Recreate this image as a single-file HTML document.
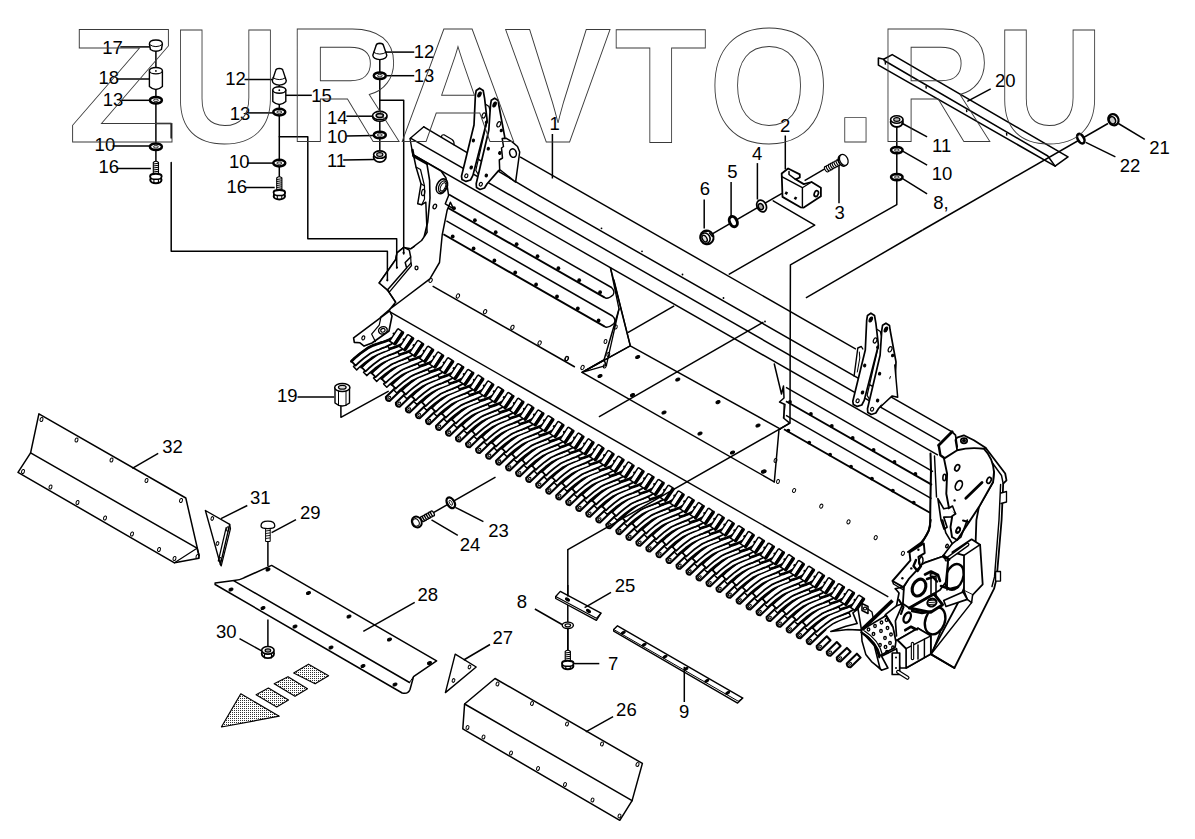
<!DOCTYPE html>
<html><head><meta charset="utf-8"><title>Diagram</title>
<style>
html,body{margin:0;padding:0;background:#fff;}
body{width:1195px;height:839px;overflow:hidden;font-family:"Liberation Sans",sans-serif;}
svg{display:block;}
svg text{font-family:"Liberation Sans",sans-serif;fill:#000;}
</style></head><body>
<svg width="1195" height="839" viewBox="0 0 1195 839">
<rect width="1195" height="839" fill="#fff"/>
<text x="102.2" y="53.9" font-size="18.5" text-anchor="start">17</text>
<text x="98.4" y="84" font-size="18.5" text-anchor="start">18</text>
<text x="102.7" y="106.1" font-size="18.5" text-anchor="start">13</text>
<text x="94.6" y="150.6" font-size="18.5" text-anchor="start">10</text>
<text x="98.4" y="173.2" font-size="18.5" text-anchor="start">16</text>
<text x="225.2" y="84.8" font-size="18.5" text-anchor="start">12</text>
<text x="311.3" y="102.4" font-size="18.5" text-anchor="start">15</text>
<text x="229.7" y="119.9" font-size="18.5" text-anchor="start">13</text>
<text x="229" y="168.1" font-size="18.5" text-anchor="start">10</text>
<text x="226.5" y="192.7" font-size="18.5" text-anchor="start">16</text>
<text x="326.9" y="124" font-size="18.5" text-anchor="start">14</text>
<text x="326.9" y="143" font-size="18.5" text-anchor="start">10</text>
<text x="326.9" y="166.6" font-size="18.5" text-anchor="start">11</text>
<text x="413.7" y="58.2" font-size="18.5" text-anchor="start">12</text>
<text x="413.7" y="82" font-size="18.5" text-anchor="start">13</text>
<text x="549.5" y="129.7" font-size="18.5" text-anchor="start">1</text>
<text x="780" y="132.2" font-size="18.5" text-anchor="start">2</text>
<text x="752" y="159.8" font-size="18.5" text-anchor="start">4</text>
<text x="727.3" y="177.5" font-size="18.5" text-anchor="start">5</text>
<text x="699.7" y="195.3" font-size="18.5" text-anchor="start">6</text>
<text x="834.6" y="219.2" font-size="18.5" text-anchor="start">3</text>
<text x="995" y="86.6" font-size="18.5" text-anchor="start">20</text>
<text x="932" y="151.9" font-size="18.5" text-anchor="start">11</text>
<text x="931.7" y="179.5" font-size="18.5" text-anchor="start">10</text>
<text x="933.2" y="209" font-size="18.5" text-anchor="start">8,</text>
<text x="1149.3" y="154.4" font-size="18.5" text-anchor="start">21</text>
<text x="1119.7" y="172" font-size="18.5" text-anchor="start">22</text>
<text x="277" y="401.6" font-size="18.5" text-anchor="start">19</text>
<text x="162.2" y="452.8" font-size="18.5" text-anchor="start">32</text>
<text x="250" y="504" font-size="18.5" text-anchor="start">31</text>
<text x="300" y="519" font-size="18.5" text-anchor="start">29</text>
<text x="417.5" y="600.5" font-size="18.5" text-anchor="start">28</text>
<text x="215.9" y="637.7" font-size="18.5" text-anchor="start">30</text>
<text x="488.2" y="537.4" font-size="18.5" text-anchor="start">23</text>
<text x="459.8" y="550.5" font-size="18.5" text-anchor="start">24</text>
<text x="614.8" y="591.9" font-size="18.5" text-anchor="start">25</text>
<text x="516.8" y="607.7" font-size="18.5" text-anchor="start">8</text>
<text x="492.5" y="644" font-size="18.5" text-anchor="start">27</text>
<text x="608" y="670.3" font-size="18.5" text-anchor="start">7</text>
<text x="616.1" y="715.7" font-size="18.5" text-anchor="start">26</text>
<text x="679" y="718" font-size="18.5" text-anchor="start">9</text>
<line x1="520" y1="156.8" x2="855.9" y2="349.1" stroke="#000" stroke-width="1.45" />
<path d="M423.8 126.8 L540 196.1 L952.1 431.8" fill="none" stroke="#000" stroke-width="1.5" stroke-linejoin="round" stroke-linecap="round" />
<line x1="410" y1="137.8" x2="940" y2="441.2" stroke="#000" stroke-width="1.45" />
<line x1="413.8" y1="155.1" x2="938" y2="455.2" stroke="#000" stroke-width="1.45" />
<path d="M423.8 126.8 L410 138.5 L413 155.5" fill="none" stroke="#000" stroke-width="1.4" stroke-linejoin="round" stroke-linecap="round" />
<path d="M412.5 150 L413.5 156 L429 166" fill="none" stroke="#000" stroke-width="2.4" stroke-linejoin="round" stroke-linecap="round" />
<path d="M441.5 137.3 Q441.5 134.3 444 134.8 L452 139.4 Q454.5 141 454 144.8" fill="none" stroke="#000" stroke-width="1.2" stroke-linejoin="round" stroke-linecap="round" />
<line x1="449" y1="194.5" x2="611.5" y2="287.5" stroke="#000" stroke-width="1.45" />
<line x1="446" y1="206.7" x2="604.4" y2="297.4" stroke="#000" stroke-width="1.9" />
<path d="M611.5 287.5 Q615.5 291.5 613 295 Q607.4 299.9 604.4 297.4" fill="none" stroke="#000" stroke-width="1.4" stroke-linejoin="round" stroke-linecap="round" />
<line x1="446.4" y1="220.9" x2="612.5" y2="316" stroke="#000" stroke-width="1.45" />
<line x1="443.4" y1="234.2" x2="604.4" y2="326.4" stroke="#000" stroke-width="1.9" />
<path d="M612.5 316 Q616.5 320 614 323.5 Q607.4 328.9 604.4 326.4" fill="none" stroke="#000" stroke-width="1.4" stroke-linejoin="round" stroke-linecap="round" />
<circle cx="454" cy="208.2" r="1.9" fill="#000"/>
<circle cx="452.7" cy="236.5" r="1.9" fill="#000"/>
<circle cx="474.9" cy="220.2" r="1.9" fill="#000"/>
<circle cx="473.6" cy="248.5" r="1.9" fill="#000"/>
<circle cx="495.7" cy="232.2" r="1.9" fill="#000"/>
<circle cx="494.4" cy="260.5" r="1.9" fill="#000"/>
<circle cx="516.6" cy="244.2" r="1.9" fill="#000"/>
<circle cx="515.2" cy="272.5" r="1.9" fill="#000"/>
<circle cx="537.5" cy="256.2" r="1.9" fill="#000"/>
<circle cx="536.1" cy="284.5" r="1.9" fill="#000"/>
<circle cx="558.4" cy="268.2" r="1.9" fill="#000"/>
<circle cx="557" cy="296.5" r="1.9" fill="#000"/>
<circle cx="579.2" cy="280.2" r="1.9" fill="#000"/>
<circle cx="577.8" cy="308.5" r="1.9" fill="#000"/>
<circle cx="600.1" cy="292.2" r="1.9" fill="#000"/>
<circle cx="598.6" cy="320.5" r="1.9" fill="#000"/>
<line x1="786" y1="387.4" x2="933" y2="471.6" stroke="#000" stroke-width="1.45" />
<line x1="786" y1="401.3" x2="932" y2="484.9" stroke="#000" stroke-width="1.9" />
<line x1="786" y1="415.3" x2="931.5" y2="498.6" stroke="#000" stroke-width="1.45" />
<line x1="784" y1="429.2" x2="930" y2="512.8" stroke="#000" stroke-width="1.9" />
<circle cx="790" cy="402" r="1.9" fill="#000"/>
<circle cx="788.3" cy="430.6" r="1.9" fill="#000"/>
<circle cx="810.9" cy="414" r="1.9" fill="#000"/>
<circle cx="809.2" cy="442.6" r="1.9" fill="#000"/>
<circle cx="831.8" cy="426" r="1.9" fill="#000"/>
<circle cx="830.1" cy="454.6" r="1.9" fill="#000"/>
<circle cx="852.7" cy="438" r="1.9" fill="#000"/>
<circle cx="851" cy="466.6" r="1.9" fill="#000"/>
<circle cx="873.6" cy="450" r="1.9" fill="#000"/>
<circle cx="871.9" cy="478.6" r="1.9" fill="#000"/>
<circle cx="894.5" cy="462" r="1.9" fill="#000"/>
<circle cx="892.8" cy="490.6" r="1.9" fill="#000"/>
<circle cx="915.4" cy="474" r="1.9" fill="#000"/>
<circle cx="913.7" cy="502.6" r="1.9" fill="#000"/>
<line x1="390.4" y1="312.2" x2="888.3" y2="596.8" stroke="#000" stroke-width="1.4" />
<line x1="432.6" y1="286.1" x2="574.9" y2="367" stroke="#000" stroke-width="1.5" />
<ellipse cx="430.6" cy="280.4" rx="1.5" ry="2.2" fill="none" stroke="#000" stroke-width="1.0" transform="rotate(25 430.6 280.4)"/>
<ellipse cx="457.9" cy="296" rx="1.5" ry="2.2" fill="none" stroke="#000" stroke-width="1.0" transform="rotate(25 457.9 296)"/>
<ellipse cx="485.1" cy="311.7" rx="1.5" ry="2.2" fill="none" stroke="#000" stroke-width="1.0" transform="rotate(25 485.1 311.7)"/>
<ellipse cx="512.4" cy="327.3" rx="1.5" ry="2.2" fill="none" stroke="#000" stroke-width="1.0" transform="rotate(25 512.4 327.3)"/>
<ellipse cx="539.6" cy="343" rx="1.5" ry="2.2" fill="none" stroke="#000" stroke-width="1.0" transform="rotate(25 539.6 343)"/>
<ellipse cx="566.9" cy="358.6" rx="1.5" ry="2.2" fill="none" stroke="#000" stroke-width="1.0" transform="rotate(25 566.9 358.6)"/>
<ellipse cx="582.5" cy="367.5" rx="1.5" ry="2.2" fill="none" stroke="#000" stroke-width="1.0" transform="rotate(25 582.5 367.5)"/>
<line x1="630.3" y1="345.8" x2="781" y2="429.4" stroke="#000" stroke-width="1.5" />
<line x1="582.1" y1="372.4" x2="774.7" y2="482.1" stroke="#000" stroke-width="1.5" />
<ellipse cx="637.7" cy="357" rx="2.2" ry="1.4" fill="#000" stroke="#000" stroke-width="1.0" transform="rotate(-20 637.7 357)"/>
<ellipse cx="677.8" cy="379.5" rx="2.2" ry="1.4" fill="#000" stroke="#000" stroke-width="1.0" transform="rotate(-20 677.8 379.5)"/>
<ellipse cx="718" cy="402.1" rx="2.2" ry="1.4" fill="#000" stroke="#000" stroke-width="1.0" transform="rotate(-20 718 402.1)"/>
<ellipse cx="758" cy="425.5" rx="2.2" ry="1.4" fill="#000" stroke="#000" stroke-width="1.0" transform="rotate(-20 758 425.5)"/>
<ellipse cx="600" cy="376" rx="2.2" ry="1.4" fill="#000" stroke="#000" stroke-width="1.0" transform="rotate(-20 600 376)"/>
<ellipse cx="632.5" cy="395" rx="2.2" ry="1.4" fill="#000" stroke="#000" stroke-width="1.0" transform="rotate(-20 632.5 395)"/>
<ellipse cx="664" cy="412.5" rx="2.2" ry="1.4" fill="#000" stroke="#000" stroke-width="1.0" transform="rotate(-20 664 412.5)"/>
<ellipse cx="700" cy="433.5" rx="2.2" ry="1.4" fill="#000" stroke="#000" stroke-width="1.0" transform="rotate(-20 700 433.5)"/>
<ellipse cx="732.5" cy="452.5" rx="2.2" ry="1.4" fill="#000" stroke="#000" stroke-width="1.0" transform="rotate(-20 732.5 452.5)"/>
<ellipse cx="764" cy="471.5" rx="2.2" ry="1.4" fill="#000" stroke="#000" stroke-width="1.0" transform="rotate(-20 764 471.5)"/>
<circle cx="601.5" cy="228.3" r="0.9" fill="#000"/>
<circle cx="642" cy="251.3" r="0.9" fill="#000"/>
<circle cx="682.5" cy="274.5" r="0.9" fill="#000"/>
<circle cx="723.5" cy="298" r="0.9" fill="#000"/>
<circle cx="765" cy="321.5" r="0.9" fill="#000"/>
<line x1="627.8" y1="332.7" x2="674.2" y2="305.9" stroke="#000" stroke-width="1.5" />
<line x1="598.9" y1="416.8" x2="763.4" y2="322.2" stroke="#000" stroke-width="1.5" />
<path d="M610.5 268 L619 309 L606.4 365.4 L582.1 372.4 L630.3 345.8 L614 280" fill="#fff" stroke="#000" stroke-width="1.3" stroke-linejoin="round" stroke-linecap="round" />
<path d="M610.5 268 L630.3 345.8 L582.1 372.4 L604 360 L606.4 365.4" fill="none" stroke="#000" stroke-width="1.5" stroke-linejoin="round" stroke-linecap="round" />
<path d="M619 309 L604 360 L582.1 372.4" fill="none" stroke="#000" stroke-width="1.5" stroke-linejoin="round" stroke-linecap="round" />
<ellipse cx="615.8" cy="327" rx="1.4" ry="2.1" fill="none" stroke="#000" stroke-width="1.0" transform="rotate(15 615.8 327)"/>
<ellipse cx="605.5" cy="341.5" rx="1.4" ry="2.1" fill="none" stroke="#000" stroke-width="1.0" transform="rotate(15 605.5 341.5)"/>
<ellipse cx="608.3" cy="354.5" rx="1.4" ry="2.1" fill="none" stroke="#000" stroke-width="1.0" transform="rotate(15 608.3 354.5)"/>
<ellipse cx="604.8" cy="366" rx="1.4" ry="2.1" fill="none" stroke="#000" stroke-width="1.0" transform="rotate(15 604.8 366)"/>
<ellipse cx="566.5" cy="358.5" rx="1.5" ry="2.2" fill="none" stroke="#000" stroke-width="1.0" transform="rotate(25 566.5 358.5)"/>
<path d="M774.3 364 L781.5 394 L783.5 386 L784 398 L779.5 402 L785 404.5 L783.5 418 L789.7 423.1 L779 429.5 L774.3 482" fill="none" stroke="#000" stroke-width="1.5" stroke-linejoin="round" stroke-linecap="round" />
<line x1="784" y1="404.5" x2="784" y2="418" stroke="#000" stroke-width="1.2" />
<ellipse cx="794.1" cy="490.5" rx="1.5" ry="2.1" fill="none" stroke="#000" stroke-width="1.0" transform="rotate(25 794.1 490.5)"/>
<ellipse cx="821.3" cy="506.2" rx="1.5" ry="2.1" fill="none" stroke="#000" stroke-width="1.0" transform="rotate(25 821.3 506.2)"/>
<ellipse cx="848.5" cy="521.9" rx="1.5" ry="2.1" fill="none" stroke="#000" stroke-width="1.0" transform="rotate(25 848.5 521.9)"/>
<ellipse cx="875.7" cy="537.6" rx="1.5" ry="2.1" fill="none" stroke="#000" stroke-width="1.0" transform="rotate(25 875.7 537.6)"/>
<ellipse cx="902.9" cy="553.3" rx="1.5" ry="2.1" fill="none" stroke="#000" stroke-width="1.0" transform="rotate(25 902.9 553.3)"/>
<ellipse cx="775.5" cy="460.5" rx="1.4" ry="2.1" fill="none" stroke="#000" stroke-width="1.0" transform="rotate(15 775.5 460.5)"/>
<ellipse cx="778" cy="481.5" rx="1.4" ry="2.1" fill="none" stroke="#000" stroke-width="1.0" transform="rotate(15 778 481.5)"/>
<ellipse cx="763.5" cy="471.5" rx="2.2" ry="1.4" fill="none" stroke="#000" stroke-width="1.0" transform="rotate(-20 763.5 471.5)"/>
<path d="M413.5 155 L416 167 L421 183.8 L419 196 L417.7 203.8 L421.8 204.7 L425.8 202.2 L427.1 232.3 L421.6 240.5 L410.7 248.8 L403.8 247.4 L397 252.9 L395.6 259.7 L379.2 283 L387.4 289.9 L395.6 302.2 L390.1 309 L429.9 278.9 L439.5 262.5 L442.2 235 L447.1 210.4 L450.4 202.2 L453.6 208.9 L445.3 203.8 L448.6 195.5 L446 178 L441.1 171 Z" fill="#fff" stroke="#000" stroke-width="1.5" stroke-linejoin="round" stroke-linecap="round" />
<path d="M414 156.5 L426.9 163.7" fill="none" stroke="#000" stroke-width="2.4" stroke-linejoin="round" stroke-linecap="round" />
<path d="M426.9 163.7 L429.6 180.4 L430 198 L427.7 222 L424.3 236.3" fill="none" stroke="#000" stroke-width="1.6" stroke-linejoin="round" stroke-linecap="round" />
<path d="M421 183.8 L424.5 186 L424.5 199 L421.8 204.7" fill="none" stroke="#000" stroke-width="1.2" stroke-linejoin="round" stroke-linecap="round" />
<path d="M416 167 L420.5 169.5 L424.5 186" fill="none" stroke="#000" stroke-width="1.2" stroke-linejoin="round" stroke-linecap="round" />
<ellipse cx="423.2" cy="192.5" rx="1.6" ry="3.2" fill="none" stroke="#000" stroke-width="1.2" transform="rotate(10 423.2 192.5)"/>
<ellipse cx="441.9" cy="186.3" rx="5.2" ry="7.8" fill="#fff" stroke="#000" stroke-width="1.5" transform="rotate(25 441.9 186.3)"/>
<ellipse cx="442.6" cy="186.6" rx="3.6" ry="6" fill="#fff" stroke="#000" stroke-width="1.3" transform="rotate(25 442.6 186.6)"/>
<ellipse cx="443" cy="186.8" rx="2.2" ry="4.4" fill="#fff" stroke="#000" stroke-width="1.0" transform="rotate(25 443 186.8)"/>
<ellipse cx="434.8" cy="206.5" rx="1.6" ry="2.4" fill="none" stroke="#000" stroke-width="1.3" transform="rotate(25 434.8 206.5)"/>
<ellipse cx="416.5" cy="268" rx="1.5" ry="1.8" fill="none" stroke="#000" stroke-width="1.3"/>
<path d="M403.8 247.4 L409.3 250.1 L410.7 257 L405.2 262.5 L406.6 267.9 L387.4 289.9 L379.2 283 L395.6 259.7 L397 252.9 Z" fill="#fff" stroke="#000" stroke-width="1.5" stroke-linejoin="round" stroke-linecap="round" />
<path d="M406.6 267.9 L411 263 L410.7 257" fill="none" stroke="#000" stroke-width="1.2" stroke-linejoin="round" stroke-linecap="round" />
<path d="M411 263 L411.5 265.5 L389.5 291.8 L387.4 289.9" fill="none" stroke="#000" stroke-width="1.3" stroke-linejoin="round" stroke-linecap="round" />
<path d="M410.7 248.8 L414.5 246.5" fill="none" stroke="#000" stroke-width="1.2" stroke-linejoin="round" stroke-linecap="round" />
<circle cx="403.6" cy="252.8" r="1.1" fill="#000"/>
<circle cx="397" cy="267.5" r="1.1" fill="#000"/>
<circle cx="387.3" cy="280.3" r="1.1" fill="#000"/>
<path d="M395.6 302.2 L387.4 289.9" fill="none" stroke="#000" stroke-width="1.5" stroke-linejoin="round" stroke-linecap="round" />
<path d="M390.1 309 L380.5 317.3" fill="none" stroke="#000" stroke-width="1.5" stroke-linejoin="round" stroke-linecap="round" />
<path d="M389.7 310.8 L353.6 337.9 L354.3 342.4 L360 342.8 L364.1 346.1 L372 343 L389 331 L392 316 Z" fill="#fff" stroke="#000" stroke-width="1.6" stroke-linejoin="round" stroke-linecap="round" />
<path d="M380.7 318.3 L379.2 325.1 L371.6 334.1 L375.4 341.6" fill="none" stroke="#000" stroke-width="1.2" stroke-linejoin="round" stroke-linecap="round" />
<ellipse cx="382.9" cy="330.3" rx="4.4" ry="3.6" fill="#fff" stroke="#000" stroke-width="1.4" transform="rotate(-20 382.9 330.3)"/>
<ellipse cx="382.9" cy="330.3" rx="2.2" ry="1.8" fill="#fff" stroke="#000" stroke-width="1.1" transform="rotate(-20 382.9 330.3)"/>
<ellipse cx="363.3" cy="337.9" rx="1.4" ry="2.1" fill="none" stroke="#000" stroke-width="1.2" transform="rotate(20 363.3 337.9)"/>
<path d="M475.4 95.1 L476.2 90.5 L479.6 88.2 L483.2 90.5 L484.6 98.4 L487.1 120.2 L472.9 175.4 L470.5 180 L466 181.4 L462 179.5 L461.5 176.2 L474 125 Z" fill="#fff" stroke="#000" stroke-width="1.7" stroke-linejoin="round" stroke-linecap="round" />
<path d="M486 104.5 L489 106.5 L490.5 112" fill="none" stroke="#000" stroke-width="1.3" stroke-linejoin="round" stroke-linecap="round" />
<path d="M487.1 121 L475.8 170.4 L478 174" fill="none" stroke="#000" stroke-width="1.2" stroke-linejoin="round" stroke-linecap="round" />
<path d="M490.5 105.1 L491.3 100.2 L494.6 98.2 L498.2 100.5 L498.8 105 L504.7 136.9 L503.2 168 L498.8 170.4 L487.1 183.8 L484.5 188 L480 189.5 L476.5 187.5 L476.2 183.8 L488.8 130.2 Z" fill="#fff" stroke="#000" stroke-width="1.7" stroke-linejoin="round" stroke-linecap="round" />
<ellipse cx="479.5" cy="94.5" rx="1.4" ry="2.6" fill="#000" stroke="#000" stroke-width="1.2" transform="rotate(25 479.5 94.5)"/>
<ellipse cx="483.8" cy="115.5" rx="1.6" ry="2.6" fill="none" stroke="#000" stroke-width="1.2" transform="rotate(25 483.8 115.5)"/>
<ellipse cx="473.4" cy="140.5" rx="1" ry="1.3" fill="#000" stroke="#000" stroke-width="1.2" transform="rotate(25 473.4 140.5)"/>
<ellipse cx="471.2" cy="167.5" rx="1.1" ry="1.5" fill="#000" stroke="#000" stroke-width="1.2" transform="rotate(25 471.2 167.5)"/>
<ellipse cx="466.3" cy="175.8" rx="1.5" ry="1.9" fill="none" stroke="#000" stroke-width="1.2" transform="rotate(25 466.3 175.8)"/>
<ellipse cx="486.3" cy="122.3" rx="0.9" ry="1.1" fill="#000" stroke="#000" stroke-width="1.2" transform="rotate(25 486.3 122.3)"/>
<ellipse cx="494.6" cy="104.5" rx="1.4" ry="2.6" fill="#000" stroke="#000" stroke-width="1.2" transform="rotate(25 494.6 104.5)"/>
<ellipse cx="498.8" cy="124.3" rx="1.7" ry="2.8" fill="none" stroke="#000" stroke-width="1.2" transform="rotate(25 498.8 124.3)"/>
<ellipse cx="488.3" cy="148.7" rx="1" ry="1.3" fill="#000" stroke="#000" stroke-width="1.2" transform="rotate(25 488.3 148.7)"/>
<ellipse cx="486.3" cy="175.5" rx="1.1" ry="1.4" fill="#000" stroke="#000" stroke-width="1.2" transform="rotate(25 486.3 175.5)"/>
<ellipse cx="480.8" cy="184.2" rx="1.5" ry="1.9" fill="none" stroke="#000" stroke-width="1.2" transform="rotate(25 480.8 184.2)"/>
<ellipse cx="501.3" cy="130.5" rx="1" ry="1.2" fill="#000" stroke="#000" stroke-width="1.2" transform="rotate(25 501.3 130.5)"/>
<ellipse cx="499.8" cy="153" rx="1.1" ry="1.4" fill="#000" stroke="#000" stroke-width="1.2" transform="rotate(25 499.8 153)"/>
<path d="M502.2 138.6 L506 138.2 L512.2 141.9 L517.5 146.5 L519.7 152 L515.6 182.1 L499.7 169.5 L499.3 160 L502.5 158 L501.5 148 L503.5 146.5 Z" fill="#fff" stroke="#000" stroke-width="1.5" stroke-linejoin="round" stroke-linecap="round" />
<ellipse cx="513" cy="153.1" rx="3.3" ry="4.3" fill="#fff" stroke="#000" stroke-width="1.5" transform="rotate(-15 513 153.1)"/>
<path d="M866.7 320.1 L867.5 315.5 L870.9 313.2 L874.5 315.5 L875.9 323.4 L878.4 345.2 L864.2 400.4 L861.8 405 L857.3 406.4 L853.3 404.5 L852.8 401.2 L865.3 350 Z" fill="#fff" stroke="#000" stroke-width="1.7" stroke-linejoin="round" stroke-linecap="round" />
<path d="M877.3 329.5 L880.3 331.5 L881.8 337" fill="none" stroke="#000" stroke-width="1.3" stroke-linejoin="round" stroke-linecap="round" />
<path d="M878.4 346 L867.1 395.4 L869.3 399" fill="none" stroke="#000" stroke-width="1.2" stroke-linejoin="round" stroke-linecap="round" />
<path d="M881.8 330.1 L882.6 325.2 L885.9 323.2 L889.5 325.5 L890.1 330 L896 361.9 L894.5 393 L890.1 395.4 L878.4 408.8 L875.8 413 L871.3 414.5 L867.8 412.5 L867.5 408.8 L880.1 355.2 Z" fill="#fff" stroke="#000" stroke-width="1.7" stroke-linejoin="round" stroke-linecap="round" />
<ellipse cx="870.8" cy="319.5" rx="1.4" ry="2.6" fill="#000" stroke="#000" stroke-width="1.2" transform="rotate(25 870.8 319.5)"/>
<ellipse cx="875.1" cy="340.5" rx="1.6" ry="2.6" fill="none" stroke="#000" stroke-width="1.2" transform="rotate(25 875.1 340.5)"/>
<ellipse cx="864.7" cy="365.5" rx="1" ry="1.3" fill="#000" stroke="#000" stroke-width="1.2" transform="rotate(25 864.7 365.5)"/>
<ellipse cx="862.5" cy="392.5" rx="1.1" ry="1.5" fill="#000" stroke="#000" stroke-width="1.2" transform="rotate(25 862.5 392.5)"/>
<ellipse cx="857.6" cy="400.8" rx="1.5" ry="1.9" fill="none" stroke="#000" stroke-width="1.2" transform="rotate(25 857.6 400.8)"/>
<ellipse cx="877.6" cy="347.3" rx="0.9" ry="1.1" fill="#000" stroke="#000" stroke-width="1.2" transform="rotate(25 877.6 347.3)"/>
<ellipse cx="885.9" cy="329.5" rx="1.4" ry="2.6" fill="#000" stroke="#000" stroke-width="1.2" transform="rotate(25 885.9 329.5)"/>
<ellipse cx="890.1" cy="349.3" rx="1.7" ry="2.8" fill="none" stroke="#000" stroke-width="1.2" transform="rotate(25 890.1 349.3)"/>
<ellipse cx="879.6" cy="373.7" rx="1" ry="1.3" fill="#000" stroke="#000" stroke-width="1.2" transform="rotate(25 879.6 373.7)"/>
<ellipse cx="877.6" cy="400.5" rx="1.1" ry="1.4" fill="#000" stroke="#000" stroke-width="1.2" transform="rotate(25 877.6 400.5)"/>
<ellipse cx="872.1" cy="409.2" rx="1.5" ry="1.9" fill="none" stroke="#000" stroke-width="1.2" transform="rotate(25 872.1 409.2)"/>
<ellipse cx="892.6" cy="355.5" rx="1" ry="1.2" fill="#000" stroke="#000" stroke-width="1.2" transform="rotate(25 892.6 355.5)"/>
<ellipse cx="891.1" cy="378" rx="1.1" ry="1.4" fill="#000" stroke="#000" stroke-width="1.2" transform="rotate(25 891.1 378)"/>
<path d="M894.8 365 L897.7 397.3 L892.2 395.9 L880.8 406.5" fill="#fff" stroke="#000" stroke-width="1.5" stroke-linejoin="round" stroke-linecap="round" />
<path d="M854.1 376 L857.8 348 L861.3 346.5 L862.8 349" fill="#fff" stroke="#000" stroke-width="1.4" stroke-linejoin="round" stroke-linecap="round" />
<path d="M859.3 352 L859.8 358 L857.3 372" fill="none" stroke="#000" stroke-width="1.0" stroke-linejoin="round" stroke-linecap="round" />
<path d="M856.9 653.7 L846.8 663.4 Q846.5 667.4 850.5 667.3 L860.6 657.6 Z" fill="#fff" stroke="#000" stroke-width="2.1" stroke-linejoin="round" stroke-linecap="round" />
<ellipse cx="850.1" cy="663.9" rx="1.7" ry="1" fill="#fff" stroke="#000" stroke-width="1.0" transform="rotate(-40 850.1 663.9)"/>
<path d="M846.9 647.9 L836.8 657.6 Q836.5 661.6 840.5 661.5 L850.6 651.8 Z" fill="#fff" stroke="#000" stroke-width="2.1" stroke-linejoin="round" stroke-linecap="round" />
<ellipse cx="840.1" cy="658.1" rx="1.7" ry="1" fill="#fff" stroke="#000" stroke-width="1.0" transform="rotate(-40 840.1 658.1)"/>
<path d="M836.8 642.1 L826.8 651.8 Q826.5 655.8 830.5 655.7 L840.6 646 Z" fill="#fff" stroke="#000" stroke-width="2.1" stroke-linejoin="round" stroke-linecap="round" />
<ellipse cx="830.1" cy="652.4" rx="1.7" ry="1" fill="#fff" stroke="#000" stroke-width="1.0" transform="rotate(-40 830.1 652.4)"/>
<path d="M826.8 636.3 L816.7 646 Q816.4 650 820.5 649.9 L830.5 640.2 Z" fill="#fff" stroke="#000" stroke-width="2.1" stroke-linejoin="round" stroke-linecap="round" />
<ellipse cx="820" cy="646.6" rx="1.7" ry="1" fill="#fff" stroke="#000" stroke-width="1.0" transform="rotate(-40 820 646.6)"/>
<path d="M821.8 625.7 L806.7 640.2 Q806.4 644.2 810.4 644.1 L825.6 629.6" fill="#fff" stroke="#000" stroke-width="2.1" stroke-linejoin="round" stroke-linecap="round" />
<ellipse cx="810" cy="640.8" rx="1.7" ry="1" fill="#fff" stroke="#000" stroke-width="1.0" transform="rotate(-40 810 640.8)"/>
<path d="M811.8 619.9 L796.7 634.4 Q796.4 638.4 800.4 638.3 L815.5 623.8" fill="#fff" stroke="#000" stroke-width="2.1" stroke-linejoin="round" stroke-linecap="round" />
<ellipse cx="800" cy="635" rx="1.7" ry="1" fill="#fff" stroke="#000" stroke-width="1.0" transform="rotate(-40 800 635)"/>
<path d="M801.8 614.1 L786.7 628.6 Q786.4 632.7 790.4 632.5 L805.5 618" fill="#fff" stroke="#000" stroke-width="2.1" stroke-linejoin="round" stroke-linecap="round" />
<ellipse cx="790" cy="629.2" rx="1.7" ry="1" fill="#fff" stroke="#000" stroke-width="1.0" transform="rotate(-40 790 629.2)"/>
<path d="M791.8 608.4 L776.7 622.8 Q776.4 626.9 780.4 626.7 L795.5 612.2" fill="#fff" stroke="#000" stroke-width="2.1" stroke-linejoin="round" stroke-linecap="round" />
<ellipse cx="780" cy="623.4" rx="1.7" ry="1" fill="#fff" stroke="#000" stroke-width="1.0" transform="rotate(-40 780 623.4)"/>
<path d="M781.8 602.6 L766.6 617.1 Q766.3 621.1 770.4 620.9 L785.5 606.5" fill="#fff" stroke="#000" stroke-width="2.1" stroke-linejoin="round" stroke-linecap="round" />
<ellipse cx="769.9" cy="617.6" rx="1.7" ry="1" fill="#fff" stroke="#000" stroke-width="1.0" transform="rotate(-40 769.9 617.6)"/>
<path d="M771.7 596.8 L756.6 611.3 Q756.3 615.3 760.3 615.2 L775.5 600.7" fill="#fff" stroke="#000" stroke-width="2.1" stroke-linejoin="round" stroke-linecap="round" />
<ellipse cx="759.9" cy="611.8" rx="1.7" ry="1" fill="#fff" stroke="#000" stroke-width="1.0" transform="rotate(-40 759.9 611.8)"/>
<path d="M761.7 591 L746.6 605.5 Q746.3 609.5 750.3 609.4 L765.4 594.9" fill="#fff" stroke="#000" stroke-width="2.1" stroke-linejoin="round" stroke-linecap="round" />
<ellipse cx="749.9" cy="606" rx="1.7" ry="1" fill="#fff" stroke="#000" stroke-width="1.0" transform="rotate(-40 749.9 606)"/>
<path d="M751.7 585.2 L736.6 599.7 Q736.3 603.7 740.3 603.6 L755.4 589.1" fill="#fff" stroke="#000" stroke-width="2.1" stroke-linejoin="round" stroke-linecap="round" />
<ellipse cx="739.9" cy="600.2" rx="1.7" ry="1" fill="#fff" stroke="#000" stroke-width="1.0" transform="rotate(-40 739.9 600.2)"/>
<path d="M741.7 579.4 L726.6 593.9 Q726.3 597.9 730.3 597.8 L745.4 583.3" fill="#fff" stroke="#000" stroke-width="2.1" stroke-linejoin="round" stroke-linecap="round" />
<ellipse cx="729.9" cy="594.5" rx="1.7" ry="1" fill="#fff" stroke="#000" stroke-width="1.0" transform="rotate(-40 729.9 594.5)"/>
<path d="M731.7 573.6 L716.5 588.1 Q716.2 592.1 720.3 592 L735.4 577.5" fill="#fff" stroke="#000" stroke-width="2.1" stroke-linejoin="round" stroke-linecap="round" />
<ellipse cx="719.8" cy="588.7" rx="1.7" ry="1" fill="#fff" stroke="#000" stroke-width="1.0" transform="rotate(-40 719.8 588.7)"/>
<path d="M721.6 567.8 L706.5 582.3 Q706.2 586.3 710.2 586.2 L725.4 571.7" fill="#fff" stroke="#000" stroke-width="2.1" stroke-linejoin="round" stroke-linecap="round" />
<ellipse cx="709.8" cy="582.9" rx="1.7" ry="1" fill="#fff" stroke="#000" stroke-width="1.0" transform="rotate(-40 709.8 582.9)"/>
<path d="M711.6 562 L696.5 576.5 Q696.2 580.5 700.2 580.4 L715.3 565.9" fill="#fff" stroke="#000" stroke-width="2.1" stroke-linejoin="round" stroke-linecap="round" />
<ellipse cx="699.8" cy="577.1" rx="1.7" ry="1" fill="#fff" stroke="#000" stroke-width="1.0" transform="rotate(-40 699.8 577.1)"/>
<path d="M701.6 556.2 L686.5 570.7 Q686.2 574.8 690.2 574.6 L705.3 560.1" fill="#fff" stroke="#000" stroke-width="2.1" stroke-linejoin="round" stroke-linecap="round" />
<ellipse cx="689.8" cy="571.3" rx="1.7" ry="1" fill="#fff" stroke="#000" stroke-width="1.0" transform="rotate(-40 689.8 571.3)"/>
<path d="M691.6 550.5 L676.5 564.9 Q676.2 569 680.2 568.8 L695.3 554.3" fill="#fff" stroke="#000" stroke-width="2.1" stroke-linejoin="round" stroke-linecap="round" />
<ellipse cx="679.8" cy="565.5" rx="1.7" ry="1" fill="#fff" stroke="#000" stroke-width="1.0" transform="rotate(-40 679.8 565.5)"/>
<path d="M681.6 544.7 L666.4 559.2 Q666.1 563.2 670.2 563 L685.3 548.6" fill="#fff" stroke="#000" stroke-width="2.1" stroke-linejoin="round" stroke-linecap="round" />
<ellipse cx="669.7" cy="559.7" rx="1.7" ry="1" fill="#fff" stroke="#000" stroke-width="1.0" transform="rotate(-40 669.7 559.7)"/>
<path d="M671.5 538.9 L656.4 553.4 Q656.1 557.4 660.1 557.3 L675.3 542.8" fill="#fff" stroke="#000" stroke-width="2.1" stroke-linejoin="round" stroke-linecap="round" />
<ellipse cx="659.7" cy="553.9" rx="1.7" ry="1" fill="#fff" stroke="#000" stroke-width="1.0" transform="rotate(-40 659.7 553.9)"/>
<path d="M661.5 533.1 L646.4 547.6 Q646.1 551.6 650.1 551.5 L665.2 537" fill="#fff" stroke="#000" stroke-width="2.1" stroke-linejoin="round" stroke-linecap="round" />
<ellipse cx="649.7" cy="548.1" rx="1.7" ry="1" fill="#fff" stroke="#000" stroke-width="1.0" transform="rotate(-40 649.7 548.1)"/>
<path d="M651.5 527.3 L636.4 541.8 Q636.1 545.8 640.1 545.7 L655.2 531.2" fill="#fff" stroke="#000" stroke-width="2.1" stroke-linejoin="round" stroke-linecap="round" />
<ellipse cx="639.7" cy="542.4" rx="1.7" ry="1" fill="#fff" stroke="#000" stroke-width="1.0" transform="rotate(-40 639.7 542.4)"/>
<path d="M641.5 521.5 L626.4 536 Q626.1 540 630.1 539.9 L645.2 525.4" fill="#fff" stroke="#000" stroke-width="2.1" stroke-linejoin="round" stroke-linecap="round" />
<ellipse cx="629.7" cy="536.6" rx="1.7" ry="1" fill="#fff" stroke="#000" stroke-width="1.0" transform="rotate(-40 629.7 536.6)"/>
<path d="M631.5 515.7 L616.3 530.2 Q616 534.2 620.1 534.1 L635.2 519.6" fill="#fff" stroke="#000" stroke-width="2.1" stroke-linejoin="round" stroke-linecap="round" />
<ellipse cx="619.6" cy="530.8" rx="1.7" ry="1" fill="#fff" stroke="#000" stroke-width="1.0" transform="rotate(-40 619.6 530.8)"/>
<path d="M621.4 509.9 L606.3 524.4 Q606 528.4 610 528.3 L625.2 513.8" fill="#fff" stroke="#000" stroke-width="2.1" stroke-linejoin="round" stroke-linecap="round" />
<ellipse cx="609.6" cy="525" rx="1.7" ry="1" fill="#fff" stroke="#000" stroke-width="1.0" transform="rotate(-40 609.6 525)"/>
<path d="M611.4 504.1 L596.3 518.6 Q596 522.6 600 522.5 L615.1 508" fill="#fff" stroke="#000" stroke-width="2.1" stroke-linejoin="round" stroke-linecap="round" />
<ellipse cx="599.6" cy="519.2" rx="1.7" ry="1" fill="#fff" stroke="#000" stroke-width="1.0" transform="rotate(-40 599.6 519.2)"/>
<path d="M601.4 498.3 L586.3 512.8 Q586 516.9 590 516.7 L605.1 502.2" fill="#fff" stroke="#000" stroke-width="2.1" stroke-linejoin="round" stroke-linecap="round" />
<ellipse cx="589.6" cy="513.4" rx="1.7" ry="1" fill="#fff" stroke="#000" stroke-width="1.0" transform="rotate(-40 589.6 513.4)"/>
<path d="M591.4 492.6 L576.3 507 Q576 511.1 580 510.9 L595.1 496.4" fill="#fff" stroke="#000" stroke-width="2.1" stroke-linejoin="round" stroke-linecap="round" />
<ellipse cx="579.6" cy="507.6" rx="1.7" ry="1" fill="#fff" stroke="#000" stroke-width="1.0" transform="rotate(-40 579.6 507.6)"/>
<path d="M581.4 486.8 L566.2 501.3 Q565.9 505.3 570 505.1 L585.1 490.7" fill="#fff" stroke="#000" stroke-width="2.1" stroke-linejoin="round" stroke-linecap="round" />
<ellipse cx="569.5" cy="501.8" rx="1.7" ry="1" fill="#fff" stroke="#000" stroke-width="1.0" transform="rotate(-40 569.5 501.8)"/>
<path d="M571.3 481 L556.2 495.5 Q555.9 499.5 559.9 499.4 L575.1 484.9" fill="#fff" stroke="#000" stroke-width="2.1" stroke-linejoin="round" stroke-linecap="round" />
<ellipse cx="559.5" cy="496" rx="1.7" ry="1" fill="#fff" stroke="#000" stroke-width="1.0" transform="rotate(-40 559.5 496)"/>
<path d="M561.3 475.2 L546.2 489.7 Q545.9 493.7 549.9 493.6 L565 479.1" fill="#fff" stroke="#000" stroke-width="2.1" stroke-linejoin="round" stroke-linecap="round" />
<ellipse cx="549.5" cy="490.2" rx="1.7" ry="1" fill="#fff" stroke="#000" stroke-width="1.0" transform="rotate(-40 549.5 490.2)"/>
<path d="M551.3 469.4 L536.2 483.9 Q535.9 487.9 539.9 487.8 L555 473.3" fill="#fff" stroke="#000" stroke-width="2.1" stroke-linejoin="round" stroke-linecap="round" />
<ellipse cx="539.5" cy="484.4" rx="1.7" ry="1" fill="#fff" stroke="#000" stroke-width="1.0" transform="rotate(-40 539.5 484.4)"/>
<path d="M541.3 463.6 L526.2 478.1 Q525.9 482.1 529.9 482 L545 467.5" fill="#fff" stroke="#000" stroke-width="2.1" stroke-linejoin="round" stroke-linecap="round" />
<ellipse cx="529.5" cy="478.7" rx="1.7" ry="1" fill="#fff" stroke="#000" stroke-width="1.0" transform="rotate(-40 529.5 478.7)"/>
<path d="M531.3 457.8 L516.1 472.3 Q515.8 476.3 519.9 476.2 L535 461.7" fill="#fff" stroke="#000" stroke-width="2.1" stroke-linejoin="round" stroke-linecap="round" />
<ellipse cx="519.4" cy="472.9" rx="1.7" ry="1" fill="#fff" stroke="#000" stroke-width="1.0" transform="rotate(-40 519.4 472.9)"/>
<path d="M521.2 452 L506.1 466.5 Q505.8 470.5 509.8 470.4 L525 455.9" fill="#fff" stroke="#000" stroke-width="2.1" stroke-linejoin="round" stroke-linecap="round" />
<ellipse cx="509.4" cy="467.1" rx="1.7" ry="1" fill="#fff" stroke="#000" stroke-width="1.0" transform="rotate(-40 509.4 467.1)"/>
<path d="M511.2 446.2 L496.1 460.7 Q495.8 464.7 499.8 464.6 L514.9 450.1" fill="#fff" stroke="#000" stroke-width="2.1" stroke-linejoin="round" stroke-linecap="round" />
<ellipse cx="499.4" cy="461.3" rx="1.7" ry="1" fill="#fff" stroke="#000" stroke-width="1.0" transform="rotate(-40 499.4 461.3)"/>
<path d="M501.2 440.4 L486.1 454.9 Q485.8 458.9 489.8 458.8 L504.9 444.3" fill="#fff" stroke="#000" stroke-width="2.1" stroke-linejoin="round" stroke-linecap="round" />
<ellipse cx="489.4" cy="455.5" rx="1.7" ry="1" fill="#fff" stroke="#000" stroke-width="1.0" transform="rotate(-40 489.4 455.5)"/>
<path d="M491.2 434.7 L476.1 449.1 Q475.8 453.2 479.8 453 L494.9 438.5" fill="#fff" stroke="#000" stroke-width="2.1" stroke-linejoin="round" stroke-linecap="round" />
<ellipse cx="479.4" cy="449.7" rx="1.7" ry="1" fill="#fff" stroke="#000" stroke-width="1.0" transform="rotate(-40 479.4 449.7)"/>
<path d="M481.2 428.9 L466 443.4 Q465.7 447.4 469.8 447.2 L484.9 432.8" fill="#fff" stroke="#000" stroke-width="2.1" stroke-linejoin="round" stroke-linecap="round" />
<ellipse cx="469.3" cy="443.9" rx="1.7" ry="1" fill="#fff" stroke="#000" stroke-width="1.0" transform="rotate(-40 469.3 443.9)"/>
<path d="M471.1 423.1 L456 437.6 Q455.7 441.6 459.7 441.5 L474.9 427" fill="#fff" stroke="#000" stroke-width="2.1" stroke-linejoin="round" stroke-linecap="round" />
<ellipse cx="459.3" cy="438.1" rx="1.7" ry="1" fill="#fff" stroke="#000" stroke-width="1.0" transform="rotate(-40 459.3 438.1)"/>
<path d="M461.1 417.3 L446 431.8 Q445.7 435.8 449.7 435.7 L464.8 421.2" fill="#fff" stroke="#000" stroke-width="2.1" stroke-linejoin="round" stroke-linecap="round" />
<ellipse cx="449.3" cy="432.3" rx="1.7" ry="1" fill="#fff" stroke="#000" stroke-width="1.0" transform="rotate(-40 449.3 432.3)"/>
<path d="M451.1 411.5 L436 426 Q435.7 430 439.7 429.9 L454.8 415.4" fill="#fff" stroke="#000" stroke-width="2.1" stroke-linejoin="round" stroke-linecap="round" />
<ellipse cx="439.3" cy="426.5" rx="1.7" ry="1" fill="#fff" stroke="#000" stroke-width="1.0" transform="rotate(-40 439.3 426.5)"/>
<path d="M441.1 405.7 L426 420.2 Q425.7 424.2 429.7 424.1 L444.8 409.6" fill="#fff" stroke="#000" stroke-width="2.1" stroke-linejoin="round" stroke-linecap="round" />
<ellipse cx="429.3" cy="420.8" rx="1.7" ry="1" fill="#fff" stroke="#000" stroke-width="1.0" transform="rotate(-40 429.3 420.8)"/>
<path d="M431.1 399.9 L415.9 414.4 Q415.6 418.4 419.7 418.3 L434.8 403.8" fill="#fff" stroke="#000" stroke-width="2.1" stroke-linejoin="round" stroke-linecap="round" />
<ellipse cx="419.2" cy="415" rx="1.7" ry="1" fill="#fff" stroke="#000" stroke-width="1.0" transform="rotate(-40 419.2 415)"/>
<path d="M421 394.1 L405.9 408.6 Q405.6 412.6 409.6 412.5 L424.8 398" fill="#fff" stroke="#000" stroke-width="2.1" stroke-linejoin="round" stroke-linecap="round" />
<ellipse cx="409.2" cy="409.2" rx="1.7" ry="1" fill="#fff" stroke="#000" stroke-width="1.0" transform="rotate(-40 409.2 409.2)"/>
<path d="M411 388.3 L395.9 402.8 Q395.6 406.8 399.6 406.7 L414.7 392.2" fill="#fff" stroke="#000" stroke-width="2.1" stroke-linejoin="round" stroke-linecap="round" />
<ellipse cx="399.2" cy="403.4" rx="1.7" ry="1" fill="#fff" stroke="#000" stroke-width="1.0" transform="rotate(-40 399.2 403.4)"/>
<path d="M401 382.5 L385.9 397 Q385.6 401 389.6 400.9 L404.7 386.4" fill="#fff" stroke="#000" stroke-width="2.1" stroke-linejoin="round" stroke-linecap="round" />
<ellipse cx="389.2" cy="397.6" rx="1.7" ry="1" fill="#fff" stroke="#000" stroke-width="1.0" transform="rotate(-40 389.2 397.6)"/>
<path d="M849 612.6 L846 613.7 L843 614.8 L839.9 615.8 L836.7 617 L833.6 618.3 L830.3 620 L823.1 625.2 L817.8 629.7 L814.4 632.9 L817.6 636.2 L820.8 633.1 L825.9 628.8 L832.8 623.9 L835.5 622.5 L838.5 621.1 L841.4 619.9 L844.4 618.7 L847.5 617.5 L850.5 616.2 Z" fill="#fff" stroke="#000" stroke-width="1.5" stroke-linejoin="round" stroke-linecap="round" />
<path d="M852.8 604.7 L850 606.1 L847.1 607.3 L844.2 608.3 L841.1 609.3 L838 610.3 L834.8 611.5 L831.7 612.9 L828.3 614.6 L821.1 619.8 L815.7 624.3 L812.3 627.6 L816.5 631.9 L819.7 628.8 L824.8 624.6 L831.6 619.6 L834.2 618.3 L837.1 617 L840.1 615.8 L843.1 614.6 L846.1 613.3 L849.2 612 L852.2 610.4 L855 608.7 Z" fill="#fff" stroke="#000" stroke-width="1.8" stroke-linejoin="round" stroke-linecap="round" />
<path d="M852.8 604.7 L850 606.1 L847.1 607.3 L844.2 608.3 L841.1 609.3 L838 610.3 L834.8 611.5 L831.7 612.9 L828.3 614.6 L821.1 619.8 L815.7 624.3 L812.3 627.6" fill="none" stroke="#000" stroke-width="2.7" stroke-linejoin="round" stroke-linecap="round" />
<path d="M839 606.9 L836 608 L833 609 L829.9 610 L826.7 611.2 L823.5 612.5 L820.2 614.2 L813.1 619.4 L807.7 623.9 L804.4 627.1 L807.6 630.4 L810.8 627.3 L815.9 623 L822.8 618.1 L825.5 616.7 L828.4 615.3 L831.4 614.1 L834.4 612.9 L837.5 611.7 L840.4 610.4 Z" fill="#fff" stroke="#000" stroke-width="1.5" stroke-linejoin="round" stroke-linecap="round" />
<path d="M842.8 598.9 L840 600.3 L837.1 601.5 L834.2 602.5 L831.1 603.5 L828 604.5 L824.8 605.7 L821.6 607.1 L818.3 608.8 L811.1 614 L805.7 618.6 L802.3 621.8 L806.5 626.1 L809.7 623 L814.7 618.8 L821.5 613.9 L824.2 612.5 L827.1 611.2 L830.1 610 L833.1 608.8 L836.1 607.5 L839.1 606.2 L842.2 604.6 L845 602.9 Z" fill="#fff" stroke="#000" stroke-width="1.8" stroke-linejoin="round" stroke-linecap="round" />
<path d="M842.8 598.9 L840 600.3 L837.1 601.5 L834.2 602.5 L831.1 603.5 L828 604.5 L824.8 605.7 L821.6 607.1 L818.3 608.8 L811.1 614 L805.7 618.6 L802.3 621.8" fill="none" stroke="#000" stroke-width="2.7" stroke-linejoin="round" stroke-linecap="round" />
<path d="M829 601.1 L826 602.2 L823 603.2 L819.9 604.2 L816.7 605.4 L813.5 606.7 L810.2 608.4 L803.1 613.6 L797.7 618.1 L794.4 621.3 L797.6 624.6 L800.8 621.5 L805.9 617.2 L812.7 612.3 L815.5 610.9 L818.4 609.5 L821.4 608.3 L824.4 607.1 L827.4 605.9 L830.4 604.6 Z" fill="#fff" stroke="#000" stroke-width="1.5" stroke-linejoin="round" stroke-linecap="round" />
<path d="M832.8 593.1 L830 594.5 L827.1 595.7 L824.2 596.7 L821.1 597.7 L818 598.7 L814.8 599.9 L811.6 601.3 L808.2 603.1 L801 608.2 L795.7 612.8 L792.3 616 L796.5 620.3 L799.6 617.3 L804.7 613 L811.5 608.1 L814.2 606.7 L817.1 605.4 L820.1 604.2 L823.1 603 L826.1 601.7 L829.1 600.4 L832.1 598.9 L835 597.2 Z" fill="#fff" stroke="#000" stroke-width="1.8" stroke-linejoin="round" stroke-linecap="round" />
<path d="M832.8 593.1 L830 594.5 L827.1 595.7 L824.2 596.7 L821.1 597.7 L818 598.7 L814.8 599.9 L811.6 601.3 L808.2 603.1 L801 608.2 L795.7 612.8 L792.3 616" fill="none" stroke="#000" stroke-width="2.7" stroke-linejoin="round" stroke-linecap="round" />
<path d="M819 595.3 L816 596.4 L812.9 597.4 L809.8 598.5 L806.7 599.6 L803.5 600.9 L800.2 602.6 L793.1 607.8 L787.7 612.3 L784.4 615.5 L787.6 618.8 L790.8 615.7 L795.9 611.4 L802.7 606.5 L805.5 605.1 L808.4 603.8 L811.4 602.5 L814.4 601.3 L817.4 600.1 L820.4 598.8 Z" fill="#fff" stroke="#000" stroke-width="1.5" stroke-linejoin="round" stroke-linecap="round" />
<path d="M822.8 587.3 L819.9 588.7 L817.1 589.9 L814.1 590.9 L811.1 591.9 L808 592.9 L804.8 594.1 L801.6 595.5 L798.2 597.3 L791 602.4 L785.6 607 L782.3 610.2 L786.4 614.5 L789.6 611.5 L794.7 607.2 L801.5 602.3 L804.2 600.9 L807.1 599.6 L810 598.4 L813 597.2 L816.1 595.9 L819.1 594.6 L822.1 593.1 L825 591.4 Z" fill="#fff" stroke="#000" stroke-width="1.8" stroke-linejoin="round" stroke-linecap="round" />
<path d="M822.8 587.3 L819.9 588.7 L817.1 589.9 L814.1 590.9 L811.1 591.9 L808 592.9 L804.8 594.1 L801.6 595.5 L798.2 597.3 L791 602.4 L785.6 607 L782.3 610.2" fill="none" stroke="#000" stroke-width="2.7" stroke-linejoin="round" stroke-linecap="round" />
<path d="M809 589.5 L806 590.6 L802.9 591.6 L799.8 592.7 L796.7 593.8 L793.5 595.1 L790.2 596.9 L783 602 L777.7 606.5 L774.3 609.7 L777.5 613 L780.7 609.9 L785.8 605.6 L792.7 600.7 L795.5 599.3 L798.4 598 L801.3 596.7 L804.4 595.5 L807.4 594.3 L810.4 593 Z" fill="#fff" stroke="#000" stroke-width="1.5" stroke-linejoin="round" stroke-linecap="round" />
<path d="M812.8 581.5 L809.9 582.9 L807.1 584.1 L804.1 585.1 L801.1 586.1 L797.9 587.1 L794.8 588.3 L791.6 589.7 L788.2 591.5 L781 596.6 L775.6 601.2 L772.3 604.4 L776.4 608.7 L779.6 605.7 L784.7 601.4 L791.5 596.5 L794.2 595.1 L797.1 593.9 L800 592.6 L803 591.4 L806 590.1 L809.1 588.8 L812.1 587.3 L815 585.6 Z" fill="#fff" stroke="#000" stroke-width="1.8" stroke-linejoin="round" stroke-linecap="round" />
<path d="M812.8 581.5 L809.9 582.9 L807.1 584.1 L804.1 585.1 L801.1 586.1 L797.9 587.1 L794.8 588.3 L791.6 589.7 L788.2 591.5 L781 596.6 L775.6 601.2 L772.3 604.4" fill="none" stroke="#000" stroke-width="2.7" stroke-linejoin="round" stroke-linecap="round" />
<path d="M798.9 583.7 L795.9 584.8 L792.9 585.8 L789.8 586.9 L786.6 588 L783.5 589.4 L780.2 591.1 L773 596.2 L767.7 600.7 L764.3 603.9 L767.5 607.2 L770.7 604.2 L775.8 599.8 L782.7 594.9 L785.4 593.5 L788.4 592.2 L791.3 590.9 L794.3 589.7 L797.4 588.5 L800.4 587.2 Z" fill="#fff" stroke="#000" stroke-width="1.5" stroke-linejoin="round" stroke-linecap="round" />
<path d="M802.7 575.7 L799.9 577.1 L797 578.3 L794.1 579.3 L791 580.3 L787.9 581.4 L784.7 582.5 L781.6 583.9 L778.2 585.7 L771 590.9 L765.6 595.4 L762.2 598.6 L766.4 603 L769.6 599.9 L774.7 595.6 L781.5 590.7 L784.1 589.3 L787 588.1 L790 586.8 L793 585.6 L796 584.4 L799.1 583 L802.1 581.5 L804.9 579.8 Z" fill="#fff" stroke="#000" stroke-width="1.8" stroke-linejoin="round" stroke-linecap="round" />
<path d="M802.7 575.7 L799.9 577.1 L797 578.3 L794.1 579.3 L791 580.3 L787.9 581.4 L784.7 582.5 L781.6 583.9 L778.2 585.7 L771 590.9 L765.6 595.4 L762.2 598.6" fill="none" stroke="#000" stroke-width="2.7" stroke-linejoin="round" stroke-linecap="round" />
<path d="M788.9 577.9 L785.9 579 L782.9 580 L779.8 581.1 L776.6 582.2 L773.4 583.6 L770.1 585.3 L763 590.4 L757.6 594.9 L754.3 598.1 L757.5 601.5 L760.7 598.4 L765.8 594.1 L772.7 589.1 L775.4 587.7 L778.3 586.4 L781.3 585.1 L784.3 583.9 L787.4 582.7 L790.3 581.4 Z" fill="#fff" stroke="#000" stroke-width="1.5" stroke-linejoin="round" stroke-linecap="round" />
<path d="M792.7 569.9 L789.9 571.4 L787 572.5 L784.1 573.6 L781 574.5 L777.9 575.6 L774.7 576.7 L771.5 578.1 L768.2 579.9 L761 585.1 L755.6 589.6 L752.2 592.8 L756.4 597.2 L759.6 594.1 L764.6 589.8 L771.4 584.9 L774.1 583.6 L777 582.3 L780 581.1 L783 579.8 L786 578.6 L789 577.2 L792.1 575.7 L794.9 574 Z" fill="#fff" stroke="#000" stroke-width="1.8" stroke-linejoin="round" stroke-linecap="round" />
<path d="M792.7 569.9 L789.9 571.4 L787 572.5 L784.1 573.6 L781 574.5 L777.9 575.6 L774.7 576.7 L771.5 578.1 L768.2 579.9 L761 585.1 L755.6 589.6 L752.2 592.8" fill="none" stroke="#000" stroke-width="2.7" stroke-linejoin="round" stroke-linecap="round" />
<path d="M778.9 572.1 L775.9 573.2 L772.9 574.2 L769.8 575.3 L766.6 576.4 L763.4 577.8 L760.1 579.5 L753 584.6 L747.6 589.1 L744.3 592.4 L747.5 595.7 L750.7 592.6 L755.8 588.3 L762.6 583.3 L765.4 581.9 L768.3 580.6 L771.3 579.3 L774.3 578.1 L777.3 576.9 L780.3 575.6 Z" fill="#fff" stroke="#000" stroke-width="1.5" stroke-linejoin="round" stroke-linecap="round" />
<path d="M782.7 564.2 L779.9 565.6 L777 566.7 L774.1 567.8 L771 568.8 L767.9 569.8 L764.7 570.9 L761.5 572.3 L758.1 574.1 L750.9 579.3 L745.6 583.8 L742.2 587 L746.4 591.4 L749.5 588.3 L754.6 584 L761.4 579.1 L764.1 577.8 L767 576.5 L770 575.3 L773 574 L776 572.8 L779 571.4 L782 569.9 L784.9 568.2 Z" fill="#fff" stroke="#000" stroke-width="1.8" stroke-linejoin="round" stroke-linecap="round" />
<path d="M782.7 564.2 L779.9 565.6 L777 566.7 L774.1 567.8 L771 568.8 L767.9 569.8 L764.7 570.9 L761.5 572.3 L758.1 574.1 L750.9 579.3 L745.6 583.8 L742.2 587" fill="none" stroke="#000" stroke-width="2.7" stroke-linejoin="round" stroke-linecap="round" />
<path d="M768.9 566.3 L765.9 567.4 L762.8 568.5 L759.7 569.5 L756.6 570.6 L753.4 572 L750.1 573.7 L743 578.8 L737.6 583.4 L734.3 586.6 L737.5 589.9 L740.7 586.8 L745.8 582.5 L752.6 577.5 L755.4 576.1 L758.3 574.8 L761.3 573.6 L764.3 572.4 L767.3 571.1 L770.3 569.8 Z" fill="#fff" stroke="#000" stroke-width="1.5" stroke-linejoin="round" stroke-linecap="round" />
<path d="M772.7 558.4 L769.8 559.8 L767 560.9 L764 562 L761 563 L757.9 564 L754.7 565.2 L751.5 566.6 L748.1 568.3 L740.9 573.5 L735.5 578 L732.2 581.3 L736.3 585.6 L739.5 582.5 L744.6 578.2 L751.4 573.3 L754.1 572 L757 570.7 L759.9 569.5 L762.9 568.2 L766 567 L769 565.6 L772 564.1 L774.9 562.4 Z" fill="#fff" stroke="#000" stroke-width="1.8" stroke-linejoin="round" stroke-linecap="round" />
<path d="M772.7 558.4 L769.8 559.8 L767 560.9 L764 562 L761 563 L757.9 564 L754.7 565.2 L751.5 566.6 L748.1 568.3 L740.9 573.5 L735.5 578 L732.2 581.3" fill="none" stroke="#000" stroke-width="2.7" stroke-linejoin="round" stroke-linecap="round" />
<path d="M758.9 560.5 L755.9 561.6 L752.8 562.7 L749.7 563.7 L746.6 564.9 L743.4 566.2 L740.1 567.9 L732.9 573.1 L727.6 577.6 L724.2 580.8 L727.4 584.1 L730.6 581 L735.7 576.7 L742.6 571.8 L745.4 570.4 L748.3 569 L751.2 567.8 L754.3 566.6 L757.3 565.3 L760.3 564.1 Z" fill="#fff" stroke="#000" stroke-width="1.5" stroke-linejoin="round" stroke-linecap="round" />
<path d="M762.7 552.6 L759.8 554 L757 555.1 L754 556.2 L751 557.2 L747.8 558.2 L744.7 559.4 L741.5 560.8 L738.1 562.5 L730.9 567.7 L725.5 572.2 L722.2 575.5 L726.3 579.8 L729.5 576.7 L734.6 572.4 L741.4 567.5 L744.1 566.2 L747 564.9 L749.9 563.7 L752.9 562.5 L755.9 561.2 L759 559.8 L762 558.3 L764.9 556.6 Z" fill="#fff" stroke="#000" stroke-width="1.8" stroke-linejoin="round" stroke-linecap="round" />
<path d="M762.7 552.6 L759.8 554 L757 555.1 L754 556.2 L751 557.2 L747.8 558.2 L744.7 559.4 L741.5 560.8 L738.1 562.5 L730.9 567.7 L725.5 572.2 L722.2 575.5" fill="none" stroke="#000" stroke-width="2.7" stroke-linejoin="round" stroke-linecap="round" />
<path d="M748.8 554.7 L745.8 555.8 L742.8 556.9 L739.7 557.9 L736.5 559.1 L733.4 560.4 L730.1 562.1 L722.9 567.3 L717.6 571.8 L714.2 575 L717.4 578.3 L720.6 575.2 L725.7 570.9 L732.6 566 L735.3 564.6 L738.3 563.2 L741.2 562 L744.2 560.8 L747.3 559.6 L750.3 558.3 Z" fill="#fff" stroke="#000" stroke-width="1.5" stroke-linejoin="round" stroke-linecap="round" />
<path d="M752.6 546.8 L749.8 548.2 L746.9 549.4 L744 550.4 L740.9 551.4 L737.8 552.4 L734.6 553.6 L731.5 555 L728.1 556.7 L720.9 561.9 L715.5 566.4 L712.1 569.7 L716.3 574 L719.5 570.9 L724.6 566.7 L731.4 561.7 L734 560.4 L736.9 559.1 L739.9 557.9 L742.9 556.7 L745.9 555.4 L749 554.1 L752 552.5 L754.8 550.8 Z" fill="#fff" stroke="#000" stroke-width="1.8" stroke-linejoin="round" stroke-linecap="round" />
<path d="M752.6 546.8 L749.8 548.2 L746.9 549.4 L744 550.4 L740.9 551.4 L737.8 552.4 L734.6 553.6 L731.5 555 L728.1 556.7 L720.9 561.9 L715.5 566.4 L712.1 569.7" fill="none" stroke="#000" stroke-width="2.7" stroke-linejoin="round" stroke-linecap="round" />
<path d="M738.8 549 L735.8 550.1 L732.8 551.1 L729.7 552.1 L726.5 553.3 L723.3 554.6 L720 556.3 L712.9 561.5 L707.5 566 L704.2 569.2 L707.4 572.5 L710.6 569.4 L715.7 565.1 L722.6 560.2 L725.3 558.8 L728.2 557.4 L731.2 556.2 L734.2 555 L737.3 553.8 L740.2 552.5 Z" fill="#fff" stroke="#000" stroke-width="1.5" stroke-linejoin="round" stroke-linecap="round" />
<path d="M742.6 541 L739.8 542.4 L736.9 543.6 L734 544.6 L730.9 545.6 L727.8 546.6 L724.6 547.8 L721.4 549.2 L718.1 550.9 L710.9 556.1 L705.5 560.7 L702.1 563.9 L706.3 568.2 L709.5 565.1 L714.5 560.9 L721.3 556 L724 554.6 L726.9 553.3 L729.9 552.1 L732.9 550.9 L735.9 549.6 L738.9 548.3 L742 546.7 L744.8 545 Z" fill="#fff" stroke="#000" stroke-width="1.8" stroke-linejoin="round" stroke-linecap="round" />
<path d="M742.6 541 L739.8 542.4 L736.9 543.6 L734 544.6 L730.9 545.6 L727.8 546.6 L724.6 547.8 L721.4 549.2 L718.1 550.9 L710.9 556.1 L705.5 560.7 L702.1 563.9" fill="none" stroke="#000" stroke-width="2.7" stroke-linejoin="round" stroke-linecap="round" />
<path d="M728.8 543.2 L725.8 544.3 L722.8 545.3 L719.7 546.3 L716.5 547.5 L713.3 548.8 L710 550.5 L702.9 555.7 L697.5 560.2 L694.2 563.4 L697.4 566.7 L700.6 563.6 L705.7 559.3 L712.5 554.4 L715.3 553 L718.2 551.6 L721.2 550.4 L724.2 549.2 L727.2 548 L730.2 546.7 Z" fill="#fff" stroke="#000" stroke-width="1.5" stroke-linejoin="round" stroke-linecap="round" />
<path d="M732.6 535.2 L729.8 536.6 L726.9 537.8 L724 538.8 L720.9 539.8 L717.8 540.8 L714.6 542 L711.4 543.4 L708 545.2 L700.8 550.3 L695.5 554.9 L692.1 558.1 L696.3 562.4 L699.4 559.4 L704.5 555.1 L711.3 550.2 L714 548.8 L716.9 547.5 L719.9 546.3 L722.9 545.1 L725.9 543.8 L728.9 542.5 L731.9 541 L734.8 539.3 Z" fill="#fff" stroke="#000" stroke-width="1.8" stroke-linejoin="round" stroke-linecap="round" />
<path d="M732.6 535.2 L729.8 536.6 L726.9 537.8 L724 538.8 L720.9 539.8 L717.8 540.8 L714.6 542 L711.4 543.4 L708 545.2 L700.8 550.3 L695.5 554.9 L692.1 558.1" fill="none" stroke="#000" stroke-width="2.7" stroke-linejoin="round" stroke-linecap="round" />
<path d="M718.8 537.4 L715.8 538.5 L712.7 539.5 L709.6 540.6 L706.5 541.7 L703.3 543 L700 544.7 L692.9 549.9 L687.5 554.4 L684.2 557.6 L687.4 560.9 L690.6 557.8 L695.7 553.5 L702.5 548.6 L705.3 547.2 L708.2 545.9 L711.2 544.6 L714.2 543.4 L717.2 542.2 L720.2 540.9 Z" fill="#fff" stroke="#000" stroke-width="1.5" stroke-linejoin="round" stroke-linecap="round" />
<path d="M722.6 529.4 L719.7 530.8 L716.9 532 L713.9 533 L710.9 534 L707.8 535 L704.6 536.2 L701.4 537.6 L698 539.4 L690.8 544.5 L685.4 549.1 L682.1 552.3 L686.2 556.6 L689.4 553.6 L694.5 549.3 L701.3 544.4 L704 543 L706.9 541.7 L709.8 540.5 L712.8 539.3 L715.9 538 L718.9 536.7 L721.9 535.2 L724.8 533.5 Z" fill="#fff" stroke="#000" stroke-width="1.8" stroke-linejoin="round" stroke-linecap="round" />
<path d="M722.6 529.4 L719.7 530.8 L716.9 532 L713.9 533 L710.9 534 L707.8 535 L704.6 536.2 L701.4 537.6 L698 539.4 L690.8 544.5 L685.4 549.1 L682.1 552.3" fill="none" stroke="#000" stroke-width="2.7" stroke-linejoin="round" stroke-linecap="round" />
<path d="M708.8 531.6 L705.8 532.7 L702.7 533.7 L699.6 534.8 L696.5 535.9 L693.3 537.2 L690 539 L682.8 544.1 L677.5 548.6 L674.1 551.8 L677.3 555.1 L680.5 552 L685.6 547.7 L692.5 542.8 L695.3 541.4 L698.2 540.1 L701.1 538.8 L704.2 537.6 L707.2 536.4 L710.2 535.1 Z" fill="#fff" stroke="#000" stroke-width="1.5" stroke-linejoin="round" stroke-linecap="round" />
<path d="M712.6 523.6 L709.7 525 L706.9 526.2 L703.9 527.2 L700.9 528.2 L697.7 529.2 L694.6 530.4 L691.4 531.8 L688 533.6 L680.8 538.7 L675.4 543.3 L672.1 546.5 L676.2 550.8 L679.4 547.8 L684.5 543.5 L691.3 538.6 L694 537.2 L696.9 536 L699.8 534.7 L702.8 533.5 L705.8 532.2 L708.9 530.9 L711.9 529.4 L714.8 527.7 Z" fill="#fff" stroke="#000" stroke-width="1.8" stroke-linejoin="round" stroke-linecap="round" />
<path d="M712.6 523.6 L709.7 525 L706.9 526.2 L703.9 527.2 L700.9 528.2 L697.7 529.2 L694.6 530.4 L691.4 531.8 L688 533.6 L680.8 538.7 L675.4 543.3 L672.1 546.5" fill="none" stroke="#000" stroke-width="2.7" stroke-linejoin="round" stroke-linecap="round" />
<path d="M698.7 525.8 L695.7 526.9 L692.7 527.9 L689.6 529 L686.4 530.1 L683.3 531.5 L680 533.2 L672.8 538.3 L667.5 542.8 L664.1 546 L667.3 549.3 L670.5 546.3 L675.6 541.9 L682.5 537 L685.2 535.6 L688.2 534.3 L691.1 533 L694.1 531.8 L697.2 530.6 L700.2 529.3 Z" fill="#fff" stroke="#000" stroke-width="1.5" stroke-linejoin="round" stroke-linecap="round" />
<path d="M702.5 517.8 L699.7 519.2 L696.8 520.4 L693.9 521.4 L690.8 522.4 L687.7 523.5 L684.5 524.6 L681.4 526 L678 527.8 L670.8 533 L665.4 537.5 L662 540.7 L666.2 545.1 L669.4 542 L674.5 537.7 L681.3 532.8 L683.9 531.4 L686.8 530.2 L689.8 528.9 L692.8 527.7 L695.8 526.5 L698.9 525.1 L701.9 523.6 L704.7 521.9 Z" fill="#fff" stroke="#000" stroke-width="1.8" stroke-linejoin="round" stroke-linecap="round" />
<path d="M702.5 517.8 L699.7 519.2 L696.8 520.4 L693.9 521.4 L690.8 522.4 L687.7 523.5 L684.5 524.6 L681.4 526 L678 527.8 L670.8 533 L665.4 537.5 L662 540.7" fill="none" stroke="#000" stroke-width="2.7" stroke-linejoin="round" stroke-linecap="round" />
<path d="M688.7 520 L685.7 521.1 L682.7 522.1 L679.6 523.2 L676.4 524.3 L673.2 525.7 L669.9 527.4 L662.8 532.5 L657.4 537 L654.1 540.2 L657.3 543.6 L660.5 540.5 L665.6 536.2 L672.5 531.2 L675.2 529.8 L678.1 528.5 L681.1 527.2 L684.1 526 L687.2 524.8 L690.1 523.5 Z" fill="#fff" stroke="#000" stroke-width="1.5" stroke-linejoin="round" stroke-linecap="round" />
<path d="M692.5 512 L689.7 513.5 L686.8 514.6 L683.9 515.7 L680.8 516.6 L677.7 517.7 L674.5 518.8 L671.3 520.2 L668 522 L660.8 527.2 L655.4 531.7 L652 534.9 L656.2 539.3 L659.4 536.2 L664.4 531.9 L671.2 527 L673.9 525.7 L676.8 524.4 L679.8 523.2 L682.8 521.9 L685.8 520.7 L688.8 519.3 L691.9 517.8 L694.7 516.1 Z" fill="#fff" stroke="#000" stroke-width="1.8" stroke-linejoin="round" stroke-linecap="round" />
<path d="M692.5 512 L689.7 513.5 L686.8 514.6 L683.9 515.7 L680.8 516.6 L677.7 517.7 L674.5 518.8 L671.3 520.2 L668 522 L660.8 527.2 L655.4 531.7 L652 534.9" fill="none" stroke="#000" stroke-width="2.7" stroke-linejoin="round" stroke-linecap="round" />
<path d="M678.7 514.2 L675.7 515.3 L672.7 516.3 L669.6 517.4 L666.4 518.5 L663.2 519.9 L659.9 521.6 L652.8 526.7 L647.4 531.2 L644.1 534.5 L647.3 537.8 L650.5 534.7 L655.6 530.4 L662.4 525.4 L665.2 524 L668.1 522.7 L671.1 521.4 L674.1 520.2 L677.1 519 L680.1 517.7 Z" fill="#fff" stroke="#000" stroke-width="1.5" stroke-linejoin="round" stroke-linecap="round" />
<path d="M682.5 506.3 L679.7 507.7 L676.8 508.8 L673.9 509.9 L670.8 510.9 L667.7 511.9 L664.5 513 L661.3 514.4 L657.9 516.2 L650.7 521.4 L645.4 525.9 L642 529.1 L646.2 533.5 L649.3 530.4 L654.4 526.1 L661.2 521.2 L663.9 519.9 L666.8 518.6 L669.8 517.4 L672.8 516.1 L675.8 514.9 L678.8 513.5 L681.8 512 L684.7 510.3 Z" fill="#fff" stroke="#000" stroke-width="1.8" stroke-linejoin="round" stroke-linecap="round" />
<path d="M682.5 506.3 L679.7 507.7 L676.8 508.8 L673.9 509.9 L670.8 510.9 L667.7 511.9 L664.5 513 L661.3 514.4 L657.9 516.2 L650.7 521.4 L645.4 525.9 L642 529.1" fill="none" stroke="#000" stroke-width="2.7" stroke-linejoin="round" stroke-linecap="round" />
<path d="M668.7 508.4 L665.7 509.5 L662.6 510.6 L659.5 511.6 L656.4 512.7 L653.2 514.1 L649.9 515.8 L642.8 520.9 L637.4 525.5 L634.1 528.7 L637.3 532 L640.5 528.9 L645.6 524.6 L652.4 519.6 L655.2 518.2 L658.1 516.9 L661.1 515.7 L664.1 514.5 L667.1 513.2 L670.1 511.9 Z" fill="#fff" stroke="#000" stroke-width="1.5" stroke-linejoin="round" stroke-linecap="round" />
<path d="M672.5 500.5 L669.6 501.9 L666.8 503 L663.8 504.1 L660.8 505.1 L657.7 506.1 L654.5 507.3 L651.3 508.7 L647.9 510.4 L640.7 515.6 L635.3 520.1 L632 523.4 L636.1 527.7 L639.3 524.6 L644.4 520.3 L651.2 515.4 L653.9 514.1 L656.8 512.8 L659.7 511.6 L662.7 510.3 L665.8 509.1 L668.8 507.7 L671.8 506.2 L674.7 504.5 Z" fill="#fff" stroke="#000" stroke-width="1.8" stroke-linejoin="round" stroke-linecap="round" />
<path d="M672.5 500.5 L669.6 501.9 L666.8 503 L663.8 504.1 L660.8 505.1 L657.7 506.1 L654.5 507.3 L651.3 508.7 L647.9 510.4 L640.7 515.6 L635.3 520.1 L632 523.4" fill="none" stroke="#000" stroke-width="2.7" stroke-linejoin="round" stroke-linecap="round" />
<path d="M658.7 502.6 L655.7 503.7 L652.6 504.8 L649.5 505.8 L646.4 507 L643.2 508.3 L639.9 510 L632.7 515.2 L627.4 519.7 L624 522.9 L627.2 526.2 L630.4 523.1 L635.5 518.8 L642.4 513.9 L645.2 512.5 L648.1 511.1 L651 509.9 L654.1 508.7 L657.1 507.4 L660.1 506.2 Z" fill="#fff" stroke="#000" stroke-width="1.5" stroke-linejoin="round" stroke-linecap="round" />
<path d="M662.5 494.7 L659.6 496.1 L656.8 497.2 L653.8 498.3 L650.8 499.3 L647.6 500.3 L644.5 501.5 L641.3 502.9 L637.9 504.6 L630.7 509.8 L625.3 514.3 L622 517.6 L626.1 521.9 L629.3 518.8 L634.4 514.5 L641.2 509.6 L643.9 508.3 L646.8 507 L649.7 505.8 L652.7 504.6 L655.7 503.3 L658.8 501.9 L661.8 500.4 L664.7 498.7 Z" fill="#fff" stroke="#000" stroke-width="1.8" stroke-linejoin="round" stroke-linecap="round" />
<path d="M662.5 494.7 L659.6 496.1 L656.8 497.2 L653.8 498.3 L650.8 499.3 L647.6 500.3 L644.5 501.5 L641.3 502.9 L637.9 504.6 L630.7 509.8 L625.3 514.3 L622 517.6" fill="none" stroke="#000" stroke-width="2.7" stroke-linejoin="round" stroke-linecap="round" />
<path d="M648.6 496.8 L645.6 497.9 L642.6 499 L639.5 500 L636.3 501.2 L633.2 502.5 L629.9 504.2 L622.7 509.4 L617.4 513.9 L614 517.1 L617.2 520.4 L620.4 517.3 L625.5 513 L632.4 508.1 L635.1 506.7 L638.1 505.3 L641 504.1 L644 502.9 L647.1 501.7 L650.1 500.4 Z" fill="#fff" stroke="#000" stroke-width="1.5" stroke-linejoin="round" stroke-linecap="round" />
<path d="M652.4 488.9 L649.6 490.3 L646.7 491.5 L643.8 492.5 L640.7 493.5 L637.6 494.5 L634.4 495.7 L631.3 497.1 L627.9 498.8 L620.7 504 L615.3 508.5 L611.9 511.8 L616.1 516.1 L619.3 513 L624.4 508.8 L631.2 503.8 L633.8 502.5 L636.7 501.2 L639.7 500 L642.7 498.8 L645.7 497.5 L648.8 496.2 L651.8 494.6 L654.6 492.9 Z" fill="#fff" stroke="#000" stroke-width="1.8" stroke-linejoin="round" stroke-linecap="round" />
<path d="M652.4 488.9 L649.6 490.3 L646.7 491.5 L643.8 492.5 L640.7 493.5 L637.6 494.5 L634.4 495.7 L631.3 497.1 L627.9 498.8 L620.7 504 L615.3 508.5 L611.9 511.8" fill="none" stroke="#000" stroke-width="2.7" stroke-linejoin="round" stroke-linecap="round" />
<path d="M638.6 491.1 L635.6 492.2 L632.6 493.2 L629.5 494.2 L626.3 495.4 L623.1 496.7 L619.8 498.4 L612.7 503.6 L607.3 508.1 L604 511.3 L607.2 514.6 L610.4 511.5 L615.5 507.2 L622.4 502.3 L625.1 500.9 L628 499.5 L631 498.3 L634 497.1 L637.1 495.9 L640 494.6 Z" fill="#fff" stroke="#000" stroke-width="1.5" stroke-linejoin="round" stroke-linecap="round" />
<path d="M642.4 483.1 L639.6 484.5 L636.7 485.7 L633.8 486.7 L630.7 487.7 L627.6 488.7 L624.4 489.9 L621.2 491.3 L617.9 493 L610.7 498.2 L605.3 502.8 L601.9 506 L606.1 510.3 L609.3 507.2 L614.3 503 L621.1 498.1 L623.8 496.7 L626.7 495.4 L629.7 494.2 L632.7 493 L635.7 491.7 L638.7 490.4 L641.8 488.8 L644.6 487.1 Z" fill="#fff" stroke="#000" stroke-width="1.8" stroke-linejoin="round" stroke-linecap="round" />
<path d="M642.4 483.1 L639.6 484.5 L636.7 485.7 L633.8 486.7 L630.7 487.7 L627.6 488.7 L624.4 489.9 L621.2 491.3 L617.9 493 L610.7 498.2 L605.3 502.8 L601.9 506" fill="none" stroke="#000" stroke-width="2.7" stroke-linejoin="round" stroke-linecap="round" />
<path d="M628.6 485.3 L625.6 486.4 L622.6 487.4 L619.5 488.4 L616.3 489.6 L613.1 490.9 L609.8 492.6 L602.7 497.8 L597.3 502.3 L594 505.5 L597.2 508.8 L600.4 505.7 L605.5 501.4 L612.3 496.5 L615.1 495.1 L618 493.7 L621 492.5 L624 491.3 L627 490.1 L630 488.8 Z" fill="#fff" stroke="#000" stroke-width="1.5" stroke-linejoin="round" stroke-linecap="round" />
<path d="M632.4 477.3 L629.6 478.7 L626.7 479.9 L623.8 480.9 L620.7 481.9 L617.6 482.9 L614.4 484.1 L611.2 485.5 L607.8 487.3 L600.6 492.4 L595.3 497 L591.9 500.2 L596.1 504.5 L599.2 501.5 L604.3 497.2 L611.1 492.3 L613.8 490.9 L616.7 489.6 L619.7 488.4 L622.7 487.2 L625.7 485.9 L628.7 484.6 L631.7 483.1 L634.6 481.4 Z" fill="#fff" stroke="#000" stroke-width="1.8" stroke-linejoin="round" stroke-linecap="round" />
<path d="M632.4 477.3 L629.6 478.7 L626.7 479.9 L623.8 480.9 L620.7 481.9 L617.6 482.9 L614.4 484.1 L611.2 485.5 L607.8 487.3 L600.6 492.4 L595.3 497 L591.9 500.2" fill="none" stroke="#000" stroke-width="2.7" stroke-linejoin="round" stroke-linecap="round" />
<path d="M618.6 479.5 L615.6 480.6 L612.5 481.6 L609.4 482.7 L606.3 483.8 L603.1 485.1 L599.8 486.8 L592.7 492 L587.3 496.5 L584 499.7 L587.2 503 L590.4 499.9 L595.5 495.6 L602.3 490.7 L605.1 489.3 L608 488 L611 486.7 L614 485.5 L617 484.3 L620 483 Z" fill="#fff" stroke="#000" stroke-width="1.5" stroke-linejoin="round" stroke-linecap="round" />
<path d="M622.4 471.5 L619.5 472.9 L616.7 474.1 L613.7 475.1 L610.7 476.1 L607.6 477.1 L604.4 478.3 L601.2 479.7 L597.8 481.5 L590.6 486.6 L585.2 491.2 L581.9 494.4 L586 498.7 L589.2 495.7 L594.3 491.4 L601.1 486.5 L603.8 485.1 L606.7 483.8 L609.6 482.6 L612.6 481.4 L615.7 480.1 L618.7 478.8 L621.7 477.3 L624.6 475.6 Z" fill="#fff" stroke="#000" stroke-width="1.8" stroke-linejoin="round" stroke-linecap="round" />
<path d="M622.4 471.5 L619.5 472.9 L616.7 474.1 L613.7 475.1 L610.7 476.1 L607.6 477.1 L604.4 478.3 L601.2 479.7 L597.8 481.5 L590.6 486.6 L585.2 491.2 L581.9 494.4" fill="none" stroke="#000" stroke-width="2.7" stroke-linejoin="round" stroke-linecap="round" />
<path d="M608.6 473.7 L605.6 474.8 L602.5 475.8 L599.4 476.9 L596.3 478 L593.1 479.3 L589.8 481.1 L582.6 486.2 L577.3 490.7 L573.9 493.9 L577.1 497.2 L580.3 494.1 L585.4 489.8 L592.3 484.9 L595.1 483.5 L598 482.2 L600.9 480.9 L604 479.7 L607 478.5 L610 477.2 Z" fill="#fff" stroke="#000" stroke-width="1.5" stroke-linejoin="round" stroke-linecap="round" />
<path d="M612.4 465.7 L609.5 467.1 L606.7 468.3 L603.7 469.3 L600.7 470.3 L597.5 471.3 L594.4 472.5 L591.2 473.9 L587.8 475.7 L580.6 480.8 L575.2 485.4 L571.9 488.6 L576 492.9 L579.2 489.9 L584.3 485.6 L591.1 480.7 L593.8 479.3 L596.7 478.1 L599.6 476.8 L602.6 475.6 L605.6 474.3 L608.7 473 L611.7 471.5 L614.6 469.8 Z" fill="#fff" stroke="#000" stroke-width="1.8" stroke-linejoin="round" stroke-linecap="round" />
<path d="M612.4 465.7 L609.5 467.1 L606.7 468.3 L603.7 469.3 L600.7 470.3 L597.5 471.3 L594.4 472.5 L591.2 473.9 L587.8 475.7 L580.6 480.8 L575.2 485.4 L571.9 488.6" fill="none" stroke="#000" stroke-width="2.7" stroke-linejoin="round" stroke-linecap="round" />
<path d="M598.5 467.9 L595.5 469 L592.5 470 L589.4 471.1 L586.2 472.2 L583.1 473.6 L579.8 475.3 L572.6 480.4 L567.3 484.9 L563.9 488.1 L567.1 491.4 L570.3 488.4 L575.4 484 L582.3 479.1 L585 477.7 L588 476.4 L590.9 475.1 L593.9 473.9 L597 472.7 L600 471.4 Z" fill="#fff" stroke="#000" stroke-width="1.5" stroke-linejoin="round" stroke-linecap="round" />
<path d="M602.3 459.9 L599.5 461.3 L596.6 462.5 L593.7 463.5 L590.6 464.5 L587.5 465.6 L584.3 466.7 L581.2 468.1 L577.8 469.9 L570.6 475.1 L565.2 479.6 L561.8 482.8 L566 487.2 L569.2 484.1 L574.3 479.8 L581.1 474.9 L583.7 473.5 L586.6 472.3 L589.6 471 L592.6 469.8 L595.6 468.6 L598.7 467.2 L601.7 465.7 L604.5 464 Z" fill="#fff" stroke="#000" stroke-width="1.8" stroke-linejoin="round" stroke-linecap="round" />
<path d="M602.3 459.9 L599.5 461.3 L596.6 462.5 L593.7 463.5 L590.6 464.5 L587.5 465.6 L584.3 466.7 L581.2 468.1 L577.8 469.9 L570.6 475.1 L565.2 479.6 L561.8 482.8" fill="none" stroke="#000" stroke-width="2.7" stroke-linejoin="round" stroke-linecap="round" />
<path d="M588.5 462.1 L585.5 463.2 L582.5 464.2 L579.4 465.3 L576.2 466.4 L573 467.8 L569.7 469.5 L562.6 474.6 L557.2 479.1 L553.9 482.3 L557.1 485.7 L560.3 482.6 L565.4 478.3 L572.3 473.3 L575 471.9 L577.9 470.6 L580.9 469.3 L583.9 468.1 L587 466.9 L589.9 465.6 Z" fill="#fff" stroke="#000" stroke-width="1.5" stroke-linejoin="round" stroke-linecap="round" />
<path d="M592.3 454.1 L589.5 455.6 L586.6 456.7 L583.7 457.8 L580.6 458.7 L577.5 459.8 L574.3 460.9 L571.1 462.3 L567.8 464.1 L560.6 469.3 L555.2 473.8 L551.8 477 L556 481.4 L559.2 478.3 L564.2 474 L571 469.1 L573.7 467.8 L576.6 466.5 L579.6 465.3 L582.6 464 L585.6 462.8 L588.6 461.4 L591.7 459.9 L594.5 458.2 Z" fill="#fff" stroke="#000" stroke-width="1.8" stroke-linejoin="round" stroke-linecap="round" />
<path d="M592.3 454.1 L589.5 455.6 L586.6 456.7 L583.7 457.8 L580.6 458.7 L577.5 459.8 L574.3 460.9 L571.1 462.3 L567.8 464.1 L560.6 469.3 L555.2 473.8 L551.8 477" fill="none" stroke="#000" stroke-width="2.7" stroke-linejoin="round" stroke-linecap="round" />
<path d="M578.5 456.3 L575.5 457.4 L572.5 458.4 L569.4 459.5 L566.2 460.6 L563 462 L559.7 463.7 L552.6 468.8 L547.2 473.3 L543.9 476.6 L547.1 479.9 L550.3 476.8 L555.4 472.5 L562.2 467.5 L565 466.1 L567.9 464.8 L570.9 463.5 L573.9 462.3 L576.9 461.1 L579.9 459.8 Z" fill="#fff" stroke="#000" stroke-width="1.5" stroke-linejoin="round" stroke-linecap="round" />
<path d="M582.3 448.4 L579.5 449.8 L576.6 450.9 L573.7 452 L570.6 453 L567.5 454 L564.3 455.1 L561.1 456.5 L557.7 458.3 L550.5 463.5 L545.2 468 L541.8 471.2 L546 475.6 L549.1 472.5 L554.2 468.2 L561 463.3 L563.7 462 L566.6 460.7 L569.6 459.5 L572.6 458.2 L575.6 457 L578.6 455.6 L581.6 454.1 L584.5 452.4 Z" fill="#fff" stroke="#000" stroke-width="1.8" stroke-linejoin="round" stroke-linecap="round" />
<path d="M582.3 448.4 L579.5 449.8 L576.6 450.9 L573.7 452 L570.6 453 L567.5 454 L564.3 455.1 L561.1 456.5 L557.7 458.3 L550.5 463.5 L545.2 468 L541.8 471.2" fill="none" stroke="#000" stroke-width="2.7" stroke-linejoin="round" stroke-linecap="round" />
<path d="M568.5 450.5 L565.5 451.6 L562.4 452.7 L559.3 453.7 L556.2 454.8 L553 456.2 L549.7 457.9 L542.6 463 L537.2 467.6 L533.9 470.8 L537.1 474.1 L540.3 471 L545.4 466.7 L552.2 461.7 L555 460.3 L557.9 459 L560.9 457.8 L563.9 456.6 L566.9 455.3 L569.9 454 Z" fill="#fff" stroke="#000" stroke-width="1.5" stroke-linejoin="round" stroke-linecap="round" />
<path d="M572.3 442.6 L569.4 444 L566.6 445.1 L563.6 446.2 L560.6 447.2 L557.5 448.2 L554.3 449.4 L551.1 450.8 L547.7 452.5 L540.5 457.7 L535.1 462.2 L531.8 465.5 L535.9 469.8 L539.1 466.7 L544.2 462.4 L551 457.5 L553.7 456.2 L556.6 454.9 L559.5 453.7 L562.5 452.4 L565.6 451.2 L568.6 449.8 L571.6 448.3 L574.5 446.6 Z" fill="#fff" stroke="#000" stroke-width="1.8" stroke-linejoin="round" stroke-linecap="round" />
<path d="M572.3 442.6 L569.4 444 L566.6 445.1 L563.6 446.2 L560.6 447.2 L557.5 448.2 L554.3 449.4 L551.1 450.8 L547.7 452.5 L540.5 457.7 L535.1 462.2 L531.8 465.5" fill="none" stroke="#000" stroke-width="2.7" stroke-linejoin="round" stroke-linecap="round" />
<path d="M558.5 444.7 L555.5 445.8 L552.4 446.9 L549.3 447.9 L546.2 449.1 L543 450.4 L539.7 452.1 L532.5 457.3 L527.2 461.8 L523.8 465 L527 468.3 L530.2 465.2 L535.3 460.9 L542.2 456 L545 454.6 L547.9 453.2 L550.8 452 L553.9 450.8 L556.9 449.5 L559.9 448.3 Z" fill="#fff" stroke="#000" stroke-width="1.5" stroke-linejoin="round" stroke-linecap="round" />
<path d="M562.3 436.8 L559.4 438.2 L556.6 439.3 L553.6 440.4 L550.6 441.4 L547.4 442.4 L544.3 443.6 L541.1 445 L537.7 446.7 L530.5 451.9 L525.1 456.4 L521.8 459.7 L525.9 464 L529.1 460.9 L534.2 456.6 L541 451.7 L543.7 450.4 L546.6 449.1 L549.5 447.9 L552.5 446.7 L555.5 445.4 L558.6 444 L561.6 442.5 L564.5 440.8 Z" fill="#fff" stroke="#000" stroke-width="1.8" stroke-linejoin="round" stroke-linecap="round" />
<path d="M562.3 436.8 L559.4 438.2 L556.6 439.3 L553.6 440.4 L550.6 441.4 L547.4 442.4 L544.3 443.6 L541.1 445 L537.7 446.7 L530.5 451.9 L525.1 456.4 L521.8 459.7" fill="none" stroke="#000" stroke-width="2.7" stroke-linejoin="round" stroke-linecap="round" />
<path d="M548.4 438.9 L545.4 440 L542.4 441.1 L539.3 442.1 L536.1 443.3 L533 444.6 L529.7 446.3 L522.5 451.5 L517.2 456 L513.8 459.2 L517 462.5 L520.2 459.4 L525.3 455.1 L532.2 450.2 L534.9 448.8 L537.9 447.4 L540.8 446.2 L543.8 445 L546.9 443.8 L549.9 442.5 Z" fill="#fff" stroke="#000" stroke-width="1.5" stroke-linejoin="round" stroke-linecap="round" />
<path d="M552.2 431 L549.4 432.4 L546.5 433.6 L543.6 434.6 L540.5 435.6 L537.4 436.6 L534.2 437.8 L531.1 439.2 L527.7 440.9 L520.5 446.1 L515.1 450.6 L511.7 453.9 L515.9 458.2 L519.1 455.1 L524.2 450.9 L531 445.9 L533.6 444.6 L536.5 443.3 L539.5 442.1 L542.5 440.9 L545.5 439.6 L548.6 438.3 L551.6 436.7 L554.4 435 Z" fill="#fff" stroke="#000" stroke-width="1.8" stroke-linejoin="round" stroke-linecap="round" />
<path d="M552.2 431 L549.4 432.4 L546.5 433.6 L543.6 434.6 L540.5 435.6 L537.4 436.6 L534.2 437.8 L531.1 439.2 L527.7 440.9 L520.5 446.1 L515.1 450.6 L511.7 453.9" fill="none" stroke="#000" stroke-width="2.7" stroke-linejoin="round" stroke-linecap="round" />
<path d="M538.4 433.2 L535.4 434.3 L532.4 435.3 L529.3 436.3 L526.1 437.5 L522.9 438.8 L519.6 440.5 L512.5 445.7 L507.1 450.2 L503.8 453.4 L507 456.7 L510.2 453.6 L515.3 449.3 L522.2 444.4 L524.9 443 L527.8 441.6 L530.8 440.4 L533.8 439.2 L536.9 438 L539.8 436.7 Z" fill="#fff" stroke="#000" stroke-width="1.5" stroke-linejoin="round" stroke-linecap="round" />
<path d="M542.2 425.2 L539.4 426.6 L536.5 427.8 L533.6 428.8 L530.5 429.8 L527.4 430.8 L524.2 432 L521 433.4 L517.7 435.1 L510.5 440.3 L505.1 444.9 L501.7 448.1 L505.9 452.4 L509.1 449.3 L514.1 445.1 L520.9 440.2 L523.6 438.8 L526.5 437.5 L529.5 436.3 L532.5 435.1 L535.5 433.8 L538.5 432.5 L541.6 430.9 L544.4 429.2 Z" fill="#fff" stroke="#000" stroke-width="1.8" stroke-linejoin="round" stroke-linecap="round" />
<path d="M542.2 425.2 L539.4 426.6 L536.5 427.8 L533.6 428.8 L530.5 429.8 L527.4 430.8 L524.2 432 L521 433.4 L517.7 435.1 L510.5 440.3 L505.1 444.9 L501.7 448.1" fill="none" stroke="#000" stroke-width="2.7" stroke-linejoin="round" stroke-linecap="round" />
<path d="M528.4 427.4 L525.4 428.5 L522.4 429.5 L519.3 430.5 L516.1 431.7 L512.9 433 L509.6 434.7 L502.5 439.9 L497.1 444.4 L493.8 447.6 L497 450.9 L500.2 447.8 L505.3 443.5 L512.1 438.6 L514.9 437.2 L517.8 435.8 L520.8 434.6 L523.8 433.4 L526.8 432.2 L529.8 430.9 Z" fill="#fff" stroke="#000" stroke-width="1.5" stroke-linejoin="round" stroke-linecap="round" />
<path d="M532.2 419.4 L529.4 420.8 L526.5 422 L523.6 423 L520.5 424 L517.4 425 L514.2 426.2 L511 427.6 L507.6 429.4 L500.4 434.5 L495.1 439.1 L491.7 442.3 L495.9 446.6 L499 443.6 L504.1 439.3 L510.9 434.4 L513.6 433 L516.5 431.7 L519.5 430.5 L522.5 429.3 L525.5 428 L528.5 426.7 L531.5 425.2 L534.4 423.5 Z" fill="#fff" stroke="#000" stroke-width="1.8" stroke-linejoin="round" stroke-linecap="round" />
<path d="M532.2 419.4 L529.4 420.8 L526.5 422 L523.6 423 L520.5 424 L517.4 425 L514.2 426.2 L511 427.6 L507.6 429.4 L500.4 434.5 L495.1 439.1 L491.7 442.3" fill="none" stroke="#000" stroke-width="2.7" stroke-linejoin="round" stroke-linecap="round" />
<path d="M518.4 421.6 L515.4 422.7 L512.3 423.7 L509.2 424.8 L506.1 425.9 L502.9 427.2 L499.6 428.9 L492.5 434.1 L487.1 438.6 L483.8 441.8 L487 445.1 L490.2 442 L495.3 437.7 L502.1 432.8 L504.9 431.4 L507.8 430.1 L510.8 428.8 L513.8 427.6 L516.8 426.4 L519.8 425.1 Z" fill="#fff" stroke="#000" stroke-width="1.5" stroke-linejoin="round" stroke-linecap="round" />
<path d="M522.2 413.6 L519.3 415 L516.5 416.2 L513.5 417.2 L510.5 418.2 L507.4 419.2 L504.2 420.4 L501 421.8 L497.6 423.6 L490.4 428.7 L485 433.3 L481.7 436.5 L485.8 440.8 L489 437.8 L494.1 433.5 L500.9 428.6 L503.6 427.2 L506.5 425.9 L509.4 424.7 L512.4 423.5 L515.5 422.2 L518.5 420.9 L521.5 419.4 L524.4 417.7 Z" fill="#fff" stroke="#000" stroke-width="1.8" stroke-linejoin="round" stroke-linecap="round" />
<path d="M522.2 413.6 L519.3 415 L516.5 416.2 L513.5 417.2 L510.5 418.2 L507.4 419.2 L504.2 420.4 L501 421.8 L497.6 423.6 L490.4 428.7 L485 433.3 L481.7 436.5" fill="none" stroke="#000" stroke-width="2.7" stroke-linejoin="round" stroke-linecap="round" />
<path d="M508.4 415.8 L505.4 416.9 L502.3 417.9 L499.2 419 L496.1 420.1 L492.9 421.4 L489.6 423.2 L482.4 428.3 L477.1 432.8 L473.7 436 L476.9 439.3 L480.1 436.2 L485.2 431.9 L492.1 427 L494.9 425.6 L497.8 424.3 L500.7 423 L503.8 421.8 L506.8 420.6 L509.8 419.3 Z" fill="#fff" stroke="#000" stroke-width="1.5" stroke-linejoin="round" stroke-linecap="round" />
<path d="M512.2 407.8 L509.3 409.2 L506.5 410.4 L503.5 411.4 L500.5 412.4 L497.3 413.4 L494.2 414.6 L491 416 L487.6 417.8 L480.4 422.9 L475 427.5 L471.7 430.7 L475.8 435 L479 432 L484.1 427.7 L490.9 422.8 L493.6 421.4 L496.5 420.2 L499.4 418.9 L502.4 417.7 L505.4 416.4 L508.5 415.1 L511.5 413.6 L514.4 411.9 Z" fill="#fff" stroke="#000" stroke-width="1.8" stroke-linejoin="round" stroke-linecap="round" />
<path d="M512.2 407.8 L509.3 409.2 L506.5 410.4 L503.5 411.4 L500.5 412.4 L497.3 413.4 L494.2 414.6 L491 416 L487.6 417.8 L480.4 422.9 L475 427.5 L471.7 430.7" fill="none" stroke="#000" stroke-width="2.7" stroke-linejoin="round" stroke-linecap="round" />
<path d="M498.3 410 L495.3 411.1 L492.3 412.1 L489.2 413.2 L486 414.3 L482.9 415.7 L479.6 417.4 L472.4 422.5 L467.1 427 L463.7 430.2 L466.9 433.5 L470.1 430.5 L475.2 426.1 L482.1 421.2 L484.8 419.8 L487.8 418.5 L490.7 417.2 L493.7 416 L496.8 414.8 L499.8 413.5 Z" fill="#fff" stroke="#000" stroke-width="1.5" stroke-linejoin="round" stroke-linecap="round" />
<path d="M502.1 402 L499.3 403.4 L496.4 404.6 L493.5 405.6 L490.4 406.6 L487.3 407.7 L484.1 408.8 L481 410.2 L477.6 412 L470.4 417.2 L465 421.7 L461.6 424.9 L465.8 429.3 L469 426.2 L474.1 421.9 L480.9 417 L483.5 415.6 L486.4 414.4 L489.4 413.1 L492.4 411.9 L495.4 410.7 L498.5 409.3 L501.5 407.8 L504.3 406.1 Z" fill="#fff" stroke="#000" stroke-width="1.8" stroke-linejoin="round" stroke-linecap="round" />
<path d="M502.1 402 L499.3 403.4 L496.4 404.6 L493.5 405.6 L490.4 406.6 L487.3 407.7 L484.1 408.8 L481 410.2 L477.6 412 L470.4 417.2 L465 421.7 L461.6 424.9" fill="none" stroke="#000" stroke-width="2.7" stroke-linejoin="round" stroke-linecap="round" />
<path d="M488.3 404.2 L485.3 405.3 L482.3 406.3 L479.2 407.4 L476 408.5 L472.8 409.9 L469.5 411.6 L462.4 416.7 L457 421.2 L453.7 424.4 L456.9 427.8 L460.1 424.7 L465.2 420.4 L472.1 415.4 L474.8 414 L477.7 412.7 L480.7 411.4 L483.7 410.2 L486.8 409 L489.7 407.7 Z" fill="#fff" stroke="#000" stroke-width="1.5" stroke-linejoin="round" stroke-linecap="round" />
<path d="M492.1 396.2 L489.3 397.7 L486.4 398.8 L483.5 399.9 L480.4 400.8 L477.3 401.9 L474.1 403 L470.9 404.4 L467.6 406.2 L460.4 411.4 L455 415.9 L451.6 419.1 L455.8 423.5 L459 420.4 L464 416.1 L470.8 411.2 L473.5 409.9 L476.4 408.6 L479.4 407.4 L482.4 406.1 L485.4 404.9 L488.4 403.5 L491.5 402 L494.3 400.3 Z" fill="#fff" stroke="#000" stroke-width="1.8" stroke-linejoin="round" stroke-linecap="round" />
<path d="M492.1 396.2 L489.3 397.7 L486.4 398.8 L483.5 399.9 L480.4 400.8 L477.3 401.9 L474.1 403 L470.9 404.4 L467.6 406.2 L460.4 411.4 L455 415.9 L451.6 419.1" fill="none" stroke="#000" stroke-width="2.7" stroke-linejoin="round" stroke-linecap="round" />
<path d="M478.3 398.4 L475.3 399.5 L472.3 400.5 L469.2 401.6 L466 402.7 L462.8 404.1 L459.5 405.8 L452.4 410.9 L447 415.4 L443.7 418.7 L446.9 422 L450.1 418.9 L455.2 414.6 L462 409.6 L464.8 408.2 L467.7 406.9 L470.7 405.6 L473.7 404.4 L476.7 403.2 L479.7 401.9 Z" fill="#fff" stroke="#000" stroke-width="1.5" stroke-linejoin="round" stroke-linecap="round" />
<path d="M482.1 390.5 L479.3 391.9 L476.4 393 L473.5 394.1 L470.4 395.1 L467.3 396.1 L464.1 397.2 L460.9 398.6 L457.5 400.4 L450.3 405.6 L445 410.1 L441.6 413.3 L445.8 417.7 L448.9 414.6 L454 410.3 L460.8 405.4 L463.5 404.1 L466.4 402.8 L469.4 401.6 L472.4 400.3 L475.4 399.1 L478.4 397.7 L481.4 396.2 L484.3 394.5 Z" fill="#fff" stroke="#000" stroke-width="1.8" stroke-linejoin="round" stroke-linecap="round" />
<path d="M482.1 390.5 L479.3 391.9 L476.4 393 L473.5 394.1 L470.4 395.1 L467.3 396.1 L464.1 397.2 L460.9 398.6 L457.5 400.4 L450.3 405.6 L445 410.1 L441.6 413.3" fill="none" stroke="#000" stroke-width="2.7" stroke-linejoin="round" stroke-linecap="round" />
<path d="M468.3 392.6 L465.3 393.7 L462.2 394.8 L459.1 395.8 L456 396.9 L452.8 398.3 L449.5 400 L442.4 405.1 L437 409.7 L433.7 412.9 L436.9 416.2 L440.1 413.1 L445.2 408.8 L452 403.8 L454.8 402.4 L457.7 401.1 L460.7 399.9 L463.7 398.7 L466.7 397.4 L469.7 396.1 Z" fill="#fff" stroke="#000" stroke-width="1.5" stroke-linejoin="round" stroke-linecap="round" />
<path d="M472.1 384.7 L469.2 386.1 L466.4 387.2 L463.4 388.3 L460.4 389.3 L457.3 390.3 L454.1 391.5 L450.9 392.9 L447.5 394.6 L440.3 399.8 L434.9 404.3 L431.6 407.6 L435.7 411.9 L438.9 408.8 L444 404.5 L450.8 399.6 L453.5 398.3 L456.4 397 L459.3 395.8 L462.3 394.5 L465.4 393.3 L468.4 391.9 L471.4 390.4 L474.3 388.7 Z" fill="#fff" stroke="#000" stroke-width="1.8" stroke-linejoin="round" stroke-linecap="round" />
<path d="M472.1 384.7 L469.2 386.1 L466.4 387.2 L463.4 388.3 L460.4 389.3 L457.3 390.3 L454.1 391.5 L450.9 392.9 L447.5 394.6 L440.3 399.8 L434.9 404.3 L431.6 407.6" fill="none" stroke="#000" stroke-width="2.7" stroke-linejoin="round" stroke-linecap="round" />
<path d="M458.3 386.8 L455.3 387.9 L452.2 389 L449.1 390 L446 391.2 L442.8 392.5 L439.5 394.2 L432.3 399.4 L427 403.9 L423.6 407.1 L426.8 410.4 L430 407.3 L435.1 403 L442 398.1 L444.8 396.7 L447.7 395.3 L450.6 394.1 L453.7 392.9 L456.7 391.6 L459.7 390.4 Z" fill="#fff" stroke="#000" stroke-width="1.5" stroke-linejoin="round" stroke-linecap="round" />
<path d="M462.1 378.9 L459.2 380.3 L456.4 381.4 L453.4 382.5 L450.4 383.5 L447.2 384.5 L444.1 385.7 L440.9 387.1 L437.5 388.8 L430.3 394 L424.9 398.5 L421.6 401.8 L425.7 406.1 L428.9 403 L434 398.7 L440.8 393.8 L443.5 392.5 L446.4 391.2 L449.3 390 L452.3 388.8 L455.3 387.5 L458.4 386.1 L461.4 384.6 L464.3 382.9 Z" fill="#fff" stroke="#000" stroke-width="1.8" stroke-linejoin="round" stroke-linecap="round" />
<path d="M462.1 378.9 L459.2 380.3 L456.4 381.4 L453.4 382.5 L450.4 383.5 L447.2 384.5 L444.1 385.7 L440.9 387.1 L437.5 388.8 L430.3 394 L424.9 398.5 L421.6 401.8" fill="none" stroke="#000" stroke-width="2.7" stroke-linejoin="round" stroke-linecap="round" />
<path d="M448.2 381 L445.2 382.1 L442.2 383.2 L439.1 384.2 L435.9 385.4 L432.8 386.7 L429.5 388.4 L422.3 393.6 L417 398.1 L413.6 401.3 L416.8 404.6 L420 401.5 L425.1 397.2 L432 392.3 L434.7 390.9 L437.7 389.5 L440.6 388.3 L443.6 387.1 L446.7 385.9 L449.7 384.6 Z" fill="#fff" stroke="#000" stroke-width="1.5" stroke-linejoin="round" stroke-linecap="round" />
<path d="M452 373.1 L449.2 374.5 L446.3 375.7 L443.4 376.7 L440.3 377.7 L437.2 378.7 L434 379.9 L430.9 381.3 L427.5 383 L420.3 388.2 L414.9 392.7 L411.5 396 L415.7 400.3 L418.9 397.2 L424 393 L430.8 388 L433.4 386.7 L436.3 385.4 L439.3 384.2 L442.3 383 L445.3 381.7 L448.4 380.4 L451.4 378.8 L454.2 377.1 Z" fill="#fff" stroke="#000" stroke-width="1.8" stroke-linejoin="round" stroke-linecap="round" />
<path d="M452 373.1 L449.2 374.5 L446.3 375.7 L443.4 376.7 L440.3 377.7 L437.2 378.7 L434 379.9 L430.9 381.3 L427.5 383 L420.3 388.2 L414.9 392.7 L411.5 396" fill="none" stroke="#000" stroke-width="2.7" stroke-linejoin="round" stroke-linecap="round" />
<path d="M438.2 375.3 L435.2 376.4 L432.2 377.4 L429.1 378.4 L425.9 379.6 L422.7 380.9 L419.4 382.6 L412.3 387.8 L406.9 392.3 L403.6 395.5 L406.8 398.8 L410 395.7 L415.1 391.4 L422 386.5 L424.7 385.1 L427.6 383.7 L430.6 382.5 L433.6 381.3 L436.7 380.1 L439.6 378.8 Z" fill="#fff" stroke="#000" stroke-width="1.5" stroke-linejoin="round" stroke-linecap="round" />
<path d="M442 367.3 L439.2 368.7 L436.3 369.9 L433.4 370.9 L430.3 371.9 L427.2 372.9 L424 374.1 L420.8 375.5 L417.5 377.2 L410.3 382.4 L404.9 387 L401.5 390.2 L405.7 394.5 L408.9 391.4 L413.9 387.2 L420.7 382.3 L423.4 380.9 L426.3 379.6 L429.3 378.4 L432.3 377.2 L435.3 375.9 L438.3 374.6 L441.4 373 L444.2 371.3 Z" fill="#fff" stroke="#000" stroke-width="1.8" stroke-linejoin="round" stroke-linecap="round" />
<path d="M442 367.3 L439.2 368.7 L436.3 369.9 L433.4 370.9 L430.3 371.9 L427.2 372.9 L424 374.1 L420.8 375.5 L417.5 377.2 L410.3 382.4 L404.9 387 L401.5 390.2" fill="none" stroke="#000" stroke-width="2.7" stroke-linejoin="round" stroke-linecap="round" />
<path d="M428.2 369.5 L425.2 370.6 L422.2 371.6 L419.1 372.6 L415.9 373.8 L412.7 375.1 L409.4 376.8 L402.3 382 L396.9 386.5 L393.6 389.7 L396.8 393 L400 389.9 L405.1 385.6 L411.9 380.7 L414.7 379.3 L417.6 377.9 L420.6 376.7 L423.6 375.5 L426.6 374.3 L429.6 373 Z" fill="#fff" stroke="#000" stroke-width="1.5" stroke-linejoin="round" stroke-linecap="round" />
<path d="M432 361.5 L429.2 362.9 L426.3 364.1 L423.4 365.1 L420.3 366.1 L417.2 367.1 L414 368.3 L410.8 369.7 L407.4 371.5 L400.2 376.6 L394.9 381.2 L391.5 384.4 L395.7 388.7 L398.8 385.7 L403.9 381.4 L410.7 376.5 L413.4 375.1 L416.3 373.8 L419.3 372.6 L422.3 371.4 L425.3 370.1 L428.3 368.8 L431.3 367.3 L434.2 365.6 Z" fill="#fff" stroke="#000" stroke-width="1.8" stroke-linejoin="round" stroke-linecap="round" />
<path d="M432 361.5 L429.2 362.9 L426.3 364.1 L423.4 365.1 L420.3 366.1 L417.2 367.1 L414 368.3 L410.8 369.7 L407.4 371.5 L400.2 376.6 L394.9 381.2 L391.5 384.4" fill="none" stroke="#000" stroke-width="2.7" stroke-linejoin="round" stroke-linecap="round" />
<path d="M418.2 363.7 L415.2 364.8 L412.1 365.8 L409 366.9 L405.9 368 L402.7 369.3 L399.4 371 L392.3 376.2 L386.9 380.7 L383.6 383.9 L386.8 387.2 L390 384.1 L395.1 379.8 L401.9 374.9 L404.7 373.5 L407.6 372.2 L410.6 370.9 L413.6 369.7 L416.6 368.5 L419.6 367.2 Z" fill="#fff" stroke="#000" stroke-width="1.5" stroke-linejoin="round" stroke-linecap="round" />
<path d="M422 355.7 L419.1 357.1 L416.3 358.3 L413.3 359.3 L410.3 360.3 L407.2 361.3 L404 362.5 L400.8 363.9 L397.4 365.7 L390.2 370.8 L384.8 375.4 L381.5 378.6 L385.6 382.9 L388.8 379.9 L393.9 375.6 L400.7 370.7 L403.4 369.3 L406.3 368 L409.2 366.8 L412.2 365.6 L415.3 364.3 L418.3 363 L421.3 361.5 L424.2 359.8 Z" fill="#fff" stroke="#000" stroke-width="1.8" stroke-linejoin="round" stroke-linecap="round" />
<path d="M422 355.7 L419.1 357.1 L416.3 358.3 L413.3 359.3 L410.3 360.3 L407.2 361.3 L404 362.5 L400.8 363.9 L397.4 365.7 L390.2 370.8 L384.8 375.4 L381.5 378.6" fill="none" stroke="#000" stroke-width="2.7" stroke-linejoin="round" stroke-linecap="round" />
<path d="M408.2 357.9 L405.2 359 L402.1 360 L399 361.1 L395.9 362.2 L392.7 363.5 L389.4 365.3 L382.2 370.4 L376.9 374.9 L373.5 378.1 L376.7 381.4 L379.9 378.3 L385 374 L391.9 369.1 L394.7 367.7 L397.6 366.4 L400.5 365.1 L403.6 363.9 L406.6 362.7 L409.6 361.4 Z" fill="#fff" stroke="#000" stroke-width="1.5" stroke-linejoin="round" stroke-linecap="round" />
<path d="M412 349.9 L409.1 351.3 L406.3 352.5 L403.3 353.5 L400.3 354.5 L397.1 355.5 L394 356.7 L390.8 358.1 L387.4 359.9 L380.2 365 L374.8 369.6 L371.5 372.8 L375.6 377.1 L378.8 374.1 L383.9 369.8 L390.7 364.9 L393.4 363.5 L396.3 362.3 L399.2 361 L402.2 359.8 L405.2 358.5 L408.3 357.2 L411.3 355.7 L414.2 354 Z" fill="#fff" stroke="#000" stroke-width="1.8" stroke-linejoin="round" stroke-linecap="round" />
<path d="M412 349.9 L409.1 351.3 L406.3 352.5 L403.3 353.5 L400.3 354.5 L397.1 355.5 L394 356.7 L390.8 358.1 L387.4 359.9 L380.2 365 L374.8 369.6 L371.5 372.8" fill="none" stroke="#000" stroke-width="2.7" stroke-linejoin="round" stroke-linecap="round" />
<path d="M398.1 352.1 L395.1 353.2 L392.1 354.2 L389 355.3 L385.8 356.4 L382.7 357.8 L379.4 359.5 L372.2 364.6 L366.9 369.1 L363.5 372.3 L366.7 375.6 L369.9 372.6 L375 368.2 L381.9 363.3 L384.6 361.9 L387.6 360.6 L390.5 359.3 L393.5 358.1 L396.6 356.9 L399.6 355.6 Z" fill="#fff" stroke="#000" stroke-width="1.5" stroke-linejoin="round" stroke-linecap="round" />
<path d="M401.9 344.1 L399.1 345.5 L396.2 346.7 L393.3 347.7 L390.2 348.7 L387.1 349.8 L383.9 350.9 L380.8 352.3 L377.4 354.1 L370.2 359.3 L364.8 363.8 L361.4 367 L365.6 371.4 L368.8 368.3 L373.9 364 L380.7 359.1 L383.3 357.7 L386.2 356.5 L389.2 355.2 L392.2 354 L395.2 352.8 L398.3 351.4 L401.3 349.9 L404.1 348.2 Z" fill="#fff" stroke="#000" stroke-width="1.8" stroke-linejoin="round" stroke-linecap="round" />
<path d="M401.9 344.1 L399.1 345.5 L396.2 346.7 L393.3 347.7 L390.2 348.7 L387.1 349.8 L383.9 350.9 L380.8 352.3 L377.4 354.1 L370.2 359.3 L364.8 363.8 L361.4 367" fill="none" stroke="#000" stroke-width="2.7" stroke-linejoin="round" stroke-linecap="round" />
<path d="M388.1 346.3 L385.1 347.4 L382.1 348.4 L379 349.5 L375.8 350.6 L372.6 352 L369.3 353.7 L362.2 358.8 L356.8 363.3 L353.5 366.5 L356.7 369.9 L359.9 366.8 L365 362.5 L371.9 357.5 L374.6 356.1 L377.5 354.8 L380.5 353.5 L383.5 352.3 L386.6 351.1 L389.5 349.8 Z" fill="#fff" stroke="#000" stroke-width="1.5" stroke-linejoin="round" stroke-linecap="round" />
<path d="M391.9 338.3 L389.1 339.8 L386.2 340.9 L383.3 342 L380.2 342.9 L377.1 344 L373.9 345.1 L370.7 346.5 L367.4 348.3 L360.2 353.5 L354.8 358 L351.4 361.2 L355.6 365.6 L358.8 362.5 L363.8 358.2 L370.6 353.3 L373.3 352 L376.2 350.7 L379.2 349.5 L382.2 348.2 L385.2 347 L388.2 345.6 L391.3 344.1 L394.1 342.4 Z" fill="#fff" stroke="#000" stroke-width="1.8" stroke-linejoin="round" stroke-linecap="round" />
<path d="M391.9 338.3 L389.1 339.8 L386.2 340.9 L383.3 342 L380.2 342.9 L377.1 344 L373.9 345.1 L370.7 346.5 L367.4 348.3 L360.2 353.5 L354.8 358 L351.4 361.2" fill="none" stroke="#000" stroke-width="2.7" stroke-linejoin="round" stroke-linecap="round" />
<path d="M850.6 607.5 L858.3 595.6 L859.3 595.3 L862.6 597.4 L862.7 598.4 L854.9 610.3 Z" fill="#fff" stroke="#000" stroke-width="1.5" stroke-linejoin="miter"/>
<path d="M863.6 599 L855.8 610.3" fill="none" stroke="#000" stroke-width="3.3" stroke-linejoin="round" stroke-linecap="round" />
<circle cx="854.7" cy="599.9" r="1.2" fill="#000"/>
<path d="M840.5 601.7 L848.3 589.8 L849.2 589.5 L852.6 591.6 L852.6 592.6 L844.9 604.5 Z" fill="#fff" stroke="#000" stroke-width="1.5" stroke-linejoin="miter"/>
<path d="M853.5 593.2 L845.8 604.5" fill="none" stroke="#000" stroke-width="3.3" stroke-linejoin="round" stroke-linecap="round" />
<circle cx="844.7" cy="594.1" r="1.2" fill="#000"/>
<path d="M830.5 595.9 L838.3 584 L839.2 583.7 L842.5 585.8 L842.6 586.8 L834.9 598.7 Z" fill="#fff" stroke="#000" stroke-width="1.5" stroke-linejoin="miter"/>
<path d="M843.5 587.4 L835.8 598.7" fill="none" stroke="#000" stroke-width="3.3" stroke-linejoin="round" stroke-linecap="round" />
<circle cx="834.7" cy="588.4" r="1.2" fill="#000"/>
<path d="M820.5 590.1 L828.2 578.2 L829.2 577.9 L832.5 580 L832.6 581.1 L824.9 593 Z" fill="#fff" stroke="#000" stroke-width="1.5" stroke-linejoin="miter"/>
<path d="M833.5 581.7 L825.8 593" fill="none" stroke="#000" stroke-width="3.3" stroke-linejoin="round" stroke-linecap="round" />
<circle cx="824.7" cy="582.6" r="1.2" fill="#000"/>
<path d="M810.5 584.3 L818.2 572.4 L819.2 572.1 L822.5 574.3 L822.6 575.3 L814.8 587.2 Z" fill="#fff" stroke="#000" stroke-width="1.5" stroke-linejoin="miter"/>
<path d="M823.5 575.9 L815.7 587.2" fill="none" stroke="#000" stroke-width="3.3" stroke-linejoin="round" stroke-linecap="round" />
<circle cx="814.6" cy="576.8" r="1.2" fill="#000"/>
<path d="M800.5 578.5 L808.2 566.6 L809.2 566.3 L812.5 568.5 L812.6 569.5 L804.8 581.4 Z" fill="#fff" stroke="#000" stroke-width="1.5" stroke-linejoin="miter"/>
<path d="M813.5 570.1 L805.7 581.4" fill="none" stroke="#000" stroke-width="3.3" stroke-linejoin="round" stroke-linecap="round" />
<circle cx="804.6" cy="571" r="1.2" fill="#000"/>
<path d="M790.4 572.8 L798.2 560.9 L799.1 560.5 L802.5 562.7 L802.5 563.7 L794.8 575.6 Z" fill="#fff" stroke="#000" stroke-width="1.5" stroke-linejoin="miter"/>
<path d="M803.4 564.3 L795.7 575.6" fill="none" stroke="#000" stroke-width="3.3" stroke-linejoin="round" stroke-linecap="round" />
<circle cx="794.6" cy="565.2" r="1.2" fill="#000"/>
<path d="M780.4 567 L788.2 555.1 L789.1 554.7 L792.4 556.9 L792.5 557.9 L784.8 569.8 Z" fill="#fff" stroke="#000" stroke-width="1.5" stroke-linejoin="miter"/>
<path d="M793.4 558.5 L785.7 569.8" fill="none" stroke="#000" stroke-width="3.3" stroke-linejoin="round" stroke-linecap="round" />
<circle cx="784.6" cy="559.4" r="1.2" fill="#000"/>
<path d="M770.4 561.2 L778.1 549.3 L779.1 548.9 L782.4 551.1 L782.5 552.1 L774.8 564 Z" fill="#fff" stroke="#000" stroke-width="1.5" stroke-linejoin="miter"/>
<path d="M783.4 552.7 L775.7 564" fill="none" stroke="#000" stroke-width="3.3" stroke-linejoin="round" stroke-linecap="round" />
<circle cx="774.6" cy="553.6" r="1.2" fill="#000"/>
<path d="M760.4 555.4 L768.1 543.5 L769.1 543.2 L772.4 545.3 L772.5 546.3 L764.7 558.2 Z" fill="#fff" stroke="#000" stroke-width="1.5" stroke-linejoin="miter"/>
<path d="M773.4 546.9 L765.6 558.2" fill="none" stroke="#000" stroke-width="3.3" stroke-linejoin="round" stroke-linecap="round" />
<circle cx="764.5" cy="547.8" r="1.2" fill="#000"/>
<path d="M750.4 549.6 L758.1 537.7 L759.1 537.4 L762.4 539.5 L762.5 540.5 L754.7 552.4 Z" fill="#fff" stroke="#000" stroke-width="1.5" stroke-linejoin="miter"/>
<path d="M763.4 541.1 L755.6 552.4" fill="none" stroke="#000" stroke-width="3.3" stroke-linejoin="round" stroke-linecap="round" />
<circle cx="754.5" cy="542" r="1.2" fill="#000"/>
<path d="M740.3 543.8 L748.1 531.9 L749 531.6 L752.4 533.7 L752.4 534.7 L744.7 546.6 Z" fill="#fff" stroke="#000" stroke-width="1.5" stroke-linejoin="miter"/>
<path d="M753.3 535.3 L745.6 546.6" fill="none" stroke="#000" stroke-width="3.3" stroke-linejoin="round" stroke-linecap="round" />
<circle cx="744.5" cy="536.2" r="1.2" fill="#000"/>
<path d="M730.3 538 L738.1 526.1 L739 525.8 L742.3 527.9 L742.4 528.9 L734.7 540.8 Z" fill="#fff" stroke="#000" stroke-width="1.5" stroke-linejoin="miter"/>
<path d="M743.3 529.5 L735.6 540.8" fill="none" stroke="#000" stroke-width="3.3" stroke-linejoin="round" stroke-linecap="round" />
<circle cx="734.5" cy="530.5" r="1.2" fill="#000"/>
<path d="M720.3 532.2 L728 520.3 L729 520 L732.3 522.1 L732.4 523.2 L724.7 535.1 Z" fill="#fff" stroke="#000" stroke-width="1.5" stroke-linejoin="miter"/>
<path d="M733.3 523.8 L725.6 535.1" fill="none" stroke="#000" stroke-width="3.3" stroke-linejoin="round" stroke-linecap="round" />
<circle cx="724.5" cy="524.7" r="1.2" fill="#000"/>
<path d="M710.3 526.4 L718 514.5 L719 514.2 L722.3 516.4 L722.4 517.4 L714.6 529.3 Z" fill="#fff" stroke="#000" stroke-width="1.5" stroke-linejoin="miter"/>
<path d="M723.3 518 L715.5 529.3" fill="none" stroke="#000" stroke-width="3.3" stroke-linejoin="round" stroke-linecap="round" />
<circle cx="714.4" cy="518.9" r="1.2" fill="#000"/>
<path d="M700.3 520.6 L708 508.7 L709 508.4 L712.3 510.6 L712.4 511.6 L704.6 523.5 Z" fill="#fff" stroke="#000" stroke-width="1.5" stroke-linejoin="miter"/>
<path d="M713.3 512.2 L705.5 523.5" fill="none" stroke="#000" stroke-width="3.3" stroke-linejoin="round" stroke-linecap="round" />
<circle cx="704.4" cy="513.1" r="1.2" fill="#000"/>
<path d="M690.2 514.9 L698 503 L698.9 502.6 L702.3 504.8 L702.3 505.8 L694.6 517.7 Z" fill="#fff" stroke="#000" stroke-width="1.5" stroke-linejoin="miter"/>
<path d="M703.2 506.4 L695.5 517.7" fill="none" stroke="#000" stroke-width="3.3" stroke-linejoin="round" stroke-linecap="round" />
<circle cx="694.4" cy="507.3" r="1.2" fill="#000"/>
<path d="M680.2 509.1 L688 497.2 L688.9 496.8 L692.2 499 L692.3 500 L684.6 511.9 Z" fill="#fff" stroke="#000" stroke-width="1.5" stroke-linejoin="miter"/>
<path d="M693.2 500.6 L685.5 511.9" fill="none" stroke="#000" stroke-width="3.3" stroke-linejoin="round" stroke-linecap="round" />
<circle cx="684.4" cy="501.5" r="1.2" fill="#000"/>
<path d="M670.2 503.3 L677.9 491.4 L678.9 491 L682.2 493.2 L682.3 494.2 L674.6 506.1 Z" fill="#fff" stroke="#000" stroke-width="1.5" stroke-linejoin="miter"/>
<path d="M683.2 494.8 L675.5 506.1" fill="none" stroke="#000" stroke-width="3.3" stroke-linejoin="round" stroke-linecap="round" />
<circle cx="674.4" cy="495.7" r="1.2" fill="#000"/>
<path d="M660.2 497.5 L667.9 485.6 L668.9 485.3 L672.2 487.4 L672.3 488.4 L664.5 500.3 Z" fill="#fff" stroke="#000" stroke-width="1.5" stroke-linejoin="miter"/>
<path d="M673.2 489 L665.4 500.3" fill="none" stroke="#000" stroke-width="3.3" stroke-linejoin="round" stroke-linecap="round" />
<circle cx="664.3" cy="489.9" r="1.2" fill="#000"/>
<path d="M650.2 491.7 L657.9 479.8 L658.9 479.5 L662.2 481.6 L662.3 482.6 L654.5 494.5 Z" fill="#fff" stroke="#000" stroke-width="1.5" stroke-linejoin="miter"/>
<path d="M663.2 483.2 L655.4 494.5" fill="none" stroke="#000" stroke-width="3.3" stroke-linejoin="round" stroke-linecap="round" />
<circle cx="654.3" cy="484.1" r="1.2" fill="#000"/>
<path d="M640.1 485.9 L647.9 474 L648.8 473.7 L652.2 475.8 L652.2 476.8 L644.5 488.7 Z" fill="#fff" stroke="#000" stroke-width="1.5" stroke-linejoin="miter"/>
<path d="M653.1 477.4 L645.4 488.7" fill="none" stroke="#000" stroke-width="3.3" stroke-linejoin="round" stroke-linecap="round" />
<circle cx="644.3" cy="478.4" r="1.2" fill="#000"/>
<path d="M630.1 480.1 L637.9 468.2 L638.8 467.9 L642.1 470 L642.2 471 L634.5 482.9 Z" fill="#fff" stroke="#000" stroke-width="1.5" stroke-linejoin="miter"/>
<path d="M643.1 471.6 L635.4 482.9" fill="none" stroke="#000" stroke-width="3.3" stroke-linejoin="round" stroke-linecap="round" />
<circle cx="634.3" cy="472.6" r="1.2" fill="#000"/>
<path d="M620.1 474.3 L627.8 462.4 L628.8 462.1 L632.1 464.2 L632.2 465.3 L624.5 477.2 Z" fill="#fff" stroke="#000" stroke-width="1.5" stroke-linejoin="miter"/>
<path d="M633.1 465.9 L625.4 477.2" fill="none" stroke="#000" stroke-width="3.3" stroke-linejoin="round" stroke-linecap="round" />
<circle cx="624.3" cy="466.8" r="1.2" fill="#000"/>
<path d="M610.1 468.5 L617.8 456.6 L618.8 456.3 L622.1 458.5 L622.2 459.5 L614.4 471.4 Z" fill="#fff" stroke="#000" stroke-width="1.5" stroke-linejoin="miter"/>
<path d="M623.1 460.1 L615.3 471.4" fill="none" stroke="#000" stroke-width="3.3" stroke-linejoin="round" stroke-linecap="round" />
<circle cx="614.2" cy="461" r="1.2" fill="#000"/>
<path d="M600.1 462.7 L607.8 450.8 L608.8 450.5 L612.1 452.7 L612.2 453.7 L604.4 465.6 Z" fill="#fff" stroke="#000" stroke-width="1.5" stroke-linejoin="miter"/>
<path d="M613.1 454.3 L605.3 465.6" fill="none" stroke="#000" stroke-width="3.3" stroke-linejoin="round" stroke-linecap="round" />
<circle cx="604.2" cy="455.2" r="1.2" fill="#000"/>
<path d="M590 457 L597.8 445.1 L598.7 444.7 L602.1 446.9 L602.1 447.9 L594.4 459.8 Z" fill="#fff" stroke="#000" stroke-width="1.5" stroke-linejoin="miter"/>
<path d="M603 448.5 L595.3 459.8" fill="none" stroke="#000" stroke-width="3.3" stroke-linejoin="round" stroke-linecap="round" />
<circle cx="594.2" cy="449.4" r="1.2" fill="#000"/>
<path d="M580 451.2 L587.8 439.3 L588.7 438.9 L592 441.1 L592.1 442.1 L584.4 454 Z" fill="#fff" stroke="#000" stroke-width="1.5" stroke-linejoin="miter"/>
<path d="M593 442.7 L585.3 454" fill="none" stroke="#000" stroke-width="3.3" stroke-linejoin="round" stroke-linecap="round" />
<circle cx="584.2" cy="443.6" r="1.2" fill="#000"/>
<path d="M570 445.4 L577.7 433.5 L578.7 433.1 L582 435.3 L582.1 436.3 L574.4 448.2 Z" fill="#fff" stroke="#000" stroke-width="1.5" stroke-linejoin="miter"/>
<path d="M583 436.9 L575.3 448.2" fill="none" stroke="#000" stroke-width="3.3" stroke-linejoin="round" stroke-linecap="round" />
<circle cx="574.2" cy="437.8" r="1.2" fill="#000"/>
<path d="M560 439.6 L567.7 427.7 L568.7 427.4 L572 429.5 L572.1 430.5 L564.3 442.4 Z" fill="#fff" stroke="#000" stroke-width="1.5" stroke-linejoin="miter"/>
<path d="M573 431.1 L565.2 442.4" fill="none" stroke="#000" stroke-width="3.3" stroke-linejoin="round" stroke-linecap="round" />
<circle cx="564.1" cy="432" r="1.2" fill="#000"/>
<path d="M550 433.8 L557.7 421.9 L558.7 421.6 L562 423.7 L562.1 424.7 L554.3 436.6 Z" fill="#fff" stroke="#000" stroke-width="1.5" stroke-linejoin="miter"/>
<path d="M563 425.3 L555.2 436.6" fill="none" stroke="#000" stroke-width="3.3" stroke-linejoin="round" stroke-linecap="round" />
<circle cx="554.1" cy="426.2" r="1.2" fill="#000"/>
<path d="M539.9 428 L547.7 416.1 L548.6 415.8 L552 417.9 L552 418.9 L544.3 430.8 Z" fill="#fff" stroke="#000" stroke-width="1.5" stroke-linejoin="miter"/>
<path d="M552.9 419.5 L545.2 430.8" fill="none" stroke="#000" stroke-width="3.3" stroke-linejoin="round" stroke-linecap="round" />
<circle cx="544.1" cy="420.5" r="1.2" fill="#000"/>
<path d="M529.9 422.2 L537.7 410.3 L538.6 410 L541.9 412.1 L542 413.1 L534.3 425 Z" fill="#fff" stroke="#000" stroke-width="1.5" stroke-linejoin="miter"/>
<path d="M542.9 413.7 L535.2 425" fill="none" stroke="#000" stroke-width="3.3" stroke-linejoin="round" stroke-linecap="round" />
<circle cx="534.1" cy="414.7" r="1.2" fill="#000"/>
<path d="M519.9 416.4 L527.6 404.5 L528.6 404.2 L531.9 406.3 L532 407.4 L524.3 419.3 Z" fill="#fff" stroke="#000" stroke-width="1.5" stroke-linejoin="miter"/>
<path d="M532.9 408 L525.2 419.3" fill="none" stroke="#000" stroke-width="3.3" stroke-linejoin="round" stroke-linecap="round" />
<circle cx="524.1" cy="408.9" r="1.2" fill="#000"/>
<path d="M509.9 410.6 L517.6 398.7 L518.6 398.4 L521.9 400.6 L522 401.6 L514.2 413.5 Z" fill="#fff" stroke="#000" stroke-width="1.5" stroke-linejoin="miter"/>
<path d="M522.9 402.2 L515.1 413.5" fill="none" stroke="#000" stroke-width="3.3" stroke-linejoin="round" stroke-linecap="round" />
<circle cx="514" cy="403.1" r="1.2" fill="#000"/>
<path d="M499.9 404.8 L507.6 392.9 L508.6 392.6 L511.9 394.8 L512 395.8 L504.2 407.7 Z" fill="#fff" stroke="#000" stroke-width="1.5" stroke-linejoin="miter"/>
<path d="M512.9 396.4 L505.1 407.7" fill="none" stroke="#000" stroke-width="3.3" stroke-linejoin="round" stroke-linecap="round" />
<circle cx="504" cy="397.3" r="1.2" fill="#000"/>
<path d="M489.8 399.1 L497.6 387.2 L498.5 386.8 L501.9 389 L501.9 390 L494.2 401.9 Z" fill="#fff" stroke="#000" stroke-width="1.5" stroke-linejoin="miter"/>
<path d="M502.8 390.6 L495.1 401.9" fill="none" stroke="#000" stroke-width="3.3" stroke-linejoin="round" stroke-linecap="round" />
<circle cx="494" cy="391.5" r="1.2" fill="#000"/>
<path d="M479.8 393.3 L487.6 381.4 L488.5 381 L491.8 383.2 L491.9 384.2 L484.2 396.1 Z" fill="#fff" stroke="#000" stroke-width="1.5" stroke-linejoin="miter"/>
<path d="M492.8 384.8 L485.1 396.1" fill="none" stroke="#000" stroke-width="3.3" stroke-linejoin="round" stroke-linecap="round" />
<circle cx="484" cy="385.7" r="1.2" fill="#000"/>
<path d="M469.8 387.5 L477.5 375.6 L478.5 375.2 L481.8 377.4 L481.9 378.4 L474.2 390.3 Z" fill="#fff" stroke="#000" stroke-width="1.5" stroke-linejoin="miter"/>
<path d="M482.8 379 L475.1 390.3" fill="none" stroke="#000" stroke-width="3.3" stroke-linejoin="round" stroke-linecap="round" />
<circle cx="474" cy="379.9" r="1.2" fill="#000"/>
<path d="M459.8 381.7 L467.5 369.8 L468.5 369.5 L471.8 371.6 L471.9 372.6 L464.1 384.5 Z" fill="#fff" stroke="#000" stroke-width="1.5" stroke-linejoin="miter"/>
<path d="M472.8 373.2 L465 384.5" fill="none" stroke="#000" stroke-width="3.3" stroke-linejoin="round" stroke-linecap="round" />
<circle cx="463.9" cy="374.1" r="1.2" fill="#000"/>
<path d="M449.8 375.9 L457.5 364 L458.5 363.7 L461.8 365.8 L461.9 366.8 L454.1 378.7 Z" fill="#fff" stroke="#000" stroke-width="1.5" stroke-linejoin="miter"/>
<path d="M462.8 367.4 L455 378.7" fill="none" stroke="#000" stroke-width="3.3" stroke-linejoin="round" stroke-linecap="round" />
<circle cx="453.9" cy="368.3" r="1.2" fill="#000"/>
<path d="M439.7 370.1 L447.5 358.2 L448.4 357.9 L451.8 360 L451.8 361 L444.1 372.9 Z" fill="#fff" stroke="#000" stroke-width="1.5" stroke-linejoin="miter"/>
<path d="M452.7 361.6 L445 372.9" fill="none" stroke="#000" stroke-width="3.3" stroke-linejoin="round" stroke-linecap="round" />
<circle cx="443.9" cy="362.6" r="1.2" fill="#000"/>
<path d="M429.7 364.3 L437.5 352.4 L438.4 352.1 L441.7 354.2 L441.8 355.2 L434.1 367.1 Z" fill="#fff" stroke="#000" stroke-width="1.5" stroke-linejoin="miter"/>
<path d="M442.7 355.8 L435 367.1" fill="none" stroke="#000" stroke-width="3.3" stroke-linejoin="round" stroke-linecap="round" />
<circle cx="433.9" cy="356.8" r="1.2" fill="#000"/>
<path d="M419.7 358.5 L427.4 346.6 L428.4 346.3 L431.7 348.4 L431.8 349.5 L424.1 361.4 Z" fill="#fff" stroke="#000" stroke-width="1.5" stroke-linejoin="miter"/>
<path d="M432.7 350.1 L425 361.4" fill="none" stroke="#000" stroke-width="3.3" stroke-linejoin="round" stroke-linecap="round" />
<circle cx="423.9" cy="351" r="1.2" fill="#000"/>
<path d="M409.7 352.7 L417.4 340.8 L418.4 340.5 L421.7 342.7 L421.8 343.7 L414 355.6 Z" fill="#fff" stroke="#000" stroke-width="1.5" stroke-linejoin="miter"/>
<path d="M422.7 344.3 L414.9 355.6" fill="none" stroke="#000" stroke-width="3.3" stroke-linejoin="round" stroke-linecap="round" />
<circle cx="413.8" cy="345.2" r="1.2" fill="#000"/>
<path d="M399.7 346.9 L407.4 335 L408.4 334.7 L411.7 336.9 L411.8 337.9 L404 349.8 Z" fill="#fff" stroke="#000" stroke-width="1.5" stroke-linejoin="miter"/>
<path d="M412.7 338.5 L404.9 349.8" fill="none" stroke="#000" stroke-width="3.3" stroke-linejoin="round" stroke-linecap="round" />
<circle cx="403.8" cy="339.4" r="1.2" fill="#000"/>
<path d="M389.6 341.2 L397.4 329.3 L398.3 328.9 L401.7 331.1 L401.7 332.1 L394 344 Z" fill="#fff" stroke="#000" stroke-width="1.5" stroke-linejoin="miter"/>
<path d="M402.6 332.7 L394.9 344" fill="none" stroke="#000" stroke-width="3.3" stroke-linejoin="round" stroke-linecap="round" />
<circle cx="393.8" cy="333.6" r="1.2" fill="#000"/>
<path d="M930.5 453.6 L931 470.3 L930.3 507.1 L930.1 525.9 Q928 535 920.9 542.9 L908 552" fill="none" stroke="#000" stroke-width="2.04" stroke-linejoin="round" stroke-linecap="round" />
<path d="M934.5 456 L936.5 497" fill="none" stroke="#000" stroke-width="1.44" stroke-linejoin="round" stroke-linecap="round" />
<path d="M957 437.7 L963.8 435.3 L973.9 440.2 L985.6 447.7 L1005.2 473.5 L1006.5 480.3 L1003.2 483.7 L1001.6 520 L996.7 577.9 L994.1 588.7 L954.4 668 L930.8 654.1 L958.7 601.5 L975 560 L976.4 520 L978.9 507 L993 482 L994 472 L984 450 L957.2 450.2 L955.5 440 Z" fill="#fff" stroke="#000" stroke-width="1.7999999999999998" stroke-linejoin="round" stroke-linecap="round" />
<path d="M985.6 447.7 L983.5 450.5 L1001.5 475.5 L1003.2 483.7" fill="none" stroke="#000" stroke-width="1.44" stroke-linejoin="round" stroke-linecap="round" />
<path d="M1000.6 484.5 L999 520 L994.5 576.9 L992 586.5" fill="none" stroke="#000" stroke-width="1.44" stroke-linejoin="round" stroke-linecap="round" />
<path d="M971.6 602.6 L931.9 653" fill="none" stroke="#000" stroke-width="1.44" stroke-linejoin="round" stroke-linecap="round" />
<path d="M1001 493 L1006.5 491.5 L1006.5 502 L1001 503.5" fill="#fff" stroke="#000" stroke-width="1.32" stroke-linejoin="round" stroke-linecap="round" />
<path d="M995.6 571.5 L1000.5 571.5 L1000.5 581.1 L995.6 581.1 Z" fill="#fff" stroke="#000" stroke-width="1.32" stroke-linejoin="round" stroke-linecap="round" />
<ellipse cx="964" cy="440.7" rx="3.2" ry="2.6" fill="#fff" stroke="#000" stroke-width="1.68"/>
<ellipse cx="964" cy="440.7" rx="1.4" ry="1.2" fill="#000" stroke="#000" stroke-width="1.2"/>
<path d="M952.1 431.8 L938.7 445.2" fill="none" stroke="#000" stroke-width="2.88" stroke-linejoin="round" stroke-linecap="round" />
<path d="M952.1 431.8 L955.5 435.1 L957.2 446.9" fill="none" stroke="#000" stroke-width="1.68" stroke-linejoin="round" stroke-linecap="round" />
<path d="M938.7 445.2 L940.4 455.2 L944.6 458.2" fill="none" stroke="#000" stroke-width="2.4" stroke-linejoin="round" stroke-linecap="round" />
<path d="M944 458.6 L957.2 450.2 Q970 447 984 448.8 Q993 458 994 472 L993.1 482 L978.9 507.1 L957.2 540 L952 537 L950.5 527.2 L952.1 517.2 L948.8 507.1 L946.3 493.7 L947.1 473.6 Z" fill="#fff" stroke="#000" stroke-width="1.92" stroke-linejoin="round" stroke-linecap="round" />
<ellipse cx="957.2" cy="467.8" rx="2.2" ry="3.3" fill="none" stroke="#000" stroke-width="1.68" transform="rotate(25 957.2 467.8)"/>
<ellipse cx="958.8" cy="485.4" rx="3.2" ry="5" fill="none" stroke="#000" stroke-width="1.68" transform="rotate(25 958.8 485.4)"/>
<ellipse cx="989" cy="480.3" rx="2" ry="3.2" fill="none" stroke="#000" stroke-width="1.68" transform="rotate(25 989 480.3)"/>
<ellipse cx="944.4" cy="477.5" rx="1.5" ry="3.2" fill="none" stroke="#000" stroke-width="1.56" transform="rotate(5 944.4 477.5)"/>
<line x1="965.8" y1="498.2" x2="982" y2="482.5" stroke="#000" stroke-width="2.8" stroke-linecap="round"/>
<circle cx="954.6" cy="500.4" r="1.2" fill="#000"/>
<ellipse cx="958" cy="530.5" rx="1.8" ry="2.8" fill="none" stroke="#000" stroke-width="1.56" transform="rotate(25 958 530.5)"/>
<path d="M963 520.5 L968.5 522" fill="none" stroke="#000" stroke-width="1.92" stroke-linejoin="round" stroke-linecap="round" />
<path d="M937.9 498.7 L943.8 508.8 L950.5 507.5 L955.5 513.8 L951 517 L943.8 517.2 L947.1 527.2 L944 529 L941 520 Z" fill="#fff" stroke="#000" stroke-width="1.68" stroke-linejoin="round" stroke-linecap="round" />
<path d="M948.5 508.5 L952.5 506 L955.5 513.8" fill="#fff" stroke="#000" stroke-width="1.56" stroke-linejoin="round" stroke-linecap="round" />
<path d="M930.8 520 L928.7 530.7 L922.2 542.5 L910.4 552.2" fill="none" stroke="#000" stroke-width="1.7999999999999998" stroke-linejoin="round" stroke-linecap="round" />
<path d="M942.6 520 L945.8 532.9 L952.3 543.6 L942.6 556.5 L924.4 562.9" fill="none" stroke="#000" stroke-width="1.68" stroke-linejoin="round" stroke-linecap="round" />
<path d="M967.3 520 L960.8 537.2 L952.3 543.6" fill="none" stroke="#000" stroke-width="1.68" stroke-linejoin="round" stroke-linecap="round" />
<ellipse cx="958.3" cy="529.7" rx="1.7" ry="2.6" fill="none" stroke="#000" stroke-width="1.56" transform="rotate(25 958.3 529.7)"/>
<ellipse cx="947" cy="546" rx="1.2" ry="1.8" fill="none" stroke="#000" stroke-width="1.44" transform="rotate(25 947 546)"/>
<ellipse cx="954.4" cy="576.9" rx="8.6" ry="13.3" fill="#fff" stroke="#000" stroke-width="2.4" transform="rotate(20 954.4 576.9)"/>
<ellipse cx="935.1" cy="620.8" rx="9.7" ry="14" fill="#fff" stroke="#000" stroke-width="2.4" transform="rotate(20 935.1 620.8)"/>
<path d="M924.4 562.9 L942.6 556.5 L948 560.8 L945.8 582.2 L940 590 L930 596 L909.3 608 L902.9 603.7 L904 586.5 L911.5 573.6 L919 566.1 Z" fill="#fff" stroke="#000" stroke-width="1.7999999999999998" stroke-linejoin="round" stroke-linecap="round" />
<ellipse cx="919" cy="587.6" rx="6.4" ry="8.8" fill="#fff" stroke="#000" stroke-width="3.12" transform="rotate(25 919 587.6)"/>
<ellipse cx="907.2" cy="617.6" rx="3.2" ry="5.4" fill="#fff" stroke="#000" stroke-width="2.4" transform="rotate(25 907.2 617.6)"/>
<path d="M952.3 552.2 L971.6 539.3 L980.1 544.7 L982.7 584.4 L972.6 595 L964 590.8 L964 555.4 Z" fill="#fff" stroke="#000" stroke-width="1.7999999999999998" stroke-linejoin="round" stroke-linecap="round" />
<path d="M964 555.4 L980.1 544.7" fill="none" stroke="#000" stroke-width="1.56" stroke-linejoin="round" stroke-linecap="round" />
<path d="M964 590.8 L967.3 599.4 L971.6 602.6 L972.6 595" fill="#fff" stroke="#000" stroke-width="1.56" stroke-linejoin="round" stroke-linecap="round" />
<line x1="946.5" y1="559.5" x2="967.5" y2="544.5" stroke="#000" stroke-width="4" stroke-linecap="round"/><line x1="946.5" y1="559.5" x2="967.5" y2="544.5" stroke="#fff" stroke-width="1.4" stroke-linecap="round"/>
<path d="M948 560.8 L947 590" fill="none" stroke="#000" stroke-width="1.56" stroke-linejoin="round" stroke-linecap="round" />
<path d="M943.7 600.5 L963 591.9 L967.3 599.4 L946 606.5 Z" fill="#fff" stroke="#000" stroke-width="1.68" stroke-linejoin="round" stroke-linecap="round" />
<path d="M909.3 608 L934 594 L942.6 604.7 L930.8 612.3 Z" fill="#fff" stroke="#000" stroke-width="2.88" stroke-linejoin="round" stroke-linecap="round" />
<ellipse cx="931.9" cy="602.6" rx="4.6" ry="3.8" fill="#fff" stroke="#000" stroke-width="2.16" transform="rotate(-20 931.9 602.6)"/>
<line x1="928.5" y1="600.6" x2="935.3" y2="600.2" stroke="#000" stroke-width="0.9" />
<line x1="928.5" y1="602.6" x2="935.3" y2="602.2" stroke="#000" stroke-width="0.9" />
<line x1="928.5" y1="604.6" x2="935.3" y2="604.2" stroke="#000" stroke-width="0.9" />
<path d="M931 575 L931 594" fill="none" stroke="#000" stroke-width="1.56" stroke-linejoin="round" stroke-linecap="round" />
<path d="M936 577 L936 595" fill="none" stroke="#000" stroke-width="1.56" stroke-linejoin="round" stroke-linecap="round" />
<ellipse cx="933.5" cy="575" rx="3.2" ry="1.6" fill="#fff" stroke="#000" stroke-width="1.56"/>
<path d="M909.5 552.4 L923.8 543.4 L924.7 553.2 L918.4 556.8 L920.2 566.7 L908.6 579.2 L903.2 587.2 L892.5 581 L910.4 560.4 Z" fill="#fff" stroke="#000" stroke-width="1.92" stroke-linejoin="round" stroke-linecap="round" />
<path d="M892.5 581 L893.5 584 L903.5 590 L903.2 587.2" fill="none" stroke="#000" stroke-width="1.44" stroke-linejoin="round" stroke-linecap="round" />
<circle cx="918.4" cy="549.7" r="1.2" fill="#000"/>
<circle cx="911.3" cy="568.4" r="1.2" fill="#000"/>
<circle cx="902.4" cy="578.3" r="1.2" fill="#000"/>
<path d="M921.5 556 Q916.5 562 920.5 566.5 Q925 560 921.5 556" fill="none" stroke="#000" stroke-width="1.44" stroke-linejoin="round" stroke-linecap="round" />
<path d="M895.4 588.7 L899 593 L896.5 605.8 L885.7 614.4 L892.2 625.1 L895.4 640.1 L897.5 640.1 L917.9 628.3 L930.8 635.9 L930.8 654.1 L906.1 668 L899.7 668 L896.5 648.7 L881.5 656.2 L887.9 668 L881.5 670.2 L870.7 659.5 L866 652 L885.7 614.4" fill="#fff" stroke="#000" stroke-width="1.68" stroke-linejoin="round" stroke-linecap="round" />
<path d="M895.4 588.7 L904 586.5" fill="none" stroke="#000" stroke-width="1.68" stroke-linejoin="round" stroke-linecap="round" />
<path d="M896.5 605.8 L902.9 603.7" fill="none" stroke="#000" stroke-width="1.56" stroke-linejoin="round" stroke-linecap="round" />
<path d="M902.9 603.7 L895.4 620.8 L896.5 635.9" fill="none" stroke="#000" stroke-width="1.68" stroke-linejoin="round" stroke-linecap="round" />
<path d="M830.8 631.5 L846 626.3 L857.2 623.6 L852.9 612.9 L858 609 L861.5 630.1 L848 629.5 Z" fill="#fff" stroke="#000" stroke-width="1.56" stroke-linejoin="round" stroke-linecap="round" />
<path d="M861.5 631.5 L874.4 645.8 L880.1 668.7 L871.5 661.6 L865.8 654.4 L862 641 Z" fill="#fff" stroke="#000" stroke-width="1.56" stroke-linejoin="round" stroke-linecap="round" />
<path d="M862 603.5 L868 606.5 L868 613.5 L862 610.5 Z" fill="#fff" stroke="#000" stroke-width="1.56" stroke-linejoin="round" stroke-linecap="round" />
<ellipse cx="865" cy="608.6" rx="1.6" ry="1.4" fill="none" stroke="#000" stroke-width="1.2"/>
<path d="M868 609 L872 612 L873 617" fill="none" stroke="#000" stroke-width="1.32" stroke-linejoin="round" stroke-linecap="round" />
<path d="M861.5 630.1 L885.8 615.8 L893 627.2 L895.9 641.5 L895.1 647.3 L880.1 655.8 Q877 642 861.5 632.5 Z" fill="#fff" stroke="#000" stroke-width="1.68" stroke-linejoin="round" stroke-linecap="round" />
<path d="M861.5 632.5 Q876 641 879.3 657.3" fill="none" stroke="#000" stroke-width="2.16" stroke-linejoin="round" stroke-linecap="round" />
<path d="M864.5 631 Q879 640 882.5 655" fill="none" stroke="#000" stroke-width="1.2" stroke-linejoin="round" stroke-linecap="round" />
<ellipse cx="868.5" cy="629.5" rx="1.3" ry="1.5" fill="none" stroke="#000" stroke-width="1.32"/>
<ellipse cx="875" cy="626" rx="1.3" ry="1.5" fill="none" stroke="#000" stroke-width="1.32"/>
<ellipse cx="881.5" cy="622.5" rx="1.3" ry="1.5" fill="none" stroke="#000" stroke-width="1.32"/>
<ellipse cx="886.5" cy="620" rx="1.3" ry="1.5" fill="none" stroke="#000" stroke-width="1.32"/>
<ellipse cx="873.5" cy="634" rx="1.3" ry="1.5" fill="none" stroke="#000" stroke-width="1.32"/>
<ellipse cx="881" cy="631" rx="1.3" ry="1.5" fill="none" stroke="#000" stroke-width="1.32"/>
<ellipse cx="887.5" cy="628" rx="1.3" ry="1.5" fill="none" stroke="#000" stroke-width="1.32"/>
<ellipse cx="891" cy="634.5" rx="1.3" ry="1.5" fill="none" stroke="#000" stroke-width="1.32"/>
<ellipse cx="885" cy="638" rx="1.3" ry="1.5" fill="none" stroke="#000" stroke-width="1.32"/>
<ellipse cx="890" cy="643" rx="1.3" ry="1.5" fill="none" stroke="#000" stroke-width="1.32"/>
<ellipse cx="893" cy="647.5" rx="1.3" ry="1.5" fill="none" stroke="#000" stroke-width="1.32"/>
<ellipse cx="885.5" cy="647" rx="1.3" ry="1.5" fill="none" stroke="#000" stroke-width="1.32"/>
<ellipse cx="887" cy="652" rx="1.3" ry="1.5" fill="none" stroke="#000" stroke-width="1.32"/>
<ellipse cx="880" cy="645" rx="1.3" ry="1.5" fill="none" stroke="#000" stroke-width="1.32"/>
<line x1="862" y1="629.6" x2="892.5" y2="600.5" stroke="#000" stroke-width="3.6"/>
<path d="M897.5 640.1 L917.9 628.3 L930.8 635.9 L930.8 654.1 L906.1 668 L906.1 648.7 Z" fill="#fff" stroke="#000" stroke-width="1.68" stroke-linejoin="round" stroke-linecap="round" />
<path d="M906.1 648.7 L924.4 639.1 L930.8 635.9" fill="none" stroke="#000" stroke-width="1.44" stroke-linejoin="round" stroke-linecap="round" />
<path d="M924.4 639.1 L924.4 657.3" fill="none" stroke="#000" stroke-width="1.44" stroke-linejoin="round" stroke-linecap="round" />
<path d="M897.5 640.1 L906.1 648.7" fill="none" stroke="#000" stroke-width="1.56" stroke-linejoin="round" stroke-linecap="round" />
<line x1="912.5" y1="643.5" x2="912.5" y2="658.5" stroke="#000" stroke-width="3.4" stroke-linecap="round"/><line x1="912.5" y1="643.5" x2="912.5" y2="658.5" stroke="#fff" stroke-width="1.2" stroke-linecap="round"/>
<path d="M918 645 L918 659" fill="none" stroke="#000" stroke-width="1.44" stroke-linejoin="round" stroke-linecap="round" />
<path d="M905 631 L911 627.5 L915 630" fill="none" stroke="#000" stroke-width="1.44" stroke-linejoin="round" stroke-linecap="round" />
<path d="M892.2 653 L899.7 653 L899.7 674.5 L892.2 674.5 Z" fill="#fff" stroke="#000" stroke-width="1.68" stroke-linejoin="round" stroke-linecap="round" />
<circle cx="896" cy="657.5" r="1.0" fill="#000"/>
<circle cx="896" cy="668" r="1.0" fill="#000"/>
<line x1="898" y1="671.8" x2="907.5" y2="677.8" stroke="#000" stroke-width="4" stroke-linecap="round"/><line x1="898" y1="671.8" x2="907.5" y2="677.8" stroke="#fff" stroke-width="1.6" stroke-linecap="round"/>
<path d="M930.8 654.1 L954.4 668" fill="none" stroke="#000" stroke-width="1.7999999999999998" stroke-linejoin="round" stroke-linecap="round" />
<path d="M940.5 631.6 L931.9 653" fill="none" stroke="#000" stroke-width="1.44" stroke-linejoin="round" stroke-linecap="round" />
<path d="M925 574.5 L931 571.5 L938 575 L940 581" fill="none" stroke="#000" stroke-width="2.64" stroke-linejoin="round" stroke-linecap="round" />
<path d="M927 579 L933 577 L937 581.5" fill="none" stroke="#000" stroke-width="2.4" stroke-linejoin="round" stroke-linecap="round" />
<path d="M916 560 L913.5 566 L917.5 571 L921 566" fill="none" stroke="#000" stroke-width="2.4" stroke-linejoin="round" stroke-linecap="round" />
<path d="M941 586 L950 589 L958 587" fill="none" stroke="#000" stroke-width="2.64" stroke-linejoin="round" stroke-linecap="round" />
<path d="M912 611 L922 613 L931 611.5" fill="none" stroke="#000" stroke-width="2.4" stroke-linejoin="round" stroke-linecap="round" />
<path d="M899 600 L903.5 607 L901 614" fill="none" stroke="#000" stroke-width="2.16" stroke-linejoin="round" stroke-linecap="round" />
<path d="M905 630 L911 626.5 L917 629.5" fill="none" stroke="#000" stroke-width="2.16" stroke-linejoin="round" stroke-linecap="round" />
<path d="M943.5 556 L949 559.5" fill="none" stroke="#000" stroke-width="2.88" stroke-linejoin="round" stroke-linecap="round" />
<path d="M38.9 413.8 L185.8 498 L199 555.3 L199 558.3 L174.5 562.8 L18 472.4 L30.6 452.8 Z" fill="#fff" stroke="#000" stroke-width="1.5" stroke-linejoin="round" stroke-linecap="round" />
<path d="M30.6 452.8 L197 548.2 L199 555.3" fill="none" stroke="#000" stroke-width="1.5" stroke-linejoin="round" stroke-linecap="round" />
<path d="M174.5 562.8 L197 548.2" fill="none" stroke="#000" stroke-width="1.2" stroke-linejoin="round" stroke-linecap="round" />
<ellipse cx="41.5" cy="419.5" rx="1.4" ry="2.1" fill="none" stroke="#000" stroke-width="1.0" transform="rotate(20 41.5 419.5)"/>
<ellipse cx="76.5" cy="440" rx="1.4" ry="2.1" fill="none" stroke="#000" stroke-width="1.0" transform="rotate(20 76.5 440)"/>
<ellipse cx="111.5" cy="460" rx="1.4" ry="2.1" fill="none" stroke="#000" stroke-width="1.0" transform="rotate(20 111.5 460)"/>
<ellipse cx="146.5" cy="480.5" rx="1.4" ry="2.1" fill="none" stroke="#000" stroke-width="1.0" transform="rotate(20 146.5 480.5)"/>
<ellipse cx="181" cy="500.5" rx="1.4" ry="2.1" fill="none" stroke="#000" stroke-width="1.0" transform="rotate(20 181 500.5)"/>
<ellipse cx="23" cy="471.5" rx="1.4" ry="2.1" fill="none" stroke="#000" stroke-width="1.0" transform="rotate(20 23 471.5)"/>
<ellipse cx="50.5" cy="487" rx="1.4" ry="2.1" fill="none" stroke="#000" stroke-width="1.0" transform="rotate(20 50.5 487)"/>
<ellipse cx="77.5" cy="502.5" rx="1.4" ry="2.1" fill="none" stroke="#000" stroke-width="1.0" transform="rotate(20 77.5 502.5)"/>
<ellipse cx="105" cy="518" rx="1.4" ry="2.1" fill="none" stroke="#000" stroke-width="1.0" transform="rotate(20 105 518)"/>
<ellipse cx="132" cy="534" rx="1.4" ry="2.1" fill="none" stroke="#000" stroke-width="1.0" transform="rotate(20 132 534)"/>
<ellipse cx="159" cy="549.5" rx="1.4" ry="2.1" fill="none" stroke="#000" stroke-width="1.0" transform="rotate(20 159 549.5)"/>
<ellipse cx="174.5" cy="558.5" rx="1.4" ry="2.1" fill="none" stroke="#000" stroke-width="1.0" transform="rotate(20 174.5 558.5)"/>
<ellipse cx="197.5" cy="556.5" rx="1.4" ry="2.1" fill="none" stroke="#000" stroke-width="1.0" transform="rotate(20 197.5 556.5)"/>
<path d="M205.4 510.5 L229.7 524.4 L220.4 564.6 Z" fill="#fff" stroke="#000" stroke-width="1.4" stroke-linejoin="round" stroke-linecap="round" />
<path d="M229.7 524.4 L230.5 528.5 L221.2 566 L220.4 564.6" fill="none" stroke="#000" stroke-width="1.2" stroke-linejoin="round" stroke-linecap="round" />
<path d="M226.2 527.5 L218.3 561" fill="none" stroke="#000" stroke-width="1.2" stroke-linejoin="round" stroke-linecap="round" />
<ellipse cx="212.3" cy="518.5" rx="1.3" ry="1.9" fill="none" stroke="#000" stroke-width="1.0" transform="rotate(20 212.3 518.5)"/>
<ellipse cx="217.5" cy="543.5" rx="1.3" ry="1.9" fill="none" stroke="#000" stroke-width="1.0" transform="rotate(20 217.5 543.5)"/>
<ellipse cx="227.8" cy="529" rx="1.2" ry="2.2" fill="none" stroke="#000" stroke-width="1.0" transform="rotate(10 227.8 529)"/>
<ellipse cx="220" cy="559.5" rx="1.2" ry="2" fill="none" stroke="#000" stroke-width="1.0" transform="rotate(10 220 559.5)"/>
<path d="M271.6 565.4 L436.6 660.8 L413.5 676.7 Q411.5 684 410 689.5 Q408 694.5 402.2 693 L215.1 584.5 L215.1 583 L234 580.5 Q240 580 244 577.8 Z" fill="#fff" stroke="#000" stroke-width="1.5" stroke-linejoin="round" stroke-linecap="round" />
<path d="M234 580.8 L409.5 682.5" fill="none" stroke="#000" stroke-width="1.5" stroke-linejoin="round" stroke-linecap="round" />
<path d="M409.5 682.5 L413.5 676.7" fill="none" stroke="#000" stroke-width="1.0" stroke-linejoin="round" stroke-linecap="round" />
<ellipse cx="268" cy="569.5" rx="2.1" ry="1.4" fill="#000" stroke="#000" stroke-width="1.0" transform="rotate(-20 268 569.5)"/>
<ellipse cx="308.5" cy="593" rx="2.1" ry="1.4" fill="#000" stroke="#000" stroke-width="1.0" transform="rotate(-20 308.5 593)"/>
<ellipse cx="349" cy="616.5" rx="2.1" ry="1.4" fill="#000" stroke="#000" stroke-width="1.0" transform="rotate(-20 349 616.5)"/>
<ellipse cx="389.5" cy="639.5" rx="2.1" ry="1.4" fill="#000" stroke="#000" stroke-width="1.0" transform="rotate(-20 389.5 639.5)"/>
<ellipse cx="429.5" cy="663" rx="2.1" ry="1.4" fill="#000" stroke="#000" stroke-width="1.0" transform="rotate(-20 429.5 663)"/>
<ellipse cx="231" cy="589.5" rx="2.1" ry="1.4" fill="#000" stroke="#000" stroke-width="1.0" transform="rotate(-20 231 589.5)"/>
<ellipse cx="263" cy="608" rx="2.1" ry="1.4" fill="#000" stroke="#000" stroke-width="1.0" transform="rotate(-20 263 608)"/>
<ellipse cx="295" cy="626.5" rx="2.1" ry="1.4" fill="#000" stroke="#000" stroke-width="1.0" transform="rotate(-20 295 626.5)"/>
<ellipse cx="331" cy="647.5" rx="2.1" ry="1.4" fill="#000" stroke="#000" stroke-width="1.0" transform="rotate(-20 331 647.5)"/>
<ellipse cx="363" cy="666" rx="2.1" ry="1.4" fill="#000" stroke="#000" stroke-width="1.0" transform="rotate(-20 363 666)"/>
<ellipse cx="395" cy="684.5" rx="2.1" ry="1.4" fill="#000" stroke="#000" stroke-width="1.0" transform="rotate(-20 395 684.5)"/>
<line x1="267.9" y1="541" x2="267.9" y2="566" stroke="#000" stroke-width="1.5" />
<path d="M265.6 527 V541.5 H270.2 V527" fill="#fff" stroke="#000" stroke-width="1.0" stroke-linejoin="round" stroke-linecap="round" />
<line x1="265.6" y1="531" x2="270.2" y2="530.4" stroke="#000" stroke-width="0.9" />
<line x1="265.6" y1="533.5" x2="270.2" y2="532.9" stroke="#000" stroke-width="0.9" />
<line x1="265.6" y1="536" x2="270.2" y2="535.4" stroke="#000" stroke-width="0.9" />
<line x1="265.6" y1="538.5" x2="270.2" y2="537.9" stroke="#000" stroke-width="0.9" />
<path d="M261 526 Q261 521.2 267.9 521.2 Q274.8 521.2 274.8 526 Q274.8 528.6 267.9 528.6 Q261 528.6 261 526 Z" fill="#fff" stroke="#000" stroke-width="1.3" stroke-linejoin="round" stroke-linecap="round" />
<line x1="267.9" y1="619.4" x2="267.9" y2="646" stroke="#000" stroke-width="1.5" />
<ellipse cx="267.9" cy="653.5" rx="6.2" ry="4.6" fill="#fff" stroke="#000" stroke-width="1.8"/>
<ellipse cx="267.9" cy="650.3" rx="6.2" ry="3.8" fill="#fff" stroke="#000" stroke-width="1.6"/>
<ellipse cx="267.9" cy="650.5" rx="2.8" ry="1.6" fill="#999" stroke="#000" stroke-width="1.2"/>
<path d="M264.5 654 V658 M271.5 654 V658" fill="none" stroke="#000" stroke-width="1.0" stroke-linejoin="round" stroke-linecap="round" />
<path d="M455.2 654.1 L476.2 667 L445.4 692.6 Z" fill="#fff" stroke="#000" stroke-width="1.4" stroke-linejoin="round" stroke-linecap="round" />
<ellipse cx="469.5" cy="667" rx="1.3" ry="1.9" fill="none" stroke="#000" stroke-width="1.0" transform="rotate(20 469.5 667)"/>
<ellipse cx="453.5" cy="680.5" rx="1.3" ry="1.9" fill="none" stroke="#000" stroke-width="1.0" transform="rotate(20 453.5 680.5)"/>
<path d="M495 678.5 L642.4 763.4 L632.1 800.6 L619.8 820.3 L462.8 728.9 L464.6 704 Z" fill="#fff" stroke="#000" stroke-width="1.5" stroke-linejoin="round" stroke-linecap="round" />
<path d="M464.6 704 L632.1 800.6" fill="none" stroke="#000" stroke-width="1.5" stroke-linejoin="round" stroke-linecap="round" />
<ellipse cx="497.5" cy="684" rx="1.4" ry="2" fill="none" stroke="#000" stroke-width="1.0" transform="rotate(20 497.5 684)"/>
<ellipse cx="532" cy="703.5" rx="1.4" ry="2" fill="none" stroke="#000" stroke-width="1.0" transform="rotate(20 532 703.5)"/>
<ellipse cx="567" cy="724" rx="1.4" ry="2" fill="none" stroke="#000" stroke-width="1.0" transform="rotate(20 567 724)"/>
<ellipse cx="602" cy="744" rx="1.4" ry="2" fill="none" stroke="#000" stroke-width="1.0" transform="rotate(20 602 744)"/>
<ellipse cx="637.5" cy="764.5" rx="1.4" ry="2" fill="none" stroke="#000" stroke-width="1.0" transform="rotate(20 637.5 764.5)"/>
<ellipse cx="467.5" cy="727.5" rx="1.4" ry="2" fill="none" stroke="#000" stroke-width="1.0" transform="rotate(20 467.5 727.5)"/>
<ellipse cx="483.5" cy="737" rx="1.4" ry="2" fill="none" stroke="#000" stroke-width="1.0" transform="rotate(20 483.5 737)"/>
<ellipse cx="511" cy="753" rx="1.4" ry="2" fill="none" stroke="#000" stroke-width="1.0" transform="rotate(20 511 753)"/>
<ellipse cx="538" cy="768.5" rx="1.4" ry="2" fill="none" stroke="#000" stroke-width="1.0" transform="rotate(20 538 768.5)"/>
<ellipse cx="565" cy="784.5" rx="1.4" ry="2" fill="none" stroke="#000" stroke-width="1.0" transform="rotate(20 565 784.5)"/>
<ellipse cx="592.5" cy="800" rx="1.4" ry="2" fill="none" stroke="#000" stroke-width="1.0" transform="rotate(20 592.5 800)"/>
<ellipse cx="619.5" cy="816" rx="1.4" ry="2" fill="none" stroke="#000" stroke-width="1.0" transform="rotate(20 619.5 816)"/>
<defs><pattern id="dots" width="2" height="2" patternUnits="userSpaceOnUse"><rect width="2" height="2" fill="#fff"/><rect width="1" height="1" fill="#333"/></pattern></defs>
<path d="M240.8 693.8 L279.2 716.2 L221.4 727 Z" fill="url(#dots)" stroke="#000" stroke-width="1.2" stroke-linejoin="round"/>
<path d="M268.4 688 L288.5 700 L276.7 706.9 L256.1 694.8 Z" fill="url(#dots)" stroke="#000" stroke-width="1.2" stroke-linejoin="round"/>
<path d="M288 676.7 L307.5 688.8 L295 696.3 L274.2 683.8 Z" fill="url(#dots)" stroke="#000" stroke-width="1.2" stroke-linejoin="round"/>
<path d="M308.5 664.2 L328.6 675.7 L315.1 683.8 L293.7 673 Z" fill="url(#dots)" stroke="#000" stroke-width="1.2" stroke-linejoin="round"/>
<line x1="155.9" y1="51" x2="155.9" y2="162" stroke="#000" stroke-width="1.5" />
<path d="M155.9 123.4 L171.2 123.4 L171.2 138" fill="none" stroke="#000" stroke-width="1.5" stroke-linejoin="round" stroke-linecap="round" />
<path d="M171.2 162.6 L171.2 251.3 L387.4 251.3 L387.4 280" fill="none" stroke="#000" stroke-width="1.5" stroke-linejoin="round" stroke-linecap="round" />
<line x1="120.3" y1="46.9" x2="150.4" y2="46.9" stroke="#000" stroke-width="1.5" />
<line x1="116.5" y1="79" x2="150.4" y2="79" stroke="#000" stroke-width="1.5" />
<line x1="120.8" y1="100.3" x2="149.9" y2="100.3" stroke="#000" stroke-width="1.5" />
<line x1="112.7" y1="146" x2="149.6" y2="146" stroke="#000" stroke-width="1.5" />
<line x1="116.5" y1="168.6" x2="150.9" y2="168.6" stroke="#000" stroke-width="1.5" />
<path d="M149.4 44 Q149.4 40 155.9 40 Q162.4 40 162.4 44 L161.4 49.5 Q155.9 53 150.4 49.5 Z" fill="#fff" stroke="#000" stroke-width="1.4" stroke-linejoin="round" stroke-linecap="round" />
<path d="M149.4 44.5 Q155.9 49 162.4 44.5" fill="none" stroke="#000" stroke-width="1.0" stroke-linejoin="round" stroke-linecap="round" />
<path d="M149.4 70.7 V86.5 Q155.9 92.5 162.4 86.5 V70.7" fill="#fff" stroke="#000" stroke-width="1.4" stroke-linejoin="round" stroke-linecap="round" />
<ellipse cx="155.9" cy="70.7" rx="6.5" ry="3.2" fill="#fff" stroke="#000" stroke-width="1.4"/>
<circle cx="155.9" cy="70.9" r="0.9" fill="#000"/>
<ellipse cx="155.9" cy="100.3" rx="6" ry="3.3" fill="#fff" stroke="#000" stroke-width="2.5"/>
<ellipse cx="155.9" cy="100.3" rx="2.4" ry="1.3" fill="#ddd" stroke="#000" stroke-width="0.8"/>
<ellipse cx="155.9" cy="146.8" rx="6" ry="3.3" fill="#fff" stroke="#000" stroke-width="2.5"/>
<ellipse cx="155.9" cy="146.8" rx="2.4" ry="1.3" fill="#ddd" stroke="#000" stroke-width="0.8"/>
<path d="M153.3 162.5 Q155.9 160 158.5 162.5 V174.5 H153.3 Z" fill="#fff" stroke="#000" stroke-width="1.1" stroke-linejoin="round" stroke-linecap="round" />
<line x1="153.3" y1="164" x2="158.5" y2="163.2" stroke="#000" stroke-width="1.1" />
<line x1="153.3" y1="166" x2="158.5" y2="165.2" stroke="#000" stroke-width="1.1" />
<line x1="153.3" y1="168" x2="158.5" y2="167.2" stroke="#000" stroke-width="1.1" />
<line x1="153.3" y1="170" x2="158.5" y2="169.2" stroke="#000" stroke-width="1.1" />
<line x1="153.3" y1="172" x2="158.5" y2="171.2" stroke="#000" stroke-width="1.1" />
<line x1="153.3" y1="174" x2="158.5" y2="173.2" stroke="#000" stroke-width="1.1" />
<ellipse cx="155.9" cy="176" rx="6" ry="2.6" fill="#fff" stroke="#000" stroke-width="1.3"/>
<ellipse cx="155.9" cy="180" rx="5.6" ry="3.2" fill="#fff" stroke="#000" stroke-width="2.0"/>
<path d="M150.3 176.5 V180 M161.5 176.5 V180 M153.9 178.5 V182.5 M158.4 178.5 V182.5" fill="none" stroke="#000" stroke-width="1.1" stroke-linejoin="round" stroke-linecap="round" />
<ellipse cx="155.9" cy="176.7" rx="5.6" ry="2.6" fill="#fff" stroke="#000" stroke-width="1.5"/>
<line x1="279.3" y1="84" x2="279.3" y2="177" stroke="#000" stroke-width="1.5" />
<path d="M279.3 136.7 L307.8 136.7 L307.8 238.8 L396.7 238.8 L396.7 268" fill="none" stroke="#000" stroke-width="1.5" stroke-linejoin="round" stroke-linecap="round" />
<line x1="244.5" y1="79.5" x2="273.4" y2="79.5" stroke="#000" stroke-width="1.5" />
<line x1="286" y1="95.3" x2="311.8" y2="95.3" stroke="#000" stroke-width="1.5" />
<line x1="247.8" y1="112.9" x2="273.4" y2="112.9" stroke="#000" stroke-width="1.5" />
<line x1="247" y1="163.1" x2="273.4" y2="163.1" stroke="#000" stroke-width="1.5" />
<line x1="245.8" y1="187.5" x2="274.7" y2="187.5" stroke="#000" stroke-width="1.5" />
<path d="M275.7 70.4 Q275.9 68.6 279.3 68.4 Q282.7 68.6 282.9 70.4 L286.3 80.7 Q285.9 84.5 279.3 85.1 Q272.7 84.5 272.3 80.7 Z" fill="#fff" stroke="#000" stroke-width="1.4" stroke-linejoin="round" stroke-linecap="round" />
<path d="M272.9 77.7 Q279.3 81.7 285.7 77.7" fill="none" stroke="#000" stroke-width="1.0" stroke-linejoin="round" stroke-linecap="round" />
<path d="M272.8 90 V101.5 Q279.3 107.5 285.8 101.5 V90" fill="#fff" stroke="#000" stroke-width="1.4" stroke-linejoin="round" stroke-linecap="round" />
<ellipse cx="279.3" cy="90" rx="6.5" ry="3.2" fill="#fff" stroke="#000" stroke-width="1.4"/>
<circle cx="279.3" cy="90.2" r="0.9" fill="#000"/>
<circle cx="279.3" cy="86.5" r="0.8" fill="#000"/>
<ellipse cx="279.3" cy="112.1" rx="6" ry="3.3" fill="#fff" stroke="#000" stroke-width="2.5"/>
<ellipse cx="279.3" cy="112.1" rx="2.4" ry="1.3" fill="#ddd" stroke="#000" stroke-width="0.8"/>
<ellipse cx="279.3" cy="163.1" rx="6" ry="3.3" fill="#fff" stroke="#000" stroke-width="2.5"/>
<ellipse cx="279.3" cy="163.1" rx="2.4" ry="1.3" fill="#ddd" stroke="#000" stroke-width="0.8"/>
<path d="M276.7 178 Q279.3 175.5 281.9 178 V190.7 H276.7 Z" fill="#fff" stroke="#000" stroke-width="1.1" stroke-linejoin="round" stroke-linecap="round" />
<line x1="276.7" y1="179.5" x2="281.9" y2="178.7" stroke="#000" stroke-width="1.1" />
<line x1="276.7" y1="181.5" x2="281.9" y2="180.7" stroke="#000" stroke-width="1.1" />
<line x1="276.7" y1="183.5" x2="281.9" y2="182.7" stroke="#000" stroke-width="1.1" />
<line x1="276.7" y1="185.5" x2="281.9" y2="184.7" stroke="#000" stroke-width="1.1" />
<line x1="276.7" y1="187.5" x2="281.9" y2="186.7" stroke="#000" stroke-width="1.1" />
<line x1="276.7" y1="189.5" x2="281.9" y2="188.7" stroke="#000" stroke-width="1.1" />
<ellipse cx="279.3" cy="192.2" rx="6" ry="2.6" fill="#fff" stroke="#000" stroke-width="1.3"/>
<ellipse cx="279.3" cy="196.2" rx="5.6" ry="3.2" fill="#fff" stroke="#000" stroke-width="2.0"/>
<path d="M273.7 192.7 V196.2 M284.9 192.7 V196.2 M277.3 194.7 V198.7 M281.8 194.7 V198.7" fill="none" stroke="#000" stroke-width="1.1" stroke-linejoin="round" stroke-linecap="round" />
<ellipse cx="279.3" cy="192.9" rx="5.6" ry="2.6" fill="#fff" stroke="#000" stroke-width="1.5"/>
<line x1="379.8" y1="58" x2="379.8" y2="150" stroke="#000" stroke-width="1.5" />
<path d="M379.8 100.3 L403.7 100.3 L403.7 254" fill="none" stroke="#000" stroke-width="1.5" stroke-linejoin="round" stroke-linecap="round" />
<line x1="385.4" y1="52.1" x2="414.2" y2="52.1" stroke="#000" stroke-width="1.5" />
<line x1="386.6" y1="75.7" x2="414.2" y2="75.7" stroke="#000" stroke-width="1.5" />
<line x1="346.4" y1="116.2" x2="372.8" y2="116.2" stroke="#000" stroke-width="1.5" />
<line x1="346.4" y1="136" x2="374" y2="135.5" stroke="#000" stroke-width="1.5" />
<line x1="343.2" y1="160.1" x2="374" y2="159.4" stroke="#000" stroke-width="1.5" />
<path d="M376.2 45.3 Q376.4 43.5 379.8 43.3 Q383.2 43.5 383.4 45.3 L386.8 55.2 Q386.4 59 379.8 59.6 Q373.2 59 372.8 55.2 Z" fill="#fff" stroke="#000" stroke-width="1.4" stroke-linejoin="round" stroke-linecap="round" />
<path d="M373.4 52.2 Q379.8 56.2 386.2 52.2" fill="none" stroke="#000" stroke-width="1.0" stroke-linejoin="round" stroke-linecap="round" />
<ellipse cx="379.8" cy="75.7" rx="6" ry="3.3" fill="#fff" stroke="#000" stroke-width="2.5"/>
<ellipse cx="379.8" cy="75.7" rx="2.4" ry="1.3" fill="#ddd" stroke="#000" stroke-width="0.8"/>
<ellipse cx="379.8" cy="117.1" rx="7.2" ry="4.2" fill="#fff" stroke="#000" stroke-width="1.3"/>
<ellipse cx="379.8" cy="115.6" rx="7.2" ry="4.2" fill="#fff" stroke="#000" stroke-width="1.6"/>
<ellipse cx="379.8" cy="115.6" rx="3.6" ry="2" fill="#ccc" stroke="#000" stroke-width="1.6"/>
<ellipse cx="379.8" cy="135" rx="6" ry="3.3" fill="#fff" stroke="#000" stroke-width="2.5"/>
<ellipse cx="379.8" cy="135" rx="2.4" ry="1.3" fill="#ddd" stroke="#000" stroke-width="0.8"/>
<ellipse cx="379.8" cy="157.1" rx="6.2" ry="5" fill="#fff" stroke="#000" stroke-width="1.8"/>
<ellipse cx="379.8" cy="154.6" rx="6.2" ry="3.7" fill="#fff" stroke="#000" stroke-width="1.6"/>
<ellipse cx="379.8" cy="154.6" rx="3.1" ry="1.9" fill="#bbb" stroke="#000" stroke-width="1.2"/>
<line x1="552.4" y1="134" x2="552.4" y2="178.5" stroke="#000" stroke-width="1.5" />
<line x1="785.3" y1="135.5" x2="785.3" y2="169.4" stroke="#000" stroke-width="1.5" />
<line x1="757.4" y1="163.1" x2="757.4" y2="199.5" stroke="#000" stroke-width="1.5" />
<line x1="731.1" y1="182" x2="731.1" y2="215.9" stroke="#000" stroke-width="1.5" />
<line x1="704.2" y1="199.6" x2="704.2" y2="228.5" stroke="#000" stroke-width="1.5" />
<line x1="839" y1="164.4" x2="839" y2="203.3" stroke="#000" stroke-width="1.5" />
<line x1="706.7" y1="237.2" x2="782" y2="193.3" stroke="#000" stroke-width="1.5" />
<line x1="804.6" y1="180.7" x2="826" y2="168.1" stroke="#000" stroke-width="1.5" />
<path d="M773.2 200.8 L814.7 225.1 L729.3 274.1" fill="none" stroke="#000" stroke-width="1.5" stroke-linejoin="round" stroke-linecap="round" />
<path d="M781.7 173.5 L788.1 168.5 L799.8 174.4 L799.8 177.5 L795.5 179.3 L803.8 184.1 L811.6 182 L820.9 187.7 L820.9 196.2 L803.8 207.6 L800.5 207.3 L782.5 196.9 Z" fill="#fff" stroke="#000" stroke-width="1.8" stroke-linejoin="round" stroke-linecap="round" />
<path d="M782.2 176.8 L802.4 187.7 L802.4 206.5" fill="none" stroke="#000" stroke-width="1.4" stroke-linejoin="round" stroke-linecap="round" />
<path d="M789 171.5 L789 174.5 L795.5 179.3" fill="none" stroke="#000" stroke-width="1.5" stroke-linejoin="round" stroke-linecap="round" />
<path d="M802.4 187.7 L811.6 182" fill="none" stroke="#000" stroke-width="1.2" stroke-linejoin="round" stroke-linecap="round" />
<ellipse cx="816.3" cy="193.6" rx="2" ry="3" fill="none" stroke="#000" stroke-width="1.7" transform="rotate(20 816.3 193.6)"/>
<rect x="785" y="191.5" width="2.6" height="2.8" fill="#000" transform="rotate(28 786 193)"/><rect x="794.3" y="196.8" width="2.6" height="2.8" fill="#000" transform="rotate(28 795.5 198)"/>
<ellipse cx="826.5" cy="169.2" rx="1.5" ry="3.1" fill="#fff" stroke="#000" stroke-width="1.1" transform="rotate(-30 826.5 169.2)"/>
<ellipse cx="828.4" cy="168.1" rx="1.5" ry="3.1" fill="#fff" stroke="#000" stroke-width="1.1" transform="rotate(-30 828.4 168.1)"/>
<ellipse cx="830.4" cy="167" rx="1.5" ry="3.1" fill="#fff" stroke="#000" stroke-width="1.1" transform="rotate(-30 830.4 167)"/>
<ellipse cx="832.3" cy="165.9" rx="1.5" ry="3.1" fill="#fff" stroke="#000" stroke-width="1.1" transform="rotate(-30 832.3 165.9)"/>
<ellipse cx="834.2" cy="164.9" rx="1.5" ry="3.1" fill="#fff" stroke="#000" stroke-width="1.1" transform="rotate(-30 834.2 164.9)"/>
<ellipse cx="836.1" cy="163.8" rx="1.5" ry="3.1" fill="#fff" stroke="#000" stroke-width="1.1" transform="rotate(-30 836.1 163.8)"/>
<ellipse cx="838.1" cy="162.7" rx="1.5" ry="3.1" fill="#fff" stroke="#000" stroke-width="1.1" transform="rotate(-30 838.1 162.7)"/>
<ellipse cx="840" cy="161.6" rx="1.5" ry="3.1" fill="#fff" stroke="#000" stroke-width="1.1" transform="rotate(-30 840 161.6)"/>
<ellipse cx="842.6" cy="160.6" rx="4" ry="5.8" fill="#fff" stroke="#000" stroke-width="1.5" transform="rotate(-25 842.6 160.6)"/>
<ellipse cx="843.8" cy="159.9" rx="4" ry="5.8" fill="#fff" stroke="#000" stroke-width="1.3" transform="rotate(-25 843.8 159.9)"/>
<ellipse cx="761.6" cy="206" rx="4.6" ry="6.2" fill="#fff" stroke="#000" stroke-width="1.7" transform="rotate(-25 761.6 206)"/>
<ellipse cx="760.8" cy="206.6" rx="2.4" ry="3.2" fill="#aaa" stroke="#000" stroke-width="1.5" transform="rotate(-25 760.8 206.6)"/>
<ellipse cx="733.3" cy="221.6" rx="3.7" ry="5.4" fill="#fff" stroke="#000" stroke-width="3.0" transform="rotate(-25 733.3 221.6)"/>
<ellipse cx="706.9" cy="237.4" rx="6.6" ry="7" fill="#fff" stroke="#000" stroke-width="2.0" transform="rotate(-30 706.9 237.4)"/>
<ellipse cx="705.3" cy="238.2" rx="4.6" ry="5.4" fill="#fff" stroke="#000" stroke-width="1.6" transform="rotate(-30 705.3 238.2)"/>
<ellipse cx="704.6" cy="238.6" rx="2.2" ry="3.6" fill="#ddd" stroke="#000" stroke-width="1.4" transform="rotate(-30 704.6 238.6)"/>
<path d="M709.5 233 L712.5 236.5" fill="none" stroke="#000" stroke-width="1.5" stroke-linejoin="round" stroke-linecap="round" />
<path d="M703 231.8 L707.5 231.2" fill="none" stroke="#000" stroke-width="1.5" stroke-linejoin="round" stroke-linecap="round" />
<path d="M892.2 54.6 L1068 156.9 L1055.1 166.1 L878.4 65.1 L878.4 58 L883.8 59.2 Z" fill="#fff" stroke="#000" stroke-width="1.6" stroke-linejoin="round" stroke-linecap="round" />
<path d="M883.8 59.2 L884.2 60.5 L1047.8 156 L1055.1 166.1" fill="none" stroke="#000" stroke-width="1.5" stroke-linejoin="round" stroke-linecap="round" />
<line x1="885.2" y1="62" x2="885.5" y2="64.7" stroke="#000" stroke-width="1.4" />
<line x1="926" y1="86" x2="926.3" y2="88.7" stroke="#000" stroke-width="1.4" />
<line x1="966.5" y1="109.5" x2="966.8" y2="112.2" stroke="#000" stroke-width="1.4" />
<line x1="1006.5" y1="133" x2="1006.8" y2="135.7" stroke="#000" stroke-width="1.4" />
<line x1="990.7" y1="88.8" x2="967.3" y2="101.3" stroke="#000" stroke-width="1.5" />
<path d="M896.8 125 L896.8 204.6 L790.4 264.8 L790 423.1 L567.8 549.7" fill="none" stroke="#000" stroke-width="1.5" stroke-linejoin="round" stroke-linecap="round" />
<line x1="567.8" y1="549.7" x2="567.8" y2="651" stroke="#000" stroke-width="1.5" />
<ellipse cx="896.8" cy="122" rx="6.2" ry="5" fill="#fff" stroke="#000" stroke-width="1.8"/>
<ellipse cx="896.8" cy="119.5" rx="6.2" ry="3.7" fill="#fff" stroke="#000" stroke-width="1.6"/>
<ellipse cx="896.8" cy="119.5" rx="3.1" ry="1.9" fill="#bbb" stroke="#000" stroke-width="1.2"/>
<ellipse cx="896.8" cy="150.1" rx="5.8" ry="3.2" fill="#fff" stroke="#000" stroke-width="2.5"/>
<ellipse cx="896.8" cy="150.1" rx="2.3" ry="1.3" fill="#ddd" stroke="#000" stroke-width="0.8"/>
<ellipse cx="896.8" cy="177.1" rx="5.8" ry="3.2" fill="#fff" stroke="#000" stroke-width="2.5"/>
<ellipse cx="896.8" cy="177.1" rx="2.3" ry="1.3" fill="#ddd" stroke="#000" stroke-width="0.8"/>
<line x1="901.5" y1="123" x2="927.1" y2="136.8" stroke="#000" stroke-width="1.5" />
<line x1="901.8" y1="150.6" x2="927.1" y2="165.2" stroke="#000" stroke-width="1.5" />
<line x1="901.8" y1="178.2" x2="927.1" y2="193.8" stroke="#000" stroke-width="1.5" />
<line x1="1108" y1="123.5" x2="922.6" y2="230" stroke="#000" stroke-width="1.5" />
<line x1="922.6" y1="230" x2="805.9" y2="297.9" stroke="#000" stroke-width="1.5" />
<ellipse cx="1113.4" cy="119.7" rx="5" ry="5.8" fill="#fff" stroke="#000" stroke-width="2.2" transform="rotate(-30 1113.4 119.7)"/>
<ellipse cx="1112.4" cy="120.3" rx="3" ry="3.8" fill="#ccc" stroke="#000" stroke-width="1.6" transform="rotate(-30 1112.4 120.3)"/>
<ellipse cx="1080.8" cy="138.6" rx="3" ry="5.2" fill="#fff" stroke="#000" stroke-width="2.6" transform="rotate(-30 1080.8 138.6)"/>
<line x1="1118.4" y1="123.5" x2="1144.8" y2="139.3" stroke="#000" stroke-width="1.5" />
<line x1="1085.8" y1="142.3" x2="1115.4" y2="156.9" stroke="#000" stroke-width="1.5" />
<line x1="297.5" y1="397" x2="334.2" y2="397" stroke="#000" stroke-width="1.5" />
<path d="M340.9 406 L340.9 417.3 L388.2 391.3" fill="none" stroke="#000" stroke-width="1.5" stroke-linejoin="round" stroke-linecap="round" />
<path d="M335 388 V403 Q342 409 349.5 403 V388" fill="#fff" stroke="#000" stroke-width="1.4" stroke-linejoin="round" stroke-linecap="round" />
<path d="M338.5 390 V405.5 M346 390 V405.5" fill="none" stroke="#000" stroke-width="1.0" stroke-linejoin="round" stroke-linecap="round" />
<ellipse cx="342.3" cy="387.5" rx="7.6" ry="4" fill="#fff" stroke="#000" stroke-width="1.5"/>
<ellipse cx="342.3" cy="387.2" rx="3.8" ry="1.9" fill="#ddd" stroke="#000" stroke-width="1.3"/>
<line x1="417.7" y1="521.6" x2="495.5" y2="477.2" stroke="#000" stroke-width="1.5" />
<line x1="455.3" y1="507.3" x2="483.4" y2="521.6" stroke="#000" stroke-width="1.5" />
<line x1="431.5" y1="519.8" x2="457.8" y2="535.4" stroke="#000" stroke-width="1.5" />
<ellipse cx="422.5" cy="519" rx="1.4" ry="2.8" fill="#fff" stroke="#000" stroke-width="1.3" transform="rotate(-30 422.5 519)"/>
<ellipse cx="424.5" cy="517.9" rx="1.4" ry="2.8" fill="#fff" stroke="#000" stroke-width="1.3" transform="rotate(-30 424.5 517.9)"/>
<ellipse cx="426.5" cy="516.8" rx="1.4" ry="2.8" fill="#fff" stroke="#000" stroke-width="1.3" transform="rotate(-30 426.5 516.8)"/>
<ellipse cx="428.5" cy="515.7" rx="1.4" ry="2.8" fill="#fff" stroke="#000" stroke-width="1.3" transform="rotate(-30 428.5 515.7)"/>
<ellipse cx="430.5" cy="514.6" rx="1.4" ry="2.8" fill="#fff" stroke="#000" stroke-width="1.3" transform="rotate(-30 430.5 514.6)"/>
<ellipse cx="432.5" cy="513.5" rx="1.4" ry="2.8" fill="#fff" stroke="#000" stroke-width="1.3" transform="rotate(-30 432.5 513.5)"/>
<ellipse cx="416.8" cy="522" rx="4.8" ry="5.6" fill="#fff" stroke="#000" stroke-width="2.0" transform="rotate(-30 416.8 522)"/>
<ellipse cx="416" cy="522.4" rx="3" ry="3.8" fill="#fff" stroke="#000" stroke-width="1.0" transform="rotate(-30 416 522.4)"/>
<ellipse cx="450.8" cy="502.8" rx="3.6" ry="5.8" fill="#fff" stroke="#000" stroke-width="2.4" transform="rotate(-30 450.8 502.8)"/>
<ellipse cx="450.8" cy="502.8" rx="1.2" ry="2.8" fill="#fff" stroke="#000" stroke-width="0.8" transform="rotate(-30 450.8 502.8)"/>
<path d="M560.3 591.4 L601 613.2 L596.4 620.3 L555.7 598.5 L555.7 596.5 Z" fill="#fff" stroke="#000" stroke-width="1.4" stroke-linejoin="round" stroke-linecap="round" />
<path d="M555.7 596.5 L596.4 618.3 L601 613.2" fill="none" stroke="#000" stroke-width="1.1" stroke-linejoin="round" stroke-linecap="round" />
<line x1="567.8" y1="585" x2="567.8" y2="596.5" stroke="#000" stroke-width="1.5" />
<ellipse cx="567.5" cy="599.5" rx="2.2" ry="1.2" fill="#000" stroke="#000" stroke-width="1.2" transform="rotate(30 567.5 599.5)"/>
<ellipse cx="588.5" cy="611" rx="2.2" ry="1.2" fill="#000" stroke="#000" stroke-width="1.2" transform="rotate(30 588.5 611)"/>
<line x1="611" y1="592.4" x2="584.6" y2="607.7" stroke="#000" stroke-width="1.5" />
<line x1="534.9" y1="609" x2="562" y2="624.5" stroke="#000" stroke-width="1.5" />
<ellipse cx="567.8" cy="625.3" rx="5.6" ry="3.2" fill="#fff" stroke="#000" stroke-width="1.4"/>
<ellipse cx="567.8" cy="625.3" rx="2.8" ry="1.5" fill="#fff" stroke="#000" stroke-width="1.2"/>
<line x1="567.8" y1="628.5" x2="567.8" y2="651" stroke="#000" stroke-width="1.5" />
<path d="M565.2 651.5 Q567.8 649 570.4 651.5 V661.5 H565.2 Z" fill="#fff" stroke="#000" stroke-width="1.1" stroke-linejoin="round" stroke-linecap="round" />
<line x1="565.2" y1="653" x2="570.4" y2="652.2" stroke="#000" stroke-width="1.1" />
<line x1="565.2" y1="655" x2="570.4" y2="654.2" stroke="#000" stroke-width="1.1" />
<line x1="565.2" y1="657" x2="570.4" y2="656.2" stroke="#000" stroke-width="1.1" />
<line x1="565.2" y1="659" x2="570.4" y2="658.2" stroke="#000" stroke-width="1.1" />
<line x1="565.2" y1="661" x2="570.4" y2="660.2" stroke="#000" stroke-width="1.1" />
<ellipse cx="567.8" cy="663" rx="6" ry="2.6" fill="#fff" stroke="#000" stroke-width="1.3"/>
<ellipse cx="567.8" cy="666" rx="5.6" ry="3.2" fill="#fff" stroke="#000" stroke-width="2.0"/>
<path d="M562.2 663.5 V666 M573.4 663.5 V666 M565.8 665.5 V668.5 M570.3 665.5 V668.5" fill="none" stroke="#000" stroke-width="1.1" stroke-linejoin="round" stroke-linecap="round" />
<ellipse cx="567.8" cy="663.7" rx="5.6" ry="2.6" fill="#fff" stroke="#000" stroke-width="1.5"/>
<line x1="573.5" y1="663.6" x2="599.3" y2="663.6" stroke="#000" stroke-width="1.5" />
<path d="M617.5 625.8 L742.8 698.1 L737.6 703.1 L613.7 631.2 L613.7 629.5 Z" fill="#fff" stroke="#000" stroke-width="1.4" stroke-linejoin="round" stroke-linecap="round" />
<path d="M613.7 629.5 L738.2 701.2 L742.8 698.1" fill="none" stroke="#000" stroke-width="1.0" stroke-linejoin="round" stroke-linecap="round" />
<ellipse cx="623.3" cy="632.6" rx="2.2" ry="1.1" fill="#000" stroke="#000" stroke-width="1.0" transform="rotate(-30 623.3 632.6)"/>
<ellipse cx="644.2" cy="644.7" rx="2.2" ry="1.1" fill="#000" stroke="#000" stroke-width="1.0" transform="rotate(-30 644.2 644.7)"/>
<ellipse cx="665.1" cy="656.7" rx="2.2" ry="1.1" fill="#000" stroke="#000" stroke-width="1.0" transform="rotate(-30 665.1 656.7)"/>
<ellipse cx="686" cy="668.8" rx="2.2" ry="1.1" fill="#000" stroke="#000" stroke-width="1.0" transform="rotate(-30 686 668.8)"/>
<ellipse cx="706.8" cy="680.8" rx="2.2" ry="1.1" fill="#000" stroke="#000" stroke-width="1.0" transform="rotate(-30 706.8 680.8)"/>
<ellipse cx="727.7" cy="692.9" rx="2.2" ry="1.1" fill="#000" stroke="#000" stroke-width="1.0" transform="rotate(-30 727.7 692.9)"/>
<line x1="684.3" y1="666.8" x2="684.3" y2="702" stroke="#000" stroke-width="1.5" />
<line x1="613.1" y1="716.6" x2="585.8" y2="731.8" stroke="#000" stroke-width="1.5" />
<line x1="490" y1="644.5" x2="463.7" y2="660" stroke="#000" stroke-width="1.5" />
<line x1="414.7" y1="602.3" x2="363.3" y2="631.4" stroke="#000" stroke-width="1.5" />
<line x1="296" y1="519.7" x2="271.6" y2="532.7" stroke="#000" stroke-width="1.5" />
<line x1="239.5" y1="638.7" x2="261.6" y2="650.8" stroke="#000" stroke-width="1.5" />
<line x1="247.3" y1="505.5" x2="221" y2="518.6" stroke="#000" stroke-width="1.5" />
<line x1="158.2" y1="453.3" x2="132.3" y2="468.3" stroke="#000" stroke-width="1.5" />
<g id="wm" font-size="163.4" font-weight="bold" fill="none" stroke="#3a3a3a" stroke-width="0.9"><text transform="translate(67.2 142.4) scale(1.102 1)" style="fill:none" vector-effect="non-scaling-stroke">Z</text><text transform="translate(171.5 142.4) scale(0.915 1)" style="fill:none" vector-effect="non-scaling-stroke">U</text><text transform="translate(286.6 142.4) scale(0.982 1)" style="fill:none" vector-effect="non-scaling-stroke">R</text><text transform="translate(397.9 142.4) scale(1.017 1)" style="fill:none" vector-effect="non-scaling-stroke">A</text><text transform="translate(504.4 142.4) scale(0.978 1)" style="fill:none" vector-effect="non-scaling-stroke">V</text><text transform="translate(614.6 142.4) scale(0.926 1)" style="fill:none" vector-effect="non-scaling-stroke">T</text><text transform="translate(708.6 142.4) scale(0.956 1)" style="fill:none" vector-effect="non-scaling-stroke">O</text><text transform="translate(834.6 142.4) scale(0.924 1)" style="fill:none" vector-effect="non-scaling-stroke">.</text><text transform="translate(877.3 142.4) scale(0.982 1)" style="fill:none" vector-effect="non-scaling-stroke">R</text><text transform="translate(995.7 142.4) scale(0.915 1)" style="fill:none" vector-effect="non-scaling-stroke">U</text></g>
</svg>
</body></html>
